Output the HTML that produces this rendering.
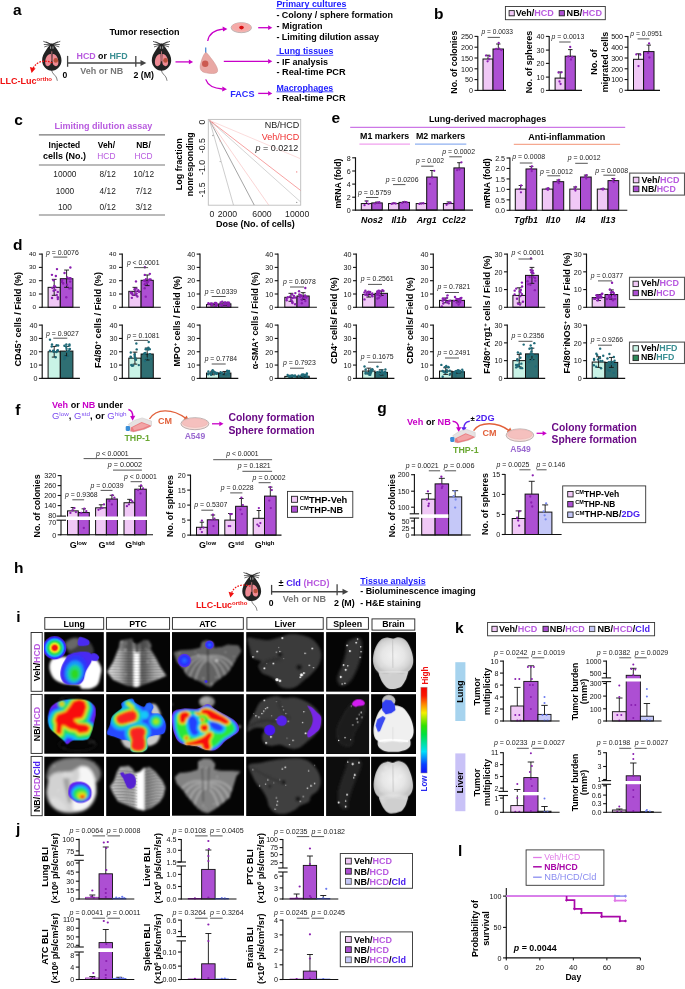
<!DOCTYPE html>
<html><head><meta charset="utf-8"><title>Figure</title>
<style>html,body{margin:0;padding:0;background:#fff}svg{display:block;will-change:transform}text{font-family:"Liberation Sans",sans-serif}</style>
</head><body>
<svg width="685" height="989" viewBox="0 0 685 989" font-family="Liberation Sans, sans-serif">
<rect width="685" height="989" fill="#fff"/>
<!-- pa -->
<text x="13" y="15.2" font-size="15.5" font-weight="bold" fill="#000">a</text>
<text x="109.5" y="34.5" font-size="9" font-weight="bold" fill="#000" textLength="70.1" lengthAdjust="spacingAndGlyphs">Tumor resection</text>
<g transform="translate(51.8 43.8) scale(1)">
<line x1="0" y1="0.8" x2="-8.5" y2="-2.5" stroke="#111" stroke-width="0.65"/>
<line x1="0" y1="0.8" x2="-8" y2="0.7" stroke="#111" stroke-width="0.65"/>
<line x1="0" y1="0.8" x2="-7.5" y2="3.1" stroke="#111" stroke-width="0.65"/>
<line x1="0" y1="0.8" x2="8.5" y2="-2.5" stroke="#111" stroke-width="0.65"/>
<line x1="0" y1="0.8" x2="8" y2="0.7" stroke="#111" stroke-width="0.65"/>
<line x1="0" y1="0.8" x2="7.5" y2="3.1" stroke="#111" stroke-width="0.65"/>
<line x1="0" y1="0.8" x2="-6" y2="-2" stroke="#111" stroke-width="0.65"/>
<line x1="0" y1="0.8" x2="6" y2="-2" stroke="#111" stroke-width="0.65"/>
<path d="M-0.3 26 C0.5 30,3 31,4.2 33 S5 36,5.6 37" fill="none" stroke="#222" stroke-width="0.6"/>
<path d="M0 -0.5 C1.5 0.5,3.5 3,5.5 6 C8 9.5,9.8 13,9.7 17 C9.5 22.5,5 27,0 27 C-5 27,-9.5 22.5,-9.7 17 C-9.8 13,-8 9.5,-5.5 6 C-3.5 3,-1.5 0.5,0 -0.5Z" fill="#222"/>
<line x1="-1.2" y1="2.6" x2="-1.2" y2="5" stroke="#ddd" stroke-width="0.7"/>
<line x1="1.2" y1="2.6" x2="1.2" y2="5" stroke="#ddd" stroke-width="0.7"/>
<line x1="0" y1="7.5" x2="0" y2="17.5" stroke="#b06a70" stroke-width="1"/>
<path d="M-0.9 10.3 C-3.8 9.8,-6.6 13.5,-6.6 18.8 C-6.6 22.3,-4.6 23,-2.5 21.8 C-0.9 21,-0.7 18.5,-0.7 15Z" fill="#ee8a94"/>
<path d="M0.9 10.3 C3.8 9.8,6.6 13.5,6.6 18.8 C6.6 22.3,4.6 23,2.5 21.8 C0.9 21,0.7 18.5,0.7 15Z" fill="#ee8a94"/>
<circle cx="4" cy="16.6" r="2.3" fill="#b8503a"/>
</g>
<g transform="translate(161.5 43.8) scale(1)">
<line x1="0" y1="0.8" x2="-8.5" y2="-2.5" stroke="#111" stroke-width="0.65"/>
<line x1="0" y1="0.8" x2="-8" y2="0.7" stroke="#111" stroke-width="0.65"/>
<line x1="0" y1="0.8" x2="-7.5" y2="3.1" stroke="#111" stroke-width="0.65"/>
<line x1="0" y1="0.8" x2="8.5" y2="-2.5" stroke="#111" stroke-width="0.65"/>
<line x1="0" y1="0.8" x2="8" y2="0.7" stroke="#111" stroke-width="0.65"/>
<line x1="0" y1="0.8" x2="7.5" y2="3.1" stroke="#111" stroke-width="0.65"/>
<line x1="0" y1="0.8" x2="-6" y2="-2" stroke="#111" stroke-width="0.65"/>
<line x1="0" y1="0.8" x2="6" y2="-2" stroke="#111" stroke-width="0.65"/>
<path d="M-0.3 26 C0.5 30,3 31,4.2 33 S5 36,5.6 37" fill="none" stroke="#222" stroke-width="0.6"/>
<path d="M0 -0.5 C1.5 0.5,3.5 3,5.5 6 C8 9.5,9.8 13,9.7 17 C9.5 22.5,5 27,0 27 C-5 27,-9.5 22.5,-9.7 17 C-9.8 13,-8 9.5,-5.5 6 C-3.5 3,-1.5 0.5,0 -0.5Z" fill="#222"/>
<line x1="-1.2" y1="2.6" x2="-1.2" y2="5" stroke="#ddd" stroke-width="0.7"/>
<line x1="1.2" y1="2.6" x2="1.2" y2="5" stroke="#ddd" stroke-width="0.7"/>
<line x1="0" y1="7.5" x2="0" y2="17.5" stroke="#b06a70" stroke-width="1"/>
<path d="M-0.9 10.3 C-3.8 9.8,-6.6 13.5,-6.6 18.8 C-6.6 22.3,-4.6 23,-2.5 21.8 C-0.9 21,-0.7 18.5,-0.7 15Z" fill="#ee8a94"/>
<path d="M0.9 10.3 C3.8 9.8,6.6 13.5,6.6 18.8 C6.6 22.3,4.6 23,2.5 21.8 C0.9 21,0.7 18.5,0.7 15Z" fill="#ee8a94"/>
<circle cx="4" cy="16.6" r="2.3" fill="#b8503a"/>
</g>
<path d="M52.3 62.9 C46 59.8,36.5 60.5,33.2 68.5" fill="none" stroke="#f01010" stroke-width="1.3" stroke-dasharray="1.7 1.2"/>
<path d="M31.6 73 L29.9 67 L35.6 68.6 Z" fill="#f01010"/>
<text x="0" y="83.8" font-size="9" font-weight="bold" fill="#f01010" textLength="52" lengthAdjust="spacingAndGlyphs"><tspan>LLC-Luc</tspan><tspan font-size="6" dy="-3">ortho</tspan></text>
<line x1="67.6" y1="55.9" x2="67.6" y2="66.8" stroke="#444" stroke-width="1.3"/>
<line x1="135.8" y1="55.9" x2="135.8" y2="66.8" stroke="#444" stroke-width="1.3"/>
<line x1="67.6" y1="63" x2="142" y2="63" stroke="#444" stroke-width="1.4"/>
<path d="M146.3 63 L140.5 60 L140.5 66 Z" fill="#444"/>
<text x="65" y="78.1" font-size="8.6" font-weight="bold" fill="#000" text-anchor="middle">0</text>
<text x="133.4" y="78.1" font-size="8.6" font-weight="bold" fill="#000" textLength="20.5" lengthAdjust="spacingAndGlyphs">2 (M)</text>
<text x="76.5" y="58.5" font-size="9" font-weight="bold" fill="#000" textLength="51.1" lengthAdjust="spacingAndGlyphs"><tspan fill="#b85adf">HCD</tspan><tspan> or </tspan><tspan fill="#3b8f93">HFD</tspan></text>
<text x="80.3" y="73.6" font-size="9" font-weight="bold" fill="#777" textLength="42.9" lengthAdjust="spacingAndGlyphs">Veh or NB</text>
<line x1="175.5" y1="61.9" x2="189.4" y2="61.9" stroke="#c800c8" stroke-width="1.3"/>
<path d="M193.1 61.9 L188.9 59.5 L188.9 64.3 Z" fill="#c800c8"/>
<line x1="205.7" y1="47.5" x2="205.7" y2="53" stroke="#4a8ad8" stroke-width="1.3"/>
<path d="M205.5 52.5 C207.5 53,208.5 55,210.5 57.5 C214 62,218.5 68,217.5 71.5 C216.5 74.5,209 73.5,204.5 72.5 C200.5 71.5,199.5 68,200.5 64 C201.5 60,203 55,205.5 52.5Z" fill="#e9a8a4" stroke="#c98f8a" stroke-width="0.5"/>
<circle cx="205.2" cy="63.8" r="3.2" fill="#cc5a50"/>
<path d="M207.7 41 C209 33.5,215 30,223 29.2" fill="none" stroke="#c800c8" stroke-width="1.3"/>
<path d="M227.4 29 L222.6 26.6 L223 31.6 Z" fill="#c800c8"/>
<path d="M205.7 79.4 C208 86,214 88.5,222.5 89" fill="none" stroke="#c800c8" stroke-width="1.3"/>
<path d="M227 89.2 L222.4 86.6 L222.2 91.6 Z" fill="#c800c8"/>
<ellipse cx="241.3" cy="27.7" rx="10.2" ry="5" fill="#f3b4b0" stroke="#b9b0b0" stroke-width="0.9"/>
<ellipse cx="241.3" cy="26.9" rx="9.6" ry="4.1" fill="#f5aaa8"/>
<ellipse cx="241.5" cy="27.6" rx="2.3" ry="1.8" fill="#d80f12"/>
<line x1="258.2" y1="27.7" x2="268.6" y2="27.7" stroke="#c800c8" stroke-width="1.3"/>
<path d="M272.3 27.7 L268.1 25.3 L268.1 30.1 Z" fill="#c800c8"/>
<line x1="223.8" y1="61.3" x2="268.6" y2="61.3" stroke="#c800c8" stroke-width="1.3"/>
<path d="M272.3 61.3 L268.1 58.9 L268.1 63.7 Z" fill="#c800c8"/>
<text x="230.2" y="97.2" font-size="9" font-weight="bold" fill="#2a2aff" textLength="24.3" lengthAdjust="spacingAndGlyphs">FACS</text>
<line x1="258.2" y1="93.4" x2="268.6" y2="93.4" stroke="#c800c8" stroke-width="1.3"/>
<path d="M272.3 93.4 L268.1 91 L268.1 95.8 Z" fill="#c800c8"/>
<text x="276.4" y="7.3" font-size="9" font-weight="bold" fill="#1a1aff" textLength="70" lengthAdjust="spacingAndGlyphs">Primary cultures</text>
<line x1="276.4" y1="8.6" x2="346.4" y2="8.6" stroke="#1a1aff" stroke-width="0.8"/>
<text x="276.4" y="18.1" font-size="9" font-weight="bold" fill="#000" textLength="116.5" lengthAdjust="spacingAndGlyphs">- Colony / sphere formation</text>
<text x="276.4" y="29.2" font-size="9" font-weight="bold" fill="#000">- Migration</text>
<text x="276.4" y="40" font-size="9" font-weight="bold" fill="#000" textLength="102.6" lengthAdjust="spacingAndGlyphs">- Limiting dilution assay</text>
<text x="278.9" y="54" font-size="9" font-weight="bold" fill="#1a1aff" textLength="54.4" lengthAdjust="spacingAndGlyphs">Lung tissues</text>
<line x1="276.4" y1="55.3" x2="333.3" y2="55.3" stroke="#1a1aff" stroke-width="0.8"/>
<text x="276.4" y="64.8" font-size="9" font-weight="bold" fill="#000">- IF analysis</text>
<text x="276.4" y="75.3" font-size="9" font-weight="bold" fill="#000" textLength="69.3" lengthAdjust="spacingAndGlyphs">- Real-time PCR</text>
<text x="276.4" y="90.5" font-size="9" font-weight="bold" fill="#1a1aff" textLength="56.9" lengthAdjust="spacingAndGlyphs">Macrophages</text>
<line x1="276.4" y1="91.8" x2="333.3" y2="91.8" stroke="#1a1aff" stroke-width="0.8"/>
<text x="276.4" y="101.3" font-size="9" font-weight="bold" fill="#000" textLength="69.3" lengthAdjust="spacingAndGlyphs">- Real-time PCR</text>
<!-- pb -->
<text x="434" y="18.8" font-size="15.5" font-weight="bold" fill="#000">b</text>
<rect x="505.4" y="6.5" width="99.9" height="13.2" fill="#fff" stroke="#333" stroke-width="0.9"/>
<rect x="509.1" y="10.6" width="5.2" height="5.2" fill="#f0c8f6" stroke="#222" stroke-width="0.9"/>
<text x="515.7" y="16.4" font-size="8.2" font-weight="bold" fill="#000" textLength="38.2" lengthAdjust="spacingAndGlyphs"><tspan>Veh/</tspan><tspan fill="#b85adf">HCD</tspan></text>
<rect x="559.2" y="10.6" width="5.2" height="5.2" fill="#ad4fd3" stroke="#222" stroke-width="0.9"/>
<text x="566.6" y="16.4" font-size="8.2" font-weight="bold" fill="#000" textLength="35.4" lengthAdjust="spacingAndGlyphs"><tspan>NB/</tspan><tspan fill="#b85adf">HCD</tspan></text>
<rect x="483" y="59" width="10" height="31.4" fill="#f0c8f6" stroke="#111" stroke-width="1"/>
<rect x="493" y="49" width="10.5" height="41.4" fill="#ad4fd3" stroke="#111" stroke-width="1"/>
<line x1="488" y1="55.2" x2="488" y2="59" stroke="#111" stroke-width="0.9"/>
<line x1="485.8" y1="55.2" x2="490.2" y2="55.2" stroke="#111" stroke-width="0.9"/>
<line x1="498.3" y1="44" x2="498.3" y2="49" stroke="#111" stroke-width="0.9"/>
<line x1="496.1" y1="44" x2="500.5" y2="44" stroke="#111" stroke-width="0.9"/>
<circle cx="486" cy="55.6" r="1.15" fill="#8a1fb0"/>
<circle cx="489.7" cy="56.2" r="1.15" fill="#8a1fb0"/>
<circle cx="487.6" cy="61.3" r="1.15" fill="#8a1fb0"/>
<circle cx="489" cy="59.3" r="1.15" fill="#8a1fb0"/>
<circle cx="498.7" cy="42.9" r="1.15" fill="#8a1fb0"/>
<circle cx="496.2" cy="49" r="1.15" fill="#8a1fb0"/>
<circle cx="501.3" cy="50.1" r="1.15" fill="#8a1fb0"/>
<circle cx="499.3" cy="48.7" r="1.15" fill="#8a1fb0"/>
<line x1="477.8" y1="35.9" x2="477.8" y2="90.9" stroke="#111" stroke-width="1.15"/>
<line x1="474.5" y1="36.4" x2="477.8" y2="36.4" stroke="#111" stroke-width="1.09"/>
<text x="473" y="39.17" font-size="7.7" font-weight="normal" fill="#111" text-anchor="end" textLength="11.95" lengthAdjust="spacingAndGlyphs">250</text>
<line x1="474.5" y1="47.2" x2="477.8" y2="47.2" stroke="#111" stroke-width="1.09"/>
<text x="473" y="49.97" font-size="7.7" font-weight="normal" fill="#111" text-anchor="end" textLength="11.95" lengthAdjust="spacingAndGlyphs">200</text>
<line x1="474.5" y1="58" x2="477.8" y2="58" stroke="#111" stroke-width="1.09"/>
<text x="473" y="60.77" font-size="7.7" font-weight="normal" fill="#111" text-anchor="end" textLength="11.95" lengthAdjust="spacingAndGlyphs">150</text>
<line x1="474.5" y1="68.8" x2="477.8" y2="68.8" stroke="#111" stroke-width="1.09"/>
<text x="473" y="71.57" font-size="7.7" font-weight="normal" fill="#111" text-anchor="end" textLength="11.95" lengthAdjust="spacingAndGlyphs">100</text>
<line x1="474.5" y1="79.6" x2="477.8" y2="79.6" stroke="#111" stroke-width="1.09"/>
<text x="473" y="82.37" font-size="7.7" font-weight="normal" fill="#111" text-anchor="end" textLength="7.96" lengthAdjust="spacingAndGlyphs">50</text>
<line x1="474.5" y1="90.4" x2="477.8" y2="90.4" stroke="#111" stroke-width="1.09"/>
<text x="473" y="93.17" font-size="7.7" font-weight="normal" fill="#111" text-anchor="end" textLength="3.98" lengthAdjust="spacingAndGlyphs">0</text>
<line x1="477.3" y1="90.4" x2="506" y2="90.4" stroke="#111" stroke-width="1.1"/>
<text x="481.5" y="34.4" font-size="7.5" font-weight="normal" fill="#1c1c1c" textLength="31.5" lengthAdjust="spacingAndGlyphs"><tspan font-style="italic">p</tspan><tspan> = 0.0033</tspan></text>
<line x1="487.6" y1="37.4" x2="499.9" y2="37.4" stroke="#555" stroke-width="1"/>
<text x="0" y="0" font-size="9.2" font-weight="bold" fill="#000" text-anchor="middle" textLength="63" lengthAdjust="spacingAndGlyphs" transform="translate(457 62.2) rotate(-90)">No. of colonies</text>
<rect x="555.1" y="78.1" width="10.1" height="12.3" fill="#f0c8f6" stroke="#111" stroke-width="1"/>
<rect x="565.2" y="56.2" width="10.1" height="34.2" fill="#ad4fd3" stroke="#111" stroke-width="1"/>
<line x1="560.2" y1="72" x2="560.2" y2="78.1" stroke="#111" stroke-width="0.9"/>
<line x1="558" y1="72" x2="562.4" y2="72" stroke="#111" stroke-width="0.9"/>
<line x1="570.3" y1="49.6" x2="570.3" y2="56.2" stroke="#111" stroke-width="0.9"/>
<line x1="568.1" y1="49.6" x2="572.5" y2="49.6" stroke="#111" stroke-width="0.9"/>
<circle cx="558.5" cy="72.5" r="1.15" fill="#8a1fb0"/>
<circle cx="561.5" cy="72.3" r="1.15" fill="#8a1fb0"/>
<circle cx="559.5" cy="81.5" r="1.15" fill="#8a1fb0"/>
<circle cx="560.6" cy="84" r="1.15" fill="#8a1fb0"/>
<circle cx="570.2" cy="47" r="1.15" fill="#8a1fb0"/>
<circle cx="568.3" cy="56.5" r="1.15" fill="#8a1fb0"/>
<circle cx="572.2" cy="57" r="1.15" fill="#8a1fb0"/>
<circle cx="571" cy="59.5" r="1.15" fill="#8a1fb0"/>
<line x1="549.2" y1="35.9" x2="549.2" y2="90.9" stroke="#111" stroke-width="1.15"/>
<line x1="545.9" y1="36.4" x2="549.2" y2="36.4" stroke="#111" stroke-width="1.09"/>
<text x="544.4" y="39.17" font-size="7.7" font-weight="normal" fill="#111" text-anchor="end" textLength="7.96" lengthAdjust="spacingAndGlyphs">40</text>
<line x1="545.9" y1="50.1" x2="549.2" y2="50.1" stroke="#111" stroke-width="1.09"/>
<text x="544.4" y="52.87" font-size="7.7" font-weight="normal" fill="#111" text-anchor="end" textLength="7.96" lengthAdjust="spacingAndGlyphs">30</text>
<line x1="545.9" y1="63.4" x2="549.2" y2="63.4" stroke="#111" stroke-width="1.09"/>
<text x="544.4" y="66.17" font-size="7.7" font-weight="normal" fill="#111" text-anchor="end" textLength="7.96" lengthAdjust="spacingAndGlyphs">20</text>
<line x1="545.9" y1="77.1" x2="549.2" y2="77.1" stroke="#111" stroke-width="1.09"/>
<text x="544.4" y="79.87" font-size="7.7" font-weight="normal" fill="#111" text-anchor="end" textLength="7.96" lengthAdjust="spacingAndGlyphs">10</text>
<line x1="545.9" y1="90.4" x2="549.2" y2="90.4" stroke="#111" stroke-width="1.09"/>
<text x="544.4" y="93.17" font-size="7.7" font-weight="normal" fill="#111" text-anchor="end" textLength="3.98" lengthAdjust="spacingAndGlyphs">0</text>
<line x1="548.7" y1="90.4" x2="582" y2="90.4" stroke="#111" stroke-width="1.1"/>
<text x="551.5" y="39.2" font-size="7.5" font-weight="normal" fill="#1c1c1c" textLength="32.8" lengthAdjust="spacingAndGlyphs"><tspan font-style="italic">p</tspan><tspan> = 0.0013</tspan></text>
<line x1="559.2" y1="42" x2="570.6" y2="42" stroke="#555" stroke-width="1"/>
<text x="0" y="0" font-size="9.2" font-weight="bold" fill="#000" text-anchor="middle" textLength="62.3" lengthAdjust="spacingAndGlyphs" transform="translate(532.2 62) rotate(-90)">No. of spheres</text>
<rect x="633.5" y="59.3" width="10.1" height="31.1" fill="#f0c8f6" stroke="#111" stroke-width="1"/>
<rect x="643.6" y="51.6" width="10.4" height="38.8" fill="#ad4fd3" stroke="#111" stroke-width="1"/>
<line x1="638.6" y1="53.8" x2="638.6" y2="59.3" stroke="#111" stroke-width="0.9"/>
<line x1="636.4" y1="53.8" x2="640.8" y2="53.8" stroke="#111" stroke-width="0.9"/>
<line x1="648.8" y1="45.1" x2="648.8" y2="51.6" stroke="#111" stroke-width="0.9"/>
<line x1="646.6" y1="45.1" x2="651" y2="45.1" stroke="#111" stroke-width="0.9"/>
<circle cx="636.3" cy="54.4" r="1.15" fill="#8a1fb0"/>
<circle cx="640.3" cy="54.7" r="1.15" fill="#8a1fb0"/>
<circle cx="638.5" cy="66.1" r="1.15" fill="#8a1fb0"/>
<circle cx="649.1" cy="43.4" r="1.15" fill="#8a1fb0"/>
<circle cx="648.1" cy="52.9" r="1.15" fill="#8a1fb0"/>
<circle cx="649.4" cy="57.5" r="1.15" fill="#8a1fb0"/>
<line x1="627.9" y1="35.9" x2="627.9" y2="90.9" stroke="#111" stroke-width="1.15"/>
<line x1="624.6" y1="36.5" x2="627.9" y2="36.5" stroke="#111" stroke-width="1.09"/>
<text x="623.1" y="39.27" font-size="7.7" font-weight="normal" fill="#111" text-anchor="end" textLength="11.95" lengthAdjust="spacingAndGlyphs">500</text>
<line x1="624.6" y1="47.26" x2="627.9" y2="47.26" stroke="#111" stroke-width="1.09"/>
<text x="623.1" y="50.03" font-size="7.7" font-weight="normal" fill="#111" text-anchor="end" textLength="11.95" lengthAdjust="spacingAndGlyphs">400</text>
<line x1="624.6" y1="58.02" x2="627.9" y2="58.02" stroke="#111" stroke-width="1.09"/>
<text x="623.1" y="60.79" font-size="7.7" font-weight="normal" fill="#111" text-anchor="end" textLength="11.95" lengthAdjust="spacingAndGlyphs">300</text>
<line x1="624.6" y1="68.78" x2="627.9" y2="68.78" stroke="#111" stroke-width="1.09"/>
<text x="623.1" y="71.55" font-size="7.7" font-weight="normal" fill="#111" text-anchor="end" textLength="11.95" lengthAdjust="spacingAndGlyphs">200</text>
<line x1="624.6" y1="79.54" x2="627.9" y2="79.54" stroke="#111" stroke-width="1.09"/>
<text x="623.1" y="82.31" font-size="7.7" font-weight="normal" fill="#111" text-anchor="end" textLength="11.95" lengthAdjust="spacingAndGlyphs">100</text>
<line x1="624.6" y1="90.3" x2="627.9" y2="90.3" stroke="#111" stroke-width="1.09"/>
<text x="623.1" y="93.07" font-size="7.7" font-weight="normal" fill="#111" text-anchor="end" textLength="3.98" lengthAdjust="spacingAndGlyphs">0</text>
<line x1="627.4" y1="90.4" x2="660" y2="90.4" stroke="#111" stroke-width="1.1"/>
<text x="630.3" y="35.9" font-size="7.5" font-weight="normal" fill="#1c1c1c" textLength="32.3" lengthAdjust="spacingAndGlyphs"><tspan font-style="italic">p</tspan><tspan> = 0.0951</tspan></text>
<line x1="637.6" y1="38.9" x2="649.4" y2="38.9" stroke="#555" stroke-width="1"/>
<text x="0" y="0" font-size="9.2" font-weight="bold" fill="#000" text-anchor="middle" textLength="25.5" lengthAdjust="spacingAndGlyphs" transform="translate(596.8 62) rotate(-90)">No. of</text>
<text x="0" y="0" font-size="9.2" font-weight="bold" fill="#000" text-anchor="middle" textLength="60.3" lengthAdjust="spacingAndGlyphs" transform="translate(607.7 62) rotate(-90)">migrated cells</text>
<!-- pc -->
<text x="14.3" y="125" font-size="15.5" font-weight="bold" fill="#000">c</text>
<text x="103.4" y="128.9" font-size="9" font-weight="bold" fill="#b85adf" text-anchor="middle" textLength="98" lengthAdjust="spacingAndGlyphs">Limiting dilution assay</text>
<line x1="38.9" y1="134.8" x2="165" y2="134.8" stroke="#777" stroke-width="1.15"/>
<line x1="38.9" y1="165" x2="165" y2="165" stroke="#777" stroke-width="1.15"/>
<line x1="38.9" y1="215" x2="165" y2="215" stroke="#777" stroke-width="1.15"/>
<text x="64.4" y="148.4" font-size="8.4" font-weight="bold" fill="#000" text-anchor="middle">Injected</text>
<text x="64.4" y="158.9" font-size="8.4" font-weight="bold" fill="#000" text-anchor="middle" textLength="43" lengthAdjust="spacingAndGlyphs">cells (No.)</text>
<text x="106.4" y="148.4" font-size="8.4" font-weight="bold" fill="#000" text-anchor="middle">Veh/</text>
<text x="106.4" y="158.9" font-size="8.4" font-weight="normal" fill="#b85adf" text-anchor="middle">HCD</text>
<text x="143.5" y="148.4" font-size="8.4" font-weight="bold" fill="#000" text-anchor="middle">NB/</text>
<text x="143.5" y="158.9" font-size="8.4" font-weight="normal" fill="#b85adf" text-anchor="middle">HCD</text>
<text x="64.9" y="177.3" font-size="8.3" font-weight="normal" fill="#222" text-anchor="middle">10000</text>
<text x="107.7" y="177.3" font-size="8.3" font-weight="normal" fill="#222" text-anchor="middle">8/12</text>
<text x="143.7" y="177.3" font-size="8.3" font-weight="normal" fill="#222" text-anchor="middle">10/12</text>
<text x="64.9" y="193.8" font-size="8.3" font-weight="normal" fill="#222" text-anchor="middle">1000</text>
<text x="107.7" y="193.8" font-size="8.3" font-weight="normal" fill="#222" text-anchor="middle">4/12</text>
<text x="143.7" y="193.8" font-size="8.3" font-weight="normal" fill="#222" text-anchor="middle">7/12</text>
<text x="64.9" y="210.4" font-size="8.3" font-weight="normal" fill="#222" text-anchor="middle">100</text>
<text x="107.7" y="210.4" font-size="8.3" font-weight="normal" fill="#222" text-anchor="middle">0/12</text>
<text x="143.7" y="210.4" font-size="8.3" font-weight="normal" fill="#222" text-anchor="middle">3/12</text>
<rect x="208.3" y="119.4" width="92.4" height="85.8" fill="#fff" stroke="#bdbdbd" stroke-width="0.9"/>
<clipPath id="cc"><rect x="208.3" y="119.4" width="92.4" height="85.8"/></clipPath><g clip-path="url(#cc)">
<line x1="209.6" y1="120.4" x2="233.5" y2="205.2" stroke="#9a9a9a" stroke-width="0.5"/>
<line x1="209.6" y1="120.4" x2="254.3" y2="205.2" stroke="#666" stroke-width="0.6"/>
<line x1="209.6" y1="120.4" x2="268.8" y2="205.2" stroke="#f6b8b8" stroke-width="0.6"/>
<line x1="209.6" y1="120.4" x2="300.7" y2="202" stroke="#a8a8a8" stroke-width="0.5"/>
<line x1="209.6" y1="120.4" x2="300.7" y2="190.5" stroke="#f27070" stroke-width="0.65"/>
<line x1="209.6" y1="120.4" x2="300.7" y2="158.8" stroke="#f8c4c4" stroke-width="0.6"/>
</g>
<circle cx="212.6" cy="122.6" r="0.7" fill="#f08080"/>
<circle cx="212.9" cy="135.5" r="0.7" fill="#999"/>
<circle cx="220.2" cy="141" r="0.7" fill="#f4a0a0"/>
<circle cx="220.2" cy="161.6" r="0.7" fill="#aaa"/>
<circle cx="296.7" cy="171.9" r="0.7" fill="#f08080"/>
<circle cx="296.7" cy="202.4" r="0.7" fill="#999"/>
<text x="0" y="0" font-size="8.7" font-weight="normal" fill="#222" text-anchor="middle" transform="translate(204.8 122.2) rotate(-90)">0</text>
<text x="0" y="0" font-size="8.7" font-weight="normal" fill="#222" text-anchor="middle" transform="translate(204.8 145.7) rotate(-90)">-0.5</text>
<text x="0" y="0" font-size="8.7" font-weight="normal" fill="#222" text-anchor="middle" transform="translate(204.8 167.5) rotate(-90)">-1.0</text>
<text x="0" y="0" font-size="8.7" font-weight="normal" fill="#222" text-anchor="middle" transform="translate(204.8 189.9) rotate(-90)">-1.5</text>
<text x="212" y="216.8" font-size="8.7" font-weight="normal" fill="#222" text-anchor="middle">0</text>
<text x="227.4" y="216.8" font-size="8.7" font-weight="normal" fill="#222" text-anchor="middle">2000</text>
<text x="262" y="216.8" font-size="8.7" font-weight="normal" fill="#222" text-anchor="middle">6000</text>
<text x="297.2" y="216.8" font-size="8.7" font-weight="normal" fill="#222" text-anchor="middle">10000</text>
<text x="255.4" y="227.3" font-size="8.8" font-weight="bold" fill="#000" text-anchor="middle" textLength="79" lengthAdjust="spacingAndGlyphs">Dose (No. of cells)</text>
<text x="0" y="0" font-size="9.2" font-weight="bold" fill="#000" text-anchor="middle" textLength="52" lengthAdjust="spacingAndGlyphs" transform="translate(181.6 164.3) rotate(-90)">Log fraction</text>
<text x="0" y="0" font-size="9.2" font-weight="bold" fill="#000" text-anchor="middle" textLength="64" lengthAdjust="spacingAndGlyphs" transform="translate(192.5 164.3) rotate(-90)">nonresponding</text>
<text x="299.3" y="128.1" font-size="9" font-weight="normal" fill="#222" text-anchor="end">NB/HCD</text>
<text x="299.3" y="139.5" font-size="9" font-weight="normal" fill="#f03030" text-anchor="end">Veh/HCD</text>
<text x="298.4" y="151.1" font-size="9" font-weight="normal" fill="#222" text-anchor="end"><tspan font-style="italic">p</tspan><tspan> = 0.0212</tspan></text>
<!-- pe -->
<text x="331.5" y="122.6" font-size="15.5" font-weight="bold" fill="#000">e</text>
<text x="428.9" y="122.3" font-size="9" font-weight="bold" fill="#000" textLength="117.3" lengthAdjust="spacingAndGlyphs">Lung-derived macrophages</text>
<line x1="350.2" y1="127.3" x2="625.2" y2="127.3" stroke="#cc77e6" stroke-width="1.2"/>
<text x="360" y="138.9" font-size="9" font-weight="bold" fill="#000" textLength="49.3" lengthAdjust="spacingAndGlyphs">M1 markers</text>
<line x1="359.4" y1="144.2" x2="410" y2="144.2" stroke="#f0a0ee" stroke-width="1.2"/>
<text x="415.9" y="138.9" font-size="9" font-weight="bold" fill="#000" textLength="49.4" lengthAdjust="spacingAndGlyphs">M2 markers</text>
<line x1="415" y1="144.2" x2="466.3" y2="144.2" stroke="#8fb0f0" stroke-width="1.2"/>
<text x="566.8" y="139.9" font-size="9" font-weight="bold" fill="#000" text-anchor="middle" textLength="77" lengthAdjust="spacingAndGlyphs">Anti-inflammation</text>
<line x1="513.8" y1="144.4" x2="620.1" y2="144.4" stroke="#f5a890" stroke-width="1.2"/>
<rect x="361.3" y="203.56" width="10.5" height="6.54" fill="#f0c8f6" stroke="#111" stroke-width="1"/>
<rect x="371.8" y="202.91" width="10.5" height="7.19" fill="#ad4fd3" stroke="#111" stroke-width="1"/>
<line x1="366.55" y1="200.94" x2="366.55" y2="203.56" stroke="#111" stroke-width="0.9"/>
<line x1="364.55" y1="200.94" x2="368.55" y2="200.94" stroke="#111" stroke-width="0.9"/>
<line x1="377.05" y1="202.12" x2="377.05" y2="202.91" stroke="#111" stroke-width="0.9"/>
<line x1="375.05" y1="202.12" x2="379.05" y2="202.12" stroke="#111" stroke-width="0.9"/>
<circle cx="364.55" cy="205.19" r="1.15" fill="#8a1fb0"/>
<circle cx="366.55" cy="201.6" r="1.15" fill="#8a1fb0"/>
<circle cx="368.55" cy="203.89" r="1.15" fill="#8a1fb0"/>
<circle cx="375.05" cy="203.56" r="1.15" fill="#8a1fb0"/>
<circle cx="377.35" cy="202.58" r="1.15" fill="#8a1fb0"/>
<circle cx="379.35" cy="202.25" r="1.15" fill="#8a1fb0"/>
<text x="371.8" y="222.6" font-size="8.8" font-weight="bold" fill="#000" text-anchor="middle" font-style="italic">Nos2</text>
<rect x="388.5" y="203.56" width="10.5" height="6.54" fill="#f0c8f6" stroke="#111" stroke-width="1"/>
<rect x="399" y="202.38" width="10.5" height="7.72" fill="#ad4fd3" stroke="#111" stroke-width="1"/>
<line x1="393.75" y1="203.04" x2="393.75" y2="203.56" stroke="#111" stroke-width="0.9"/>
<line x1="391.75" y1="203.04" x2="395.75" y2="203.04" stroke="#111" stroke-width="0.9"/>
<line x1="404.25" y1="201.73" x2="404.25" y2="202.38" stroke="#111" stroke-width="0.9"/>
<line x1="402.25" y1="201.73" x2="406.25" y2="201.73" stroke="#111" stroke-width="0.9"/>
<circle cx="391.75" cy="203.89" r="1.15" fill="#8a1fb0"/>
<circle cx="393.75" cy="203.23" r="1.15" fill="#8a1fb0"/>
<circle cx="395.75" cy="203.56" r="1.15" fill="#8a1fb0"/>
<circle cx="402.25" cy="202.91" r="1.15" fill="#8a1fb0"/>
<circle cx="404.55" cy="201.92" r="1.15" fill="#8a1fb0"/>
<circle cx="406.55" cy="202.25" r="1.15" fill="#8a1fb0"/>
<text x="399" y="222.6" font-size="8.8" font-weight="bold" fill="#000" text-anchor="middle" font-style="italic">Il1b</text>
<rect x="416.2" y="203.56" width="10.5" height="6.54" fill="#f0c8f6" stroke="#111" stroke-width="1"/>
<rect x="426.7" y="177.07" width="10.5" height="33.03" fill="#ad4fd3" stroke="#111" stroke-width="1"/>
<line x1="421.45" y1="203.04" x2="421.45" y2="203.56" stroke="#111" stroke-width="0.9"/>
<line x1="419.45" y1="203.04" x2="423.45" y2="203.04" stroke="#111" stroke-width="0.9"/>
<line x1="431.95" y1="170.53" x2="431.95" y2="177.07" stroke="#111" stroke-width="0.9"/>
<line x1="429.95" y1="170.53" x2="433.95" y2="170.53" stroke="#111" stroke-width="0.9"/>
<circle cx="419.45" cy="203.89" r="1.15" fill="#8a1fb0"/>
<circle cx="421.45" cy="203.56" r="1.15" fill="#8a1fb0"/>
<circle cx="423.45" cy="203.23" r="1.15" fill="#8a1fb0"/>
<circle cx="429.95" cy="183.94" r="1.15" fill="#8a1fb0"/>
<circle cx="432.25" cy="177.4" r="1.15" fill="#8a1fb0"/>
<circle cx="434.25" cy="170.86" r="1.15" fill="#8a1fb0"/>
<text x="426.7" y="222.6" font-size="8.8" font-weight="bold" fill="#000" text-anchor="middle" font-style="italic">Arg1</text>
<rect x="443.4" y="203.56" width="10.5" height="6.54" fill="#f0c8f6" stroke="#111" stroke-width="1"/>
<rect x="453.9" y="167.92" width="10.5" height="42.18" fill="#ad4fd3" stroke="#111" stroke-width="1"/>
<line x1="448.65" y1="201.92" x2="448.65" y2="203.56" stroke="#111" stroke-width="0.9"/>
<line x1="446.65" y1="201.92" x2="450.65" y2="201.92" stroke="#111" stroke-width="0.9"/>
<line x1="459.15" y1="162.69" x2="459.15" y2="167.92" stroke="#111" stroke-width="0.9"/>
<line x1="457.15" y1="162.69" x2="461.15" y2="162.69" stroke="#111" stroke-width="0.9"/>
<circle cx="446.65" cy="204.87" r="1.15" fill="#8a1fb0"/>
<circle cx="448.65" cy="203.23" r="1.15" fill="#8a1fb0"/>
<circle cx="450.65" cy="202.58" r="1.15" fill="#8a1fb0"/>
<circle cx="457.15" cy="170.21" r="1.15" fill="#8a1fb0"/>
<circle cx="459.45" cy="169.55" r="1.15" fill="#8a1fb0"/>
<circle cx="461.45" cy="162.36" r="1.15" fill="#8a1fb0"/>
<text x="453.9" y="222.6" font-size="8.8" font-weight="bold" fill="#000" text-anchor="middle" font-style="italic">Ccl22</text>
<line x1="355.5" y1="157.3" x2="355.5" y2="210.6" stroke="#111" stroke-width="1.15"/>
<line x1="352.2" y1="157.8" x2="355.5" y2="157.8" stroke="#111" stroke-width="1.09"/>
<text x="350.7" y="160.57" font-size="7.7" font-weight="normal" fill="#111" text-anchor="end" textLength="3.98" lengthAdjust="spacingAndGlyphs">8</text>
<line x1="352.2" y1="171" x2="355.5" y2="171" stroke="#111" stroke-width="1.09"/>
<text x="350.7" y="173.77" font-size="7.7" font-weight="normal" fill="#111" text-anchor="end" textLength="3.98" lengthAdjust="spacingAndGlyphs">6</text>
<line x1="352.2" y1="184.1" x2="355.5" y2="184.1" stroke="#111" stroke-width="1.09"/>
<text x="350.7" y="186.87" font-size="7.7" font-weight="normal" fill="#111" text-anchor="end" textLength="3.98" lengthAdjust="spacingAndGlyphs">4</text>
<line x1="352.2" y1="197.2" x2="355.5" y2="197.2" stroke="#111" stroke-width="1.09"/>
<text x="350.7" y="199.97" font-size="7.7" font-weight="normal" fill="#111" text-anchor="end" textLength="3.98" lengthAdjust="spacingAndGlyphs">2</text>
<line x1="352.2" y1="210.1" x2="355.5" y2="210.1" stroke="#111" stroke-width="1.09"/>
<text x="350.7" y="212.87" font-size="7.7" font-weight="normal" fill="#111" text-anchor="end" textLength="3.98" lengthAdjust="spacingAndGlyphs">0</text>
<line x1="355" y1="210.1" x2="473" y2="210.1" stroke="#111" stroke-width="1.1"/>
<text x="358" y="194.6" font-size="7.5" font-weight="normal" fill="#1c1c1c" textLength="33" lengthAdjust="spacingAndGlyphs"><tspan font-style="italic">p</tspan><tspan> = 0.5759</tspan></text>
<line x1="366" y1="197.5" x2="378.3" y2="197.5" stroke="#555" stroke-width="1"/>
<text x="385.7" y="181.5" font-size="7.5" font-weight="normal" fill="#1c1c1c" textLength="32.8" lengthAdjust="spacingAndGlyphs"><tspan font-style="italic">p</tspan><tspan> = 0.0206</tspan></text>
<line x1="393" y1="184.6" x2="405.4" y2="184.6" stroke="#555" stroke-width="1"/>
<text x="415.9" y="163.3" font-size="7.5" font-weight="normal" fill="#1c1c1c" textLength="28.1" lengthAdjust="spacingAndGlyphs"><tspan font-style="italic">p</tspan><tspan> = 0.002</tspan></text>
<line x1="421.2" y1="166.2" x2="433.5" y2="166.2" stroke="#555" stroke-width="1"/>
<text x="442.2" y="153.6" font-size="7.5" font-weight="normal" fill="#1c1c1c" textLength="32.8" lengthAdjust="spacingAndGlyphs"><tspan font-style="italic">p</tspan><tspan> = 0.0002</tspan></text>
<line x1="449.3" y1="156.8" x2="461.9" y2="156.8" stroke="#555" stroke-width="1"/>
<text x="0" y="0" font-size="9.2" font-weight="bold" fill="#000" text-anchor="middle" textLength="50" lengthAdjust="spacingAndGlyphs" transform="translate(340.9 183.6) rotate(-90)">mRNA (fold)</text>
<rect x="515.3" y="189.1" width="10.7" height="21.2" fill="#f0c8f6" stroke="#111" stroke-width="1"/>
<rect x="526" y="168.96" width="10.7" height="41.34" fill="#ad4fd3" stroke="#111" stroke-width="1"/>
<line x1="520.65" y1="185.5" x2="520.65" y2="189.1" stroke="#111" stroke-width="0.9"/>
<line x1="518.65" y1="185.5" x2="522.65" y2="185.5" stroke="#111" stroke-width="0.9"/>
<line x1="531.35" y1="166.42" x2="531.35" y2="168.96" stroke="#111" stroke-width="0.9"/>
<line x1="529.35" y1="166.42" x2="533.35" y2="166.42" stroke="#111" stroke-width="0.9"/>
<circle cx="520.95" cy="192.28" r="1.15" fill="#8a1fb0"/>
<circle cx="519.85" cy="189.1" r="1.15" fill="#8a1fb0"/>
<circle cx="521.15" cy="185.5" r="1.15" fill="#8a1fb0"/>
<circle cx="531.75" cy="171.08" r="1.15" fill="#8a1fb0"/>
<circle cx="530.75" cy="168.96" r="1.15" fill="#8a1fb0"/>
<circle cx="531.95" cy="166.42" r="1.15" fill="#8a1fb0"/>
<text x="526" y="223.1" font-size="8.8" font-weight="bold" fill="#000" text-anchor="middle" font-style="italic">Tgfb1</text>
<rect x="542.3" y="189.1" width="10.7" height="21.2" fill="#f0c8f6" stroke="#111" stroke-width="1"/>
<rect x="553" y="181.68" width="10.7" height="28.62" fill="#ad4fd3" stroke="#111" stroke-width="1"/>
<line x1="547.65" y1="188.25" x2="547.65" y2="189.1" stroke="#111" stroke-width="0.9"/>
<line x1="545.65" y1="188.25" x2="549.65" y2="188.25" stroke="#111" stroke-width="0.9"/>
<line x1="558.35" y1="179.98" x2="558.35" y2="181.68" stroke="#111" stroke-width="0.9"/>
<line x1="556.35" y1="179.98" x2="560.35" y2="179.98" stroke="#111" stroke-width="0.9"/>
<circle cx="547.95" cy="189.74" r="1.15" fill="#8a1fb0"/>
<circle cx="546.85" cy="189.1" r="1.15" fill="#8a1fb0"/>
<circle cx="548.15" cy="188.25" r="1.15" fill="#8a1fb0"/>
<circle cx="558.75" cy="183.16" r="1.15" fill="#8a1fb0"/>
<circle cx="557.75" cy="181.47" r="1.15" fill="#8a1fb0"/>
<circle cx="558.95" cy="179.98" r="1.15" fill="#8a1fb0"/>
<text x="553" y="223.1" font-size="8.8" font-weight="bold" fill="#000" text-anchor="middle" font-style="italic">Il10</text>
<rect x="569.8" y="189.1" width="10.7" height="21.2" fill="#f0c8f6" stroke="#111" stroke-width="1"/>
<rect x="580.5" y="177.02" width="10.7" height="33.28" fill="#ad4fd3" stroke="#111" stroke-width="1"/>
<line x1="575.15" y1="186.98" x2="575.15" y2="189.1" stroke="#111" stroke-width="0.9"/>
<line x1="573.15" y1="186.98" x2="577.15" y2="186.98" stroke="#111" stroke-width="0.9"/>
<line x1="585.85" y1="175.11" x2="585.85" y2="177.02" stroke="#111" stroke-width="0.9"/>
<line x1="583.85" y1="175.11" x2="587.85" y2="175.11" stroke="#111" stroke-width="0.9"/>
<circle cx="575.45" cy="190.58" r="1.15" fill="#8a1fb0"/>
<circle cx="574.35" cy="189.1" r="1.15" fill="#8a1fb0"/>
<circle cx="575.65" cy="186.98" r="1.15" fill="#8a1fb0"/>
<circle cx="586.25" cy="178.5" r="1.15" fill="#8a1fb0"/>
<circle cx="585.25" cy="177.02" r="1.15" fill="#8a1fb0"/>
<circle cx="586.45" cy="175.11" r="1.15" fill="#8a1fb0"/>
<text x="580.5" y="223.1" font-size="8.8" font-weight="bold" fill="#000" text-anchor="middle" font-style="italic">Il4</text>
<rect x="597.3" y="189.1" width="10.7" height="21.2" fill="#f0c8f6" stroke="#111" stroke-width="1"/>
<rect x="608" y="180.62" width="10.7" height="29.68" fill="#ad4fd3" stroke="#111" stroke-width="1"/>
<line x1="602.65" y1="188.46" x2="602.65" y2="189.1" stroke="#111" stroke-width="0.9"/>
<line x1="600.65" y1="188.46" x2="604.65" y2="188.46" stroke="#111" stroke-width="0.9"/>
<line x1="613.35" y1="178.5" x2="613.35" y2="180.62" stroke="#111" stroke-width="0.9"/>
<line x1="611.35" y1="178.5" x2="615.35" y2="178.5" stroke="#111" stroke-width="0.9"/>
<circle cx="602.95" cy="189.52" r="1.15" fill="#8a1fb0"/>
<circle cx="601.85" cy="189.1" r="1.15" fill="#8a1fb0"/>
<circle cx="603.15" cy="188.68" r="1.15" fill="#8a1fb0"/>
<circle cx="613.75" cy="182.1" r="1.15" fill="#8a1fb0"/>
<circle cx="612.75" cy="180.62" r="1.15" fill="#8a1fb0"/>
<circle cx="613.95" cy="178.92" r="1.15" fill="#8a1fb0"/>
<text x="608" y="223.1" font-size="8.8" font-weight="bold" fill="#000" text-anchor="middle" font-style="italic">Il13</text>
<line x1="509.9" y1="157.5" x2="509.9" y2="210.8" stroke="#111" stroke-width="1.15"/>
<line x1="506.6" y1="158" x2="509.9" y2="158" stroke="#111" stroke-width="1.09"/>
<text x="505.1" y="160.77" font-size="7.7" font-weight="normal" fill="#111" text-anchor="end" textLength="9.95" lengthAdjust="spacingAndGlyphs">2.5</text>
<line x1="506.6" y1="168.46" x2="509.9" y2="168.46" stroke="#111" stroke-width="1.09"/>
<text x="505.1" y="171.23" font-size="7.7" font-weight="normal" fill="#111" text-anchor="end" textLength="9.95" lengthAdjust="spacingAndGlyphs">2.0</text>
<line x1="506.6" y1="178.92" x2="509.9" y2="178.92" stroke="#111" stroke-width="1.09"/>
<text x="505.1" y="181.69" font-size="7.7" font-weight="normal" fill="#111" text-anchor="end" textLength="9.95" lengthAdjust="spacingAndGlyphs">1.5</text>
<line x1="506.6" y1="189.38" x2="509.9" y2="189.38" stroke="#111" stroke-width="1.09"/>
<text x="505.1" y="192.15" font-size="7.7" font-weight="normal" fill="#111" text-anchor="end" textLength="9.95" lengthAdjust="spacingAndGlyphs">1.0</text>
<line x1="506.6" y1="199.84" x2="509.9" y2="199.84" stroke="#111" stroke-width="1.09"/>
<text x="505.1" y="202.61" font-size="7.7" font-weight="normal" fill="#111" text-anchor="end" textLength="9.95" lengthAdjust="spacingAndGlyphs">0.5</text>
<line x1="506.6" y1="210.3" x2="509.9" y2="210.3" stroke="#111" stroke-width="1.09"/>
<text x="505.1" y="213.07" font-size="7.7" font-weight="normal" fill="#111" text-anchor="end" textLength="9.95" lengthAdjust="spacingAndGlyphs">0.0</text>
<line x1="509.4" y1="210.3" x2="627.3" y2="210.3" stroke="#111" stroke-width="1.1"/>
<text x="512.3" y="159.4" font-size="7.5" font-weight="normal" fill="#1c1c1c" textLength="32.9" lengthAdjust="spacingAndGlyphs"><tspan font-style="italic">p</tspan><tspan> = 0.0008</tspan></text>
<line x1="519.8" y1="163" x2="532.4" y2="163" stroke="#555" stroke-width="1"/>
<text x="539.9" y="173.5" font-size="7.5" font-weight="normal" fill="#1c1c1c" textLength="32.9" lengthAdjust="spacingAndGlyphs"><tspan font-style="italic">p</tspan><tspan> = 0.0012</tspan></text>
<line x1="547.3" y1="175.8" x2="560.2" y2="175.8" stroke="#555" stroke-width="1"/>
<text x="567.7" y="160" font-size="7.5" font-weight="normal" fill="#1c1c1c" textLength="32.9" lengthAdjust="spacingAndGlyphs"><tspan font-style="italic">p</tspan><tspan> = 0.0012</tspan></text>
<line x1="575.2" y1="163.3" x2="587.8" y2="163.3" stroke="#555" stroke-width="1"/>
<text x="595.2" y="172.9" font-size="7.5" font-weight="normal" fill="#1c1c1c" textLength="33" lengthAdjust="spacingAndGlyphs"><tspan font-style="italic">p</tspan><tspan> = 0.0008</tspan></text>
<line x1="603.3" y1="175.2" x2="615.3" y2="175.2" stroke="#555" stroke-width="1"/>
<text x="0" y="0" font-size="9.2" font-weight="bold" fill="#000" text-anchor="middle" textLength="50" lengthAdjust="spacingAndGlyphs" transform="translate(489.6 183.3) rotate(-90)">mRNA (fold)</text>
<rect x="629.7" y="173.1" width="54.8" height="22" fill="#fff" stroke="#555" stroke-width="1.1"/>
<rect x="633.3" y="177.2" width="5.6" height="5.6" fill="#f0c8f6" stroke="#222" stroke-width="0.9"/>
<text x="641.6" y="182.5" font-size="8.4" font-weight="bold" fill="#000" textLength="38" lengthAdjust="spacingAndGlyphs"><tspan>Veh/</tspan><tspan fill="#b85adf">HCD</tspan></text>
<rect x="633.3" y="186.1" width="5.6" height="5.6" fill="#ad4fd3" stroke="#222" stroke-width="0.9"/>
<text x="641.6" y="191.6" font-size="8.4" font-weight="bold" fill="#000" textLength="34.2" lengthAdjust="spacingAndGlyphs"><tspan>NB/</tspan><tspan fill="#b85adf">HCD</tspan></text>
<!-- pd -->
<text x="13" y="249.7" font-size="15.5" font-weight="bold" fill="#000">d</text>
<text x="0" y="0" font-size="9.2" font-weight="bold" fill="#000" text-anchor="middle" textLength="94.6" lengthAdjust="spacingAndGlyphs" transform="translate(20.8 319.3) rotate(-90)"><tspan>CD45</tspan><tspan font-size="6" dy="-3">+</tspan><tspan dy="3"> cells / Field (%)</tspan></text>
<rect x="48.1" y="287.35" width="12.2" height="19.95" fill="#f0c8f6" stroke="#111" stroke-width="1"/>
<rect x="60.3" y="278.7" width="12.6" height="28.6" fill="#ad4fd3" stroke="#111" stroke-width="1"/>
<line x1="54.2" y1="279.37" x2="54.2" y2="295.33" stroke="#111" stroke-width="0.9"/>
<line x1="51.8" y1="279.37" x2="56.6" y2="279.37" stroke="#111" stroke-width="0.9"/>
<line x1="51.8" y1="295.33" x2="56.6" y2="295.33" stroke="#111" stroke-width="0.9"/>
<line x1="66.6" y1="270.06" x2="66.6" y2="287.35" stroke="#111" stroke-width="0.9"/>
<line x1="64.2" y1="270.06" x2="69" y2="270.06" stroke="#111" stroke-width="0.9"/>
<line x1="64.2" y1="287.35" x2="69" y2="287.35" stroke="#111" stroke-width="0.9"/>
<circle cx="53.49" cy="280.21" r="1.2" fill="#8a1fb0"/>
<circle cx="52.03" cy="297.94" r="1.2" fill="#8a1fb0"/>
<circle cx="56.75" cy="295.05" r="1.2" fill="#8a1fb0"/>
<circle cx="52.43" cy="287.9" r="1.2" fill="#8a1fb0"/>
<circle cx="57.87" cy="297.27" r="1.2" fill="#8a1fb0"/>
<circle cx="54.24" cy="285.88" r="1.2" fill="#8a1fb0"/>
<circle cx="55.27" cy="289.88" r="1.2" fill="#8a1fb0"/>
<circle cx="51.95" cy="274.87" r="1.2" fill="#8a1fb0"/>
<circle cx="56.99" cy="269.12" r="1.2" fill="#8a1fb0"/>
<circle cx="57.82" cy="298.96" r="1.2" fill="#8a1fb0"/>
<circle cx="57.79" cy="291.88" r="1.2" fill="#8a1fb0"/>
<circle cx="55.86" cy="275.95" r="1.2" fill="#8a1fb0"/>
<circle cx="53.61" cy="290.79" r="1.2" fill="#8a1fb0"/>
<circle cx="55.2" cy="286.74" r="1.2" fill="#8a1fb0"/>
<circle cx="69.37" cy="288.39" r="1.2" fill="#8a1fb0"/>
<circle cx="70.76" cy="288.13" r="1.2" fill="#8a1fb0"/>
<circle cx="62.17" cy="279.88" r="1.2" fill="#8a1fb0"/>
<circle cx="66.28" cy="297.23" r="1.2" fill="#8a1fb0"/>
<circle cx="70.37" cy="267.57" r="1.2" fill="#8a1fb0"/>
<circle cx="62.96" cy="282.85" r="1.2" fill="#8a1fb0"/>
<circle cx="67.01" cy="284.77" r="1.2" fill="#8a1fb0"/>
<circle cx="67.3" cy="277.51" r="1.2" fill="#8a1fb0"/>
<circle cx="64.53" cy="272.98" r="1.2" fill="#8a1fb0"/>
<circle cx="70.51" cy="278.23" r="1.2" fill="#8a1fb0"/>
<circle cx="69.39" cy="278.23" r="1.2" fill="#8a1fb0"/>
<circle cx="63.2" cy="283.52" r="1.2" fill="#8a1fb0"/>
<circle cx="61.92" cy="281.87" r="1.2" fill="#8a1fb0"/>
<circle cx="70.09" cy="281.58" r="1.2" fill="#8a1fb0"/>
<line x1="42.2" y1="253.6" x2="42.2" y2="307.8" stroke="#111" stroke-width="1.15"/>
<line x1="38.9" y1="254.1" x2="42.2" y2="254.1" stroke="#111" stroke-width="1.09"/>
<text x="36.3" y="256.12" font-size="5.6" font-weight="normal" fill="#111" text-anchor="end" textLength="7.35" lengthAdjust="spacingAndGlyphs">40</text>
<line x1="38.9" y1="267.4" x2="42.2" y2="267.4" stroke="#111" stroke-width="1.09"/>
<text x="36.3" y="269.42" font-size="5.6" font-weight="normal" fill="#111" text-anchor="end" textLength="7.35" lengthAdjust="spacingAndGlyphs">30</text>
<line x1="38.9" y1="280.7" x2="42.2" y2="280.7" stroke="#111" stroke-width="1.09"/>
<text x="36.3" y="282.72" font-size="5.6" font-weight="normal" fill="#111" text-anchor="end" textLength="7.35" lengthAdjust="spacingAndGlyphs">20</text>
<line x1="38.9" y1="294" x2="42.2" y2="294" stroke="#111" stroke-width="1.09"/>
<text x="36.3" y="296.02" font-size="5.6" font-weight="normal" fill="#111" text-anchor="end" textLength="7.35" lengthAdjust="spacingAndGlyphs">10</text>
<line x1="38.9" y1="307.3" x2="42.2" y2="307.3" stroke="#111" stroke-width="1.09"/>
<text x="36.3" y="309.32" font-size="5.6" font-weight="normal" fill="#111" text-anchor="end" textLength="3.67" lengthAdjust="spacingAndGlyphs">0</text>
<line x1="41.7" y1="307.3" x2="79.9" y2="307.3" stroke="#111" stroke-width="1.1"/>
<text x="46" y="255" font-size="7.5" font-weight="normal" fill="#1c1c1c" textLength="32.8" lengthAdjust="spacingAndGlyphs"><tspan font-style="italic">p</tspan><tspan> = 0.0076</tspan></text>
<line x1="53.3" y1="257.1" x2="67.3" y2="257.1" stroke="#555" stroke-width="1"/>
<rect x="48.1" y="351.75" width="12.2" height="26.65" fill="#c9f3e6" stroke="#111" stroke-width="1"/>
<rect x="60.3" y="351.08" width="12.6" height="27.32" fill="#2f6f73" stroke="#111" stroke-width="1"/>
<line x1="54.2" y1="346.42" x2="54.2" y2="357.08" stroke="#111" stroke-width="0.9"/>
<line x1="51.8" y1="346.42" x2="56.6" y2="346.42" stroke="#111" stroke-width="0.9"/>
<line x1="51.8" y1="357.08" x2="56.6" y2="357.08" stroke="#111" stroke-width="0.9"/>
<line x1="66.6" y1="346.42" x2="66.6" y2="355.75" stroke="#111" stroke-width="0.9"/>
<line x1="64.2" y1="346.42" x2="69" y2="346.42" stroke="#111" stroke-width="0.9"/>
<line x1="64.2" y1="355.75" x2="69" y2="355.75" stroke="#111" stroke-width="0.9"/>
<circle cx="56.57" cy="345.23" r="1.2" fill="#1f6a78"/>
<circle cx="52" cy="344.41" r="1.2" fill="#1f6a78"/>
<circle cx="55.56" cy="357.28" r="1.2" fill="#1f6a78"/>
<circle cx="56.8" cy="351.59" r="1.2" fill="#1f6a78"/>
<circle cx="57.22" cy="350.74" r="1.2" fill="#1f6a78"/>
<circle cx="53.59" cy="351.07" r="1.2" fill="#1f6a78"/>
<circle cx="53.71" cy="351.72" r="1.2" fill="#1f6a78"/>
<circle cx="56.19" cy="352.08" r="1.2" fill="#1f6a78"/>
<circle cx="57.81" cy="350.13" r="1.2" fill="#1f6a78"/>
<circle cx="49.98" cy="339.65" r="1.2" fill="#1f6a78"/>
<circle cx="58.15" cy="345.51" r="1.2" fill="#1f6a78"/>
<circle cx="53.13" cy="350.74" r="1.2" fill="#1f6a78"/>
<circle cx="49.96" cy="350.65" r="1.2" fill="#1f6a78"/>
<circle cx="51.7" cy="346.56" r="1.2" fill="#1f6a78"/>
<circle cx="66.46" cy="348.87" r="1.2" fill="#1f6a78"/>
<circle cx="64.36" cy="359.01" r="1.2" fill="#1f6a78"/>
<circle cx="66.32" cy="344.55" r="1.2" fill="#1f6a78"/>
<circle cx="69.04" cy="351.07" r="1.2" fill="#1f6a78"/>
<circle cx="64.46" cy="356.39" r="1.2" fill="#1f6a78"/>
<circle cx="69.44" cy="345.65" r="1.2" fill="#1f6a78"/>
<circle cx="66.96" cy="351.66" r="1.2" fill="#1f6a78"/>
<circle cx="68.31" cy="355.63" r="1.2" fill="#1f6a78"/>
<circle cx="69.47" cy="349.11" r="1.2" fill="#1f6a78"/>
<circle cx="64.4" cy="345.81" r="1.2" fill="#1f6a78"/>
<circle cx="69.84" cy="348.87" r="1.2" fill="#1f6a78"/>
<circle cx="65.05" cy="357.45" r="1.2" fill="#1f6a78"/>
<circle cx="69.46" cy="344.45" r="1.2" fill="#1f6a78"/>
<circle cx="66.08" cy="346.69" r="1.2" fill="#1f6a78"/>
<line x1="42.2" y1="324.6" x2="42.2" y2="378.9" stroke="#111" stroke-width="1.15"/>
<line x1="38.9" y1="325.1" x2="42.2" y2="325.1" stroke="#111" stroke-width="1.09"/>
<text x="37.4" y="327.87" font-size="7.7" font-weight="normal" fill="#111" text-anchor="end" textLength="7.96" lengthAdjust="spacingAndGlyphs">40</text>
<line x1="38.9" y1="338.43" x2="42.2" y2="338.43" stroke="#111" stroke-width="1.09"/>
<text x="37.4" y="341.2" font-size="7.7" font-weight="normal" fill="#111" text-anchor="end" textLength="7.96" lengthAdjust="spacingAndGlyphs">30</text>
<line x1="38.9" y1="351.75" x2="42.2" y2="351.75" stroke="#111" stroke-width="1.09"/>
<text x="37.4" y="354.52" font-size="7.7" font-weight="normal" fill="#111" text-anchor="end" textLength="7.96" lengthAdjust="spacingAndGlyphs">20</text>
<line x1="38.9" y1="365.07" x2="42.2" y2="365.07" stroke="#111" stroke-width="1.09"/>
<text x="37.4" y="367.85" font-size="7.7" font-weight="normal" fill="#111" text-anchor="end" textLength="7.96" lengthAdjust="spacingAndGlyphs">10</text>
<line x1="38.9" y1="378.4" x2="42.2" y2="378.4" stroke="#111" stroke-width="1.09"/>
<text x="37.4" y="381.17" font-size="7.7" font-weight="normal" fill="#111" text-anchor="end" textLength="3.98" lengthAdjust="spacingAndGlyphs">0</text>
<line x1="41.7" y1="378.4" x2="79.9" y2="378.4" stroke="#111" stroke-width="1.1"/>
<text x="46" y="335.9" font-size="7.5" font-weight="normal" fill="#1c1c1c" textLength="32.8" lengthAdjust="spacingAndGlyphs"><tspan font-style="italic">p</tspan><tspan> = 0.9027</tspan></text>
<line x1="53.3" y1="338.2" x2="67.3" y2="338.2" stroke="#555" stroke-width="1"/>
<text x="0" y="0" font-size="9.2" font-weight="bold" fill="#000" text-anchor="middle" textLength="96" lengthAdjust="spacingAndGlyphs" transform="translate(101.4 320) rotate(-90)"><tspan>F4/80</tspan><tspan font-size="6" dy="-3">+</tspan><tspan dy="3"> cells / Field (%)</tspan></text>
<rect x="128.8" y="291.34" width="12.3" height="15.96" fill="#f0c8f6" stroke="#111" stroke-width="1"/>
<rect x="141.1" y="280.3" width="12.2" height="27" fill="#ad4fd3" stroke="#111" stroke-width="1"/>
<line x1="134.95" y1="287.35" x2="134.95" y2="295.33" stroke="#111" stroke-width="0.9"/>
<line x1="132.55" y1="287.35" x2="137.35" y2="287.35" stroke="#111" stroke-width="0.9"/>
<line x1="132.55" y1="295.33" x2="137.35" y2="295.33" stroke="#111" stroke-width="0.9"/>
<line x1="147.2" y1="274.98" x2="147.2" y2="285.62" stroke="#111" stroke-width="0.9"/>
<line x1="144.8" y1="274.98" x2="149.6" y2="274.98" stroke="#111" stroke-width="0.9"/>
<line x1="144.8" y1="285.62" x2="149.6" y2="285.62" stroke="#111" stroke-width="0.9"/>
<circle cx="135.66" cy="294.96" r="1.2" fill="#8a1fb0"/>
<circle cx="132.28" cy="293.08" r="1.2" fill="#8a1fb0"/>
<circle cx="136.35" cy="288.6" r="1.2" fill="#8a1fb0"/>
<circle cx="131.86" cy="297.85" r="1.2" fill="#8a1fb0"/>
<circle cx="132.67" cy="294.69" r="1.2" fill="#8a1fb0"/>
<circle cx="139.07" cy="291.78" r="1.2" fill="#8a1fb0"/>
<circle cx="138.23" cy="290.2" r="1.2" fill="#8a1fb0"/>
<circle cx="135.89" cy="291.36" r="1.2" fill="#8a1fb0"/>
<circle cx="136.54" cy="293.62" r="1.2" fill="#8a1fb0"/>
<circle cx="134.56" cy="289.24" r="1.2" fill="#8a1fb0"/>
<circle cx="131.61" cy="293.53" r="1.2" fill="#8a1fb0"/>
<circle cx="137.39" cy="296.47" r="1.2" fill="#8a1fb0"/>
<circle cx="135.98" cy="281.39" r="1.2" fill="#8a1fb0"/>
<circle cx="130.8" cy="292.44" r="1.2" fill="#8a1fb0"/>
<circle cx="149.32" cy="279.55" r="1.2" fill="#8a1fb0"/>
<circle cx="144.12" cy="280.47" r="1.2" fill="#8a1fb0"/>
<circle cx="150.62" cy="279.37" r="1.2" fill="#8a1fb0"/>
<circle cx="148.83" cy="280.38" r="1.2" fill="#8a1fb0"/>
<circle cx="144.86" cy="267.21" r="1.2" fill="#8a1fb0"/>
<circle cx="145.74" cy="296.67" r="1.2" fill="#8a1fb0"/>
<circle cx="145.07" cy="281.37" r="1.2" fill="#8a1fb0"/>
<circle cx="144.76" cy="284.26" r="1.2" fill="#8a1fb0"/>
<circle cx="149.88" cy="273.85" r="1.2" fill="#8a1fb0"/>
<circle cx="144.71" cy="288.32" r="1.2" fill="#8a1fb0"/>
<circle cx="144.78" cy="274.91" r="1.2" fill="#8a1fb0"/>
<circle cx="146.8" cy="283.05" r="1.2" fill="#8a1fb0"/>
<circle cx="147.78" cy="282.1" r="1.2" fill="#8a1fb0"/>
<circle cx="145.94" cy="279.31" r="1.2" fill="#8a1fb0"/>
<line x1="122.3" y1="253.6" x2="122.3" y2="307.8" stroke="#111" stroke-width="1.15"/>
<line x1="119" y1="254.1" x2="122.3" y2="254.1" stroke="#111" stroke-width="1.09"/>
<text x="116.4" y="256.12" font-size="5.6" font-weight="normal" fill="#111" text-anchor="end" textLength="7.35" lengthAdjust="spacingAndGlyphs">40</text>
<line x1="119" y1="267.4" x2="122.3" y2="267.4" stroke="#111" stroke-width="1.09"/>
<text x="116.4" y="269.42" font-size="5.6" font-weight="normal" fill="#111" text-anchor="end" textLength="7.35" lengthAdjust="spacingAndGlyphs">30</text>
<line x1="119" y1="280.7" x2="122.3" y2="280.7" stroke="#111" stroke-width="1.09"/>
<text x="116.4" y="282.72" font-size="5.6" font-weight="normal" fill="#111" text-anchor="end" textLength="7.35" lengthAdjust="spacingAndGlyphs">20</text>
<line x1="119" y1="294" x2="122.3" y2="294" stroke="#111" stroke-width="1.09"/>
<text x="116.4" y="296.02" font-size="5.6" font-weight="normal" fill="#111" text-anchor="end" textLength="7.35" lengthAdjust="spacingAndGlyphs">10</text>
<line x1="119" y1="307.3" x2="122.3" y2="307.3" stroke="#111" stroke-width="1.09"/>
<text x="116.4" y="309.32" font-size="5.6" font-weight="normal" fill="#111" text-anchor="end" textLength="3.67" lengthAdjust="spacingAndGlyphs">0</text>
<line x1="121.8" y1="307.3" x2="160.8" y2="307.3" stroke="#111" stroke-width="1.1"/>
<text x="126.9" y="265" font-size="7.5" font-weight="normal" fill="#1c1c1c" textLength="32.6" lengthAdjust="spacingAndGlyphs"><tspan font-style="italic">p</tspan><tspan> &lt; 0.0001</tspan></text>
<line x1="134.1" y1="267.6" x2="148.1" y2="267.6" stroke="#555" stroke-width="1"/>
<rect x="128.8" y="358.15" width="12.3" height="20.25" fill="#c9f3e6" stroke="#111" stroke-width="1"/>
<rect x="141.1" y="354.02" width="12.2" height="24.38" fill="#2f6f73" stroke="#111" stroke-width="1"/>
<line x1="134.95" y1="352.15" x2="134.95" y2="364.14" stroke="#111" stroke-width="0.9"/>
<line x1="132.55" y1="352.15" x2="137.35" y2="352.15" stroke="#111" stroke-width="0.9"/>
<line x1="132.55" y1="364.14" x2="137.35" y2="364.14" stroke="#111" stroke-width="0.9"/>
<line x1="147.2" y1="348.02" x2="147.2" y2="360.01" stroke="#111" stroke-width="0.9"/>
<line x1="144.8" y1="348.02" x2="149.6" y2="348.02" stroke="#111" stroke-width="0.9"/>
<line x1="144.8" y1="360.01" x2="149.6" y2="360.01" stroke="#111" stroke-width="0.9"/>
<circle cx="138.81" cy="365.12" r="1.2" fill="#1f6a78"/>
<circle cx="134.64" cy="356" r="1.2" fill="#1f6a78"/>
<circle cx="132.08" cy="365.72" r="1.2" fill="#1f6a78"/>
<circle cx="135.06" cy="358.52" r="1.2" fill="#1f6a78"/>
<circle cx="131.26" cy="365.07" r="1.2" fill="#1f6a78"/>
<circle cx="133.16" cy="365.51" r="1.2" fill="#1f6a78"/>
<circle cx="136.71" cy="349.41" r="1.2" fill="#1f6a78"/>
<circle cx="130.78" cy="352.55" r="1.2" fill="#1f6a78"/>
<circle cx="136.35" cy="343.5" r="1.2" fill="#1f6a78"/>
<circle cx="136" cy="359.79" r="1.2" fill="#1f6a78"/>
<circle cx="135.21" cy="357.6" r="1.2" fill="#1f6a78"/>
<circle cx="130.94" cy="357.32" r="1.2" fill="#1f6a78"/>
<circle cx="130.67" cy="356.59" r="1.2" fill="#1f6a78"/>
<circle cx="134.62" cy="354.2" r="1.2" fill="#1f6a78"/>
<circle cx="146.45" cy="358.22" r="1.2" fill="#1f6a78"/>
<circle cx="146.72" cy="349.03" r="1.2" fill="#1f6a78"/>
<circle cx="145.03" cy="361.04" r="1.2" fill="#1f6a78"/>
<circle cx="148.41" cy="349.52" r="1.2" fill="#1f6a78"/>
<circle cx="145.72" cy="349.19" r="1.2" fill="#1f6a78"/>
<circle cx="143.98" cy="353.71" r="1.2" fill="#1f6a78"/>
<circle cx="149.8" cy="354.22" r="1.2" fill="#1f6a78"/>
<circle cx="151.31" cy="358.92" r="1.2" fill="#1f6a78"/>
<circle cx="149.97" cy="354.28" r="1.2" fill="#1f6a78"/>
<circle cx="148.71" cy="341.96" r="1.2" fill="#1f6a78"/>
<circle cx="148.34" cy="347.81" r="1.2" fill="#1f6a78"/>
<circle cx="145.37" cy="352.94" r="1.2" fill="#1f6a78"/>
<circle cx="145.02" cy="353.23" r="1.2" fill="#1f6a78"/>
<circle cx="149.79" cy="349.17" r="1.2" fill="#1f6a78"/>
<line x1="122.3" y1="324.6" x2="122.3" y2="378.9" stroke="#111" stroke-width="1.15"/>
<line x1="119" y1="325.1" x2="122.3" y2="325.1" stroke="#111" stroke-width="1.09"/>
<text x="117.5" y="327.87" font-size="7.7" font-weight="normal" fill="#111" text-anchor="end" textLength="7.96" lengthAdjust="spacingAndGlyphs">40</text>
<line x1="119" y1="338.43" x2="122.3" y2="338.43" stroke="#111" stroke-width="1.09"/>
<text x="117.5" y="341.2" font-size="7.7" font-weight="normal" fill="#111" text-anchor="end" textLength="7.96" lengthAdjust="spacingAndGlyphs">30</text>
<line x1="119" y1="351.75" x2="122.3" y2="351.75" stroke="#111" stroke-width="1.09"/>
<text x="117.5" y="354.52" font-size="7.7" font-weight="normal" fill="#111" text-anchor="end" textLength="7.96" lengthAdjust="spacingAndGlyphs">20</text>
<line x1="119" y1="365.07" x2="122.3" y2="365.07" stroke="#111" stroke-width="1.09"/>
<text x="117.5" y="367.85" font-size="7.7" font-weight="normal" fill="#111" text-anchor="end" textLength="7.96" lengthAdjust="spacingAndGlyphs">10</text>
<line x1="119" y1="378.4" x2="122.3" y2="378.4" stroke="#111" stroke-width="1.09"/>
<text x="117.5" y="381.17" font-size="7.7" font-weight="normal" fill="#111" text-anchor="end" textLength="3.98" lengthAdjust="spacingAndGlyphs">0</text>
<line x1="121.8" y1="378.4" x2="160.8" y2="378.4" stroke="#111" stroke-width="1.1"/>
<text x="126.9" y="338" font-size="7.5" font-weight="normal" fill="#1c1c1c" textLength="32.6" lengthAdjust="spacingAndGlyphs"><tspan font-style="italic">p</tspan><tspan> = 0.1081</tspan></text>
<line x1="134.1" y1="340.4" x2="148.1" y2="340.4" stroke="#555" stroke-width="1"/>
<text x="0" y="0" font-size="9.2" font-weight="bold" fill="#000" text-anchor="middle" textLength="90.6" lengthAdjust="spacingAndGlyphs" transform="translate(180 321.3) rotate(-90)"><tspan>MPO</tspan><tspan font-size="6" dy="-3">+</tspan><tspan dy="3"> cells / Field (%)</tspan></text>
<rect x="206.5" y="304.64" width="12.2" height="2.66" fill="#f0c8f6" stroke="#111" stroke-width="1"/>
<rect x="218.7" y="303.84" width="12.2" height="3.46" fill="#ad4fd3" stroke="#111" stroke-width="1"/>
<line x1="212.6" y1="303.31" x2="212.6" y2="305.97" stroke="#111" stroke-width="0.9"/>
<line x1="210.2" y1="303.31" x2="215" y2="303.31" stroke="#111" stroke-width="0.9"/>
<line x1="210.2" y1="305.97" x2="215" y2="305.97" stroke="#111" stroke-width="0.9"/>
<line x1="224.8" y1="302.38" x2="224.8" y2="305.31" stroke="#111" stroke-width="0.9"/>
<line x1="222.4" y1="302.38" x2="227.2" y2="302.38" stroke="#111" stroke-width="0.9"/>
<line x1="222.4" y1="305.31" x2="227.2" y2="305.31" stroke="#111" stroke-width="0.9"/>
<circle cx="215" cy="303.04" r="1.2" fill="#8a1fb0"/>
<circle cx="216.24" cy="305.71" r="1.2" fill="#8a1fb0"/>
<circle cx="216.24" cy="304.75" r="1.2" fill="#8a1fb0"/>
<circle cx="215.95" cy="302.85" r="1.2" fill="#8a1fb0"/>
<circle cx="211.8" cy="305.33" r="1.2" fill="#8a1fb0"/>
<circle cx="217.04" cy="304.98" r="1.2" fill="#8a1fb0"/>
<circle cx="216.65" cy="303.76" r="1.2" fill="#8a1fb0"/>
<circle cx="212.14" cy="303.97" r="1.2" fill="#8a1fb0"/>
<circle cx="216.28" cy="304.36" r="1.2" fill="#8a1fb0"/>
<circle cx="211.12" cy="303.57" r="1.2" fill="#8a1fb0"/>
<circle cx="215.35" cy="306.23" r="1.2" fill="#8a1fb0"/>
<circle cx="212.53" cy="303.86" r="1.2" fill="#8a1fb0"/>
<circle cx="208.42" cy="303.2" r="1.2" fill="#8a1fb0"/>
<circle cx="208.95" cy="303.83" r="1.2" fill="#8a1fb0"/>
<circle cx="227.89" cy="306.12" r="1.2" fill="#8a1fb0"/>
<circle cx="222.23" cy="301.62" r="1.2" fill="#8a1fb0"/>
<circle cx="220.68" cy="302.47" r="1.2" fill="#8a1fb0"/>
<circle cx="228.88" cy="305.27" r="1.2" fill="#8a1fb0"/>
<circle cx="224.12" cy="303.88" r="1.2" fill="#8a1fb0"/>
<circle cx="225.6" cy="302.66" r="1.2" fill="#8a1fb0"/>
<circle cx="227.79" cy="302.34" r="1.2" fill="#8a1fb0"/>
<circle cx="224.91" cy="302.35" r="1.2" fill="#8a1fb0"/>
<circle cx="227.72" cy="303.31" r="1.2" fill="#8a1fb0"/>
<circle cx="221.93" cy="305.71" r="1.2" fill="#8a1fb0"/>
<circle cx="221.24" cy="304.83" r="1.2" fill="#8a1fb0"/>
<circle cx="229.06" cy="302.63" r="1.2" fill="#8a1fb0"/>
<circle cx="225.54" cy="304.26" r="1.2" fill="#8a1fb0"/>
<circle cx="224.03" cy="304.32" r="1.2" fill="#8a1fb0"/>
<line x1="200" y1="253.6" x2="200" y2="307.8" stroke="#111" stroke-width="1.15"/>
<line x1="196.7" y1="254.1" x2="200" y2="254.1" stroke="#111" stroke-width="1.09"/>
<text x="195.2" y="256.87" font-size="7.7" font-weight="normal" fill="#111" text-anchor="end" textLength="7.96" lengthAdjust="spacingAndGlyphs">40</text>
<line x1="196.7" y1="267.4" x2="200" y2="267.4" stroke="#111" stroke-width="1.09"/>
<text x="195.2" y="270.17" font-size="7.7" font-weight="normal" fill="#111" text-anchor="end" textLength="7.96" lengthAdjust="spacingAndGlyphs">30</text>
<line x1="196.7" y1="280.7" x2="200" y2="280.7" stroke="#111" stroke-width="1.09"/>
<text x="195.2" y="283.47" font-size="7.7" font-weight="normal" fill="#111" text-anchor="end" textLength="7.96" lengthAdjust="spacingAndGlyphs">20</text>
<line x1="196.7" y1="294" x2="200" y2="294" stroke="#111" stroke-width="1.09"/>
<text x="195.2" y="296.77" font-size="7.7" font-weight="normal" fill="#111" text-anchor="end" textLength="7.96" lengthAdjust="spacingAndGlyphs">10</text>
<line x1="196.7" y1="307.3" x2="200" y2="307.3" stroke="#111" stroke-width="1.09"/>
<text x="195.2" y="310.07" font-size="7.7" font-weight="normal" fill="#111" text-anchor="end" textLength="3.98" lengthAdjust="spacingAndGlyphs">0</text>
<line x1="199.5" y1="307.3" x2="238.3" y2="307.3" stroke="#111" stroke-width="1.1"/>
<text x="204.7" y="293.8" font-size="7.5" font-weight="normal" fill="#1c1c1c" textLength="32.3" lengthAdjust="spacingAndGlyphs"><tspan font-style="italic">p</tspan><tspan> = 0.0339</tspan></text>
<line x1="211.7" y1="296.5" x2="225.7" y2="296.5" stroke="#555" stroke-width="1"/>
<rect x="206.5" y="373.07" width="12.2" height="5.33" fill="#c9f3e6" stroke="#111" stroke-width="1"/>
<rect x="218.7" y="373.07" width="12.2" height="5.33" fill="#2f6f73" stroke="#111" stroke-width="1"/>
<line x1="212.6" y1="371.34" x2="212.6" y2="374.8" stroke="#111" stroke-width="0.9"/>
<line x1="210.2" y1="371.34" x2="215" y2="371.34" stroke="#111" stroke-width="0.9"/>
<line x1="210.2" y1="374.8" x2="215" y2="374.8" stroke="#111" stroke-width="0.9"/>
<line x1="224.8" y1="371.47" x2="224.8" y2="374.67" stroke="#111" stroke-width="0.9"/>
<line x1="222.4" y1="371.47" x2="227.2" y2="371.47" stroke="#111" stroke-width="0.9"/>
<line x1="222.4" y1="374.67" x2="227.2" y2="374.67" stroke="#111" stroke-width="0.9"/>
<circle cx="213.81" cy="371.79" r="1.2" fill="#1f6a78"/>
<circle cx="212.41" cy="370.9" r="1.2" fill="#1f6a78"/>
<circle cx="215.37" cy="372.45" r="1.2" fill="#1f6a78"/>
<circle cx="212.71" cy="370.22" r="1.2" fill="#1f6a78"/>
<circle cx="208.13" cy="374.28" r="1.2" fill="#1f6a78"/>
<circle cx="211.44" cy="373.11" r="1.2" fill="#1f6a78"/>
<circle cx="215.24" cy="373.61" r="1.2" fill="#1f6a78"/>
<circle cx="210.19" cy="373.39" r="1.2" fill="#1f6a78"/>
<circle cx="217.08" cy="373.02" r="1.2" fill="#1f6a78"/>
<circle cx="214.75" cy="372.59" r="1.2" fill="#1f6a78"/>
<circle cx="208.41" cy="371.46" r="1.2" fill="#1f6a78"/>
<circle cx="211.06" cy="374.68" r="1.2" fill="#1f6a78"/>
<circle cx="216.67" cy="373.89" r="1.2" fill="#1f6a78"/>
<circle cx="211.42" cy="373.06" r="1.2" fill="#1f6a78"/>
<circle cx="222.15" cy="373.09" r="1.2" fill="#1f6a78"/>
<circle cx="225.71" cy="374.09" r="1.2" fill="#1f6a78"/>
<circle cx="227.18" cy="370.61" r="1.2" fill="#1f6a78"/>
<circle cx="220.68" cy="372.15" r="1.2" fill="#1f6a78"/>
<circle cx="226.02" cy="373.8" r="1.2" fill="#1f6a78"/>
<circle cx="228.88" cy="374.71" r="1.2" fill="#1f6a78"/>
<circle cx="227.9" cy="371.52" r="1.2" fill="#1f6a78"/>
<circle cx="227.38" cy="373.2" r="1.2" fill="#1f6a78"/>
<circle cx="228.74" cy="372.71" r="1.2" fill="#1f6a78"/>
<circle cx="222.3" cy="373.13" r="1.2" fill="#1f6a78"/>
<circle cx="227.85" cy="371.66" r="1.2" fill="#1f6a78"/>
<circle cx="228.91" cy="371.58" r="1.2" fill="#1f6a78"/>
<circle cx="220.58" cy="374.94" r="1.2" fill="#1f6a78"/>
<circle cx="229.02" cy="370.92" r="1.2" fill="#1f6a78"/>
<line x1="200" y1="324.6" x2="200" y2="378.9" stroke="#111" stroke-width="1.15"/>
<line x1="196.7" y1="325.1" x2="200" y2="325.1" stroke="#111" stroke-width="1.09"/>
<text x="195.2" y="327.87" font-size="7.7" font-weight="normal" fill="#111" text-anchor="end" textLength="7.96" lengthAdjust="spacingAndGlyphs">40</text>
<line x1="196.7" y1="338.43" x2="200" y2="338.43" stroke="#111" stroke-width="1.09"/>
<text x="195.2" y="341.2" font-size="7.7" font-weight="normal" fill="#111" text-anchor="end" textLength="7.96" lengthAdjust="spacingAndGlyphs">30</text>
<line x1="196.7" y1="351.75" x2="200" y2="351.75" stroke="#111" stroke-width="1.09"/>
<text x="195.2" y="354.52" font-size="7.7" font-weight="normal" fill="#111" text-anchor="end" textLength="7.96" lengthAdjust="spacingAndGlyphs">20</text>
<line x1="196.7" y1="365.07" x2="200" y2="365.07" stroke="#111" stroke-width="1.09"/>
<text x="195.2" y="367.85" font-size="7.7" font-weight="normal" fill="#111" text-anchor="end" textLength="7.96" lengthAdjust="spacingAndGlyphs">10</text>
<line x1="196.7" y1="378.4" x2="200" y2="378.4" stroke="#111" stroke-width="1.09"/>
<text x="195.2" y="381.17" font-size="7.7" font-weight="normal" fill="#111" text-anchor="end" textLength="3.98" lengthAdjust="spacingAndGlyphs">0</text>
<line x1="199.5" y1="378.4" x2="238.3" y2="378.4" stroke="#111" stroke-width="1.1"/>
<text x="204.7" y="361.4" font-size="7.5" font-weight="normal" fill="#1c1c1c" textLength="32.3" lengthAdjust="spacingAndGlyphs"><tspan font-style="italic">p</tspan><tspan> = 0.7784</tspan></text>
<line x1="211.7" y1="364" x2="225.7" y2="364" stroke="#555" stroke-width="1"/>
<text x="0" y="0" font-size="9.2" font-weight="bold" fill="#000" text-anchor="middle" textLength="97.2" lengthAdjust="spacingAndGlyphs" transform="translate(258 320.6) rotate(-90)"><tspan>α-SMA</tspan><tspan font-size="6" dy="-3">+</tspan><tspan dy="3"> cells / Field (%)</tspan></text>
<rect x="284.8" y="297.32" width="12.2" height="9.98" fill="#f0c8f6" stroke="#111" stroke-width="1"/>
<rect x="297" y="296" width="12.2" height="11.31" fill="#ad4fd3" stroke="#111" stroke-width="1"/>
<line x1="290.9" y1="293.33" x2="290.9" y2="301.31" stroke="#111" stroke-width="0.9"/>
<line x1="288.5" y1="293.33" x2="293.3" y2="293.33" stroke="#111" stroke-width="0.9"/>
<line x1="288.5" y1="301.31" x2="293.3" y2="301.31" stroke="#111" stroke-width="0.9"/>
<line x1="303.1" y1="292.67" x2="303.1" y2="299.32" stroke="#111" stroke-width="0.9"/>
<line x1="300.7" y1="292.67" x2="305.5" y2="292.67" stroke="#111" stroke-width="0.9"/>
<line x1="300.7" y1="299.32" x2="305.5" y2="299.32" stroke="#111" stroke-width="0.9"/>
<circle cx="286.67" cy="300.36" r="1.2" fill="#8a1fb0"/>
<circle cx="292.28" cy="298.09" r="1.2" fill="#8a1fb0"/>
<circle cx="289.97" cy="296.6" r="1.2" fill="#8a1fb0"/>
<circle cx="292.17" cy="294.49" r="1.2" fill="#8a1fb0"/>
<circle cx="295.34" cy="293.12" r="1.2" fill="#8a1fb0"/>
<circle cx="295.33" cy="297.62" r="1.2" fill="#8a1fb0"/>
<circle cx="287.84" cy="297.26" r="1.2" fill="#8a1fb0"/>
<circle cx="293.98" cy="295.85" r="1.2" fill="#8a1fb0"/>
<circle cx="295.15" cy="304.19" r="1.2" fill="#8a1fb0"/>
<circle cx="292.29" cy="302.28" r="1.2" fill="#8a1fb0"/>
<circle cx="286.61" cy="298.71" r="1.2" fill="#8a1fb0"/>
<circle cx="293.65" cy="297.64" r="1.2" fill="#8a1fb0"/>
<circle cx="291.49" cy="300.35" r="1.2" fill="#8a1fb0"/>
<circle cx="292.47" cy="303" r="1.2" fill="#8a1fb0"/>
<circle cx="305.33" cy="301.01" r="1.2" fill="#8a1fb0"/>
<circle cx="306.39" cy="297.58" r="1.2" fill="#8a1fb0"/>
<circle cx="303.7" cy="297.83" r="1.2" fill="#8a1fb0"/>
<circle cx="305.33" cy="288" r="1.2" fill="#8a1fb0"/>
<circle cx="301.07" cy="295.77" r="1.2" fill="#8a1fb0"/>
<circle cx="301.9" cy="303.26" r="1.2" fill="#8a1fb0"/>
<circle cx="305.35" cy="296.85" r="1.2" fill="#8a1fb0"/>
<circle cx="301.88" cy="300.1" r="1.2" fill="#8a1fb0"/>
<circle cx="305.1" cy="295.54" r="1.2" fill="#8a1fb0"/>
<circle cx="301.97" cy="296.13" r="1.2" fill="#8a1fb0"/>
<circle cx="299.06" cy="291.32" r="1.2" fill="#8a1fb0"/>
<circle cx="300.71" cy="295.25" r="1.2" fill="#8a1fb0"/>
<circle cx="300.08" cy="296.83" r="1.2" fill="#8a1fb0"/>
<circle cx="299.26" cy="294.35" r="1.2" fill="#8a1fb0"/>
<line x1="278" y1="253.6" x2="278" y2="307.8" stroke="#111" stroke-width="1.15"/>
<line x1="274.7" y1="254.1" x2="278" y2="254.1" stroke="#111" stroke-width="1.09"/>
<text x="273.2" y="256.87" font-size="7.7" font-weight="normal" fill="#111" text-anchor="end" textLength="7.96" lengthAdjust="spacingAndGlyphs">40</text>
<line x1="274.7" y1="267.4" x2="278" y2="267.4" stroke="#111" stroke-width="1.09"/>
<text x="273.2" y="270.17" font-size="7.7" font-weight="normal" fill="#111" text-anchor="end" textLength="7.96" lengthAdjust="spacingAndGlyphs">30</text>
<line x1="274.7" y1="280.7" x2="278" y2="280.7" stroke="#111" stroke-width="1.09"/>
<text x="273.2" y="283.47" font-size="7.7" font-weight="normal" fill="#111" text-anchor="end" textLength="7.96" lengthAdjust="spacingAndGlyphs">20</text>
<line x1="274.7" y1="294" x2="278" y2="294" stroke="#111" stroke-width="1.09"/>
<text x="273.2" y="296.77" font-size="7.7" font-weight="normal" fill="#111" text-anchor="end" textLength="7.96" lengthAdjust="spacingAndGlyphs">10</text>
<line x1="274.7" y1="307.3" x2="278" y2="307.3" stroke="#111" stroke-width="1.09"/>
<text x="273.2" y="310.07" font-size="7.7" font-weight="normal" fill="#111" text-anchor="end" textLength="3.98" lengthAdjust="spacingAndGlyphs">0</text>
<line x1="277.5" y1="307.3" x2="316.9" y2="307.3" stroke="#111" stroke-width="1.1"/>
<text x="283" y="284.4" font-size="7.5" font-weight="normal" fill="#1c1c1c" textLength="32.8" lengthAdjust="spacingAndGlyphs"><tspan font-style="italic">p</tspan><tspan> = 0.6078</tspan></text>
<line x1="290" y1="287" x2="304" y2="287" stroke="#555" stroke-width="1"/>
<rect x="284.8" y="376.4" width="12.2" height="2" fill="#c9f3e6" stroke="#111" stroke-width="1"/>
<rect x="297" y="376.27" width="12.2" height="2.13" fill="#2f6f73" stroke="#111" stroke-width="1"/>
<line x1="290.9" y1="375.34" x2="290.9" y2="377.47" stroke="#111" stroke-width="0.9"/>
<line x1="288.5" y1="375.34" x2="293.3" y2="375.34" stroke="#111" stroke-width="0.9"/>
<line x1="288.5" y1="377.47" x2="293.3" y2="377.47" stroke="#111" stroke-width="0.9"/>
<line x1="303.1" y1="375.07" x2="303.1" y2="377.47" stroke="#111" stroke-width="0.9"/>
<line x1="300.7" y1="375.07" x2="305.5" y2="375.07" stroke="#111" stroke-width="0.9"/>
<line x1="300.7" y1="377.47" x2="305.5" y2="377.47" stroke="#111" stroke-width="0.9"/>
<circle cx="289.94" cy="375.91" r="1.2" fill="#1f6a78"/>
<circle cx="292.55" cy="376.36" r="1.2" fill="#1f6a78"/>
<circle cx="288.49" cy="376.08" r="1.2" fill="#1f6a78"/>
<circle cx="293.22" cy="376.02" r="1.2" fill="#1f6a78"/>
<circle cx="292.36" cy="375.4" r="1.2" fill="#1f6a78"/>
<circle cx="287.63" cy="375.07" r="1.2" fill="#1f6a78"/>
<circle cx="290.11" cy="377.48" r="1.2" fill="#1f6a78"/>
<circle cx="295.37" cy="376.65" r="1.2" fill="#1f6a78"/>
<circle cx="294.86" cy="376.23" r="1.2" fill="#1f6a78"/>
<circle cx="290.03" cy="376.29" r="1.2" fill="#1f6a78"/>
<circle cx="289.68" cy="376.11" r="1.2" fill="#1f6a78"/>
<circle cx="295" cy="375.54" r="1.2" fill="#1f6a78"/>
<circle cx="291.66" cy="376.23" r="1.2" fill="#1f6a78"/>
<circle cx="291.33" cy="375.71" r="1.2" fill="#1f6a78"/>
<circle cx="307.23" cy="377.81" r="1.2" fill="#1f6a78"/>
<circle cx="306.86" cy="373.4" r="1.2" fill="#1f6a78"/>
<circle cx="298.6" cy="375.69" r="1.2" fill="#1f6a78"/>
<circle cx="304.24" cy="378" r="1.2" fill="#1f6a78"/>
<circle cx="302.49" cy="376.24" r="1.2" fill="#1f6a78"/>
<circle cx="303.64" cy="374.42" r="1.2" fill="#1f6a78"/>
<circle cx="306.05" cy="377.71" r="1.2" fill="#1f6a78"/>
<circle cx="307.43" cy="376.66" r="1.2" fill="#1f6a78"/>
<circle cx="306.6" cy="377.43" r="1.2" fill="#1f6a78"/>
<circle cx="302.13" cy="374.57" r="1.2" fill="#1f6a78"/>
<circle cx="305.48" cy="375.31" r="1.2" fill="#1f6a78"/>
<circle cx="303.32" cy="375.33" r="1.2" fill="#1f6a78"/>
<circle cx="301.52" cy="375.56" r="1.2" fill="#1f6a78"/>
<circle cx="306.58" cy="374.64" r="1.2" fill="#1f6a78"/>
<line x1="278" y1="324.6" x2="278" y2="378.9" stroke="#111" stroke-width="1.15"/>
<line x1="274.7" y1="325.1" x2="278" y2="325.1" stroke="#111" stroke-width="1.09"/>
<text x="273.2" y="327.87" font-size="7.7" font-weight="normal" fill="#111" text-anchor="end" textLength="7.96" lengthAdjust="spacingAndGlyphs">40</text>
<line x1="274.7" y1="338.43" x2="278" y2="338.43" stroke="#111" stroke-width="1.09"/>
<text x="273.2" y="341.2" font-size="7.7" font-weight="normal" fill="#111" text-anchor="end" textLength="7.96" lengthAdjust="spacingAndGlyphs">30</text>
<line x1="274.7" y1="351.75" x2="278" y2="351.75" stroke="#111" stroke-width="1.09"/>
<text x="273.2" y="354.52" font-size="7.7" font-weight="normal" fill="#111" text-anchor="end" textLength="7.96" lengthAdjust="spacingAndGlyphs">20</text>
<line x1="274.7" y1="365.07" x2="278" y2="365.07" stroke="#111" stroke-width="1.09"/>
<text x="273.2" y="367.85" font-size="7.7" font-weight="normal" fill="#111" text-anchor="end" textLength="7.96" lengthAdjust="spacingAndGlyphs">10</text>
<line x1="274.7" y1="378.4" x2="278" y2="378.4" stroke="#111" stroke-width="1.09"/>
<text x="273.2" y="381.17" font-size="7.7" font-weight="normal" fill="#111" text-anchor="end" textLength="3.98" lengthAdjust="spacingAndGlyphs">0</text>
<line x1="277.5" y1="378.4" x2="316.9" y2="378.4" stroke="#111" stroke-width="1.1"/>
<text x="283" y="365.3" font-size="7.5" font-weight="normal" fill="#1c1c1c" textLength="32.8" lengthAdjust="spacingAndGlyphs"><tspan font-style="italic">p</tspan><tspan> = 0.7923</tspan></text>
<line x1="290" y1="368.2" x2="304" y2="368.2" stroke="#555" stroke-width="1"/>
<text x="0" y="0" font-size="9.2" font-weight="bold" fill="#000" text-anchor="middle" textLength="86.7" lengthAdjust="spacingAndGlyphs" transform="translate(337.4 320.6) rotate(-90)"><tspan>CD4</tspan><tspan font-size="6" dy="-3">+</tspan><tspan dy="3"> cells/ Field (%)</tspan></text>
<rect x="362.6" y="294.4" width="12.4" height="12.9" fill="#f0c8f6" stroke="#111" stroke-width="1"/>
<rect x="375" y="293.33" width="12.5" height="13.97" fill="#ad4fd3" stroke="#111" stroke-width="1"/>
<line x1="368.8" y1="291.74" x2="368.8" y2="297.06" stroke="#111" stroke-width="0.9"/>
<line x1="366.4" y1="291.74" x2="371.2" y2="291.74" stroke="#111" stroke-width="0.9"/>
<line x1="366.4" y1="297.06" x2="371.2" y2="297.06" stroke="#111" stroke-width="0.9"/>
<line x1="381.25" y1="291.21" x2="381.25" y2="295.46" stroke="#111" stroke-width="0.9"/>
<line x1="378.85" y1="291.21" x2="383.65" y2="291.21" stroke="#111" stroke-width="0.9"/>
<line x1="378.85" y1="295.46" x2="383.65" y2="295.46" stroke="#111" stroke-width="0.9"/>
<circle cx="364.49" cy="299.41" r="1.2" fill="#8a1fb0"/>
<circle cx="366.8" cy="293.07" r="1.2" fill="#8a1fb0"/>
<circle cx="365.38" cy="290.77" r="1.2" fill="#8a1fb0"/>
<circle cx="367.41" cy="295.29" r="1.2" fill="#8a1fb0"/>
<circle cx="364.46" cy="292.42" r="1.2" fill="#8a1fb0"/>
<circle cx="372.44" cy="296.27" r="1.2" fill="#8a1fb0"/>
<circle cx="369.9" cy="291.92" r="1.2" fill="#8a1fb0"/>
<circle cx="368.44" cy="291.76" r="1.2" fill="#8a1fb0"/>
<circle cx="369.76" cy="292.87" r="1.2" fill="#8a1fb0"/>
<circle cx="365.25" cy="294.77" r="1.2" fill="#8a1fb0"/>
<circle cx="368.92" cy="293.02" r="1.2" fill="#8a1fb0"/>
<circle cx="371.86" cy="294.7" r="1.2" fill="#8a1fb0"/>
<circle cx="372.27" cy="293.55" r="1.2" fill="#8a1fb0"/>
<circle cx="371.95" cy="295.17" r="1.2" fill="#8a1fb0"/>
<circle cx="377.36" cy="293.66" r="1.2" fill="#8a1fb0"/>
<circle cx="379.75" cy="291.02" r="1.2" fill="#8a1fb0"/>
<circle cx="379.24" cy="293.06" r="1.2" fill="#8a1fb0"/>
<circle cx="377.69" cy="293.2" r="1.2" fill="#8a1fb0"/>
<circle cx="376.93" cy="294.58" r="1.2" fill="#8a1fb0"/>
<circle cx="382.41" cy="290.24" r="1.2" fill="#8a1fb0"/>
<circle cx="383.45" cy="290.95" r="1.2" fill="#8a1fb0"/>
<circle cx="378.56" cy="290.63" r="1.2" fill="#8a1fb0"/>
<circle cx="377.3" cy="291.48" r="1.2" fill="#8a1fb0"/>
<circle cx="380.4" cy="295.96" r="1.2" fill="#8a1fb0"/>
<circle cx="378.2" cy="294.74" r="1.2" fill="#8a1fb0"/>
<circle cx="378.94" cy="297.69" r="1.2" fill="#8a1fb0"/>
<circle cx="377.47" cy="292.52" r="1.2" fill="#8a1fb0"/>
<circle cx="377.44" cy="298.45" r="1.2" fill="#8a1fb0"/>
<line x1="356.3" y1="253.6" x2="356.3" y2="307.8" stroke="#111" stroke-width="1.15"/>
<line x1="353" y1="254.1" x2="356.3" y2="254.1" stroke="#111" stroke-width="1.09"/>
<text x="351.5" y="256.87" font-size="7.7" font-weight="normal" fill="#111" text-anchor="end" textLength="7.96" lengthAdjust="spacingAndGlyphs">40</text>
<line x1="353" y1="267.4" x2="356.3" y2="267.4" stroke="#111" stroke-width="1.09"/>
<text x="351.5" y="270.17" font-size="7.7" font-weight="normal" fill="#111" text-anchor="end" textLength="7.96" lengthAdjust="spacingAndGlyphs">30</text>
<line x1="353" y1="280.7" x2="356.3" y2="280.7" stroke="#111" stroke-width="1.09"/>
<text x="351.5" y="283.47" font-size="7.7" font-weight="normal" fill="#111" text-anchor="end" textLength="7.96" lengthAdjust="spacingAndGlyphs">20</text>
<line x1="353" y1="294" x2="356.3" y2="294" stroke="#111" stroke-width="1.09"/>
<text x="351.5" y="296.77" font-size="7.7" font-weight="normal" fill="#111" text-anchor="end" textLength="7.96" lengthAdjust="spacingAndGlyphs">10</text>
<line x1="353" y1="307.3" x2="356.3" y2="307.3" stroke="#111" stroke-width="1.09"/>
<text x="351.5" y="310.07" font-size="7.7" font-weight="normal" fill="#111" text-anchor="end" textLength="3.98" lengthAdjust="spacingAndGlyphs">0</text>
<line x1="355.8" y1="307.3" x2="394.4" y2="307.3" stroke="#111" stroke-width="1.1"/>
<text x="360.7" y="281.2" font-size="7.5" font-weight="normal" fill="#1c1c1c" textLength="32.9" lengthAdjust="spacingAndGlyphs"><tspan font-style="italic">p</tspan><tspan> = 0.2561</tspan></text>
<line x1="368" y1="284.4" x2="382" y2="284.4" stroke="#555" stroke-width="1"/>
<rect x="362.6" y="371.07" width="12.4" height="7.33" fill="#c9f3e6" stroke="#111" stroke-width="1"/>
<rect x="375" y="372.4" width="12.5" height="6" fill="#2f6f73" stroke="#111" stroke-width="1"/>
<line x1="368.8" y1="368.14" x2="368.8" y2="374" stroke="#111" stroke-width="0.9"/>
<line x1="366.4" y1="368.14" x2="371.2" y2="368.14" stroke="#111" stroke-width="0.9"/>
<line x1="366.4" y1="374" x2="371.2" y2="374" stroke="#111" stroke-width="0.9"/>
<line x1="381.25" y1="369.74" x2="381.25" y2="375.07" stroke="#111" stroke-width="0.9"/>
<line x1="378.85" y1="369.74" x2="383.65" y2="369.74" stroke="#111" stroke-width="0.9"/>
<line x1="378.85" y1="375.07" x2="383.65" y2="375.07" stroke="#111" stroke-width="0.9"/>
<circle cx="365.73" cy="372.55" r="1.2" fill="#1f6a78"/>
<circle cx="372.61" cy="369.7" r="1.2" fill="#1f6a78"/>
<circle cx="369.29" cy="374.83" r="1.2" fill="#1f6a78"/>
<circle cx="367.73" cy="373.08" r="1.2" fill="#1f6a78"/>
<circle cx="371.39" cy="371.49" r="1.2" fill="#1f6a78"/>
<circle cx="370.29" cy="374.7" r="1.2" fill="#1f6a78"/>
<circle cx="365.63" cy="369.48" r="1.2" fill="#1f6a78"/>
<circle cx="365.58" cy="373.61" r="1.2" fill="#1f6a78"/>
<circle cx="370.22" cy="371.35" r="1.2" fill="#1f6a78"/>
<circle cx="369.91" cy="372.73" r="1.2" fill="#1f6a78"/>
<circle cx="364.5" cy="366.53" r="1.2" fill="#1f6a78"/>
<circle cx="372.18" cy="369.29" r="1.2" fill="#1f6a78"/>
<circle cx="370.88" cy="370.02" r="1.2" fill="#1f6a78"/>
<circle cx="370.94" cy="372.7" r="1.2" fill="#1f6a78"/>
<circle cx="382.07" cy="370.45" r="1.2" fill="#1f6a78"/>
<circle cx="384.6" cy="374.06" r="1.2" fill="#1f6a78"/>
<circle cx="382.03" cy="371.99" r="1.2" fill="#1f6a78"/>
<circle cx="385.41" cy="369.38" r="1.2" fill="#1f6a78"/>
<circle cx="379.58" cy="371.47" r="1.2" fill="#1f6a78"/>
<circle cx="384.27" cy="372.21" r="1.2" fill="#1f6a78"/>
<circle cx="385.15" cy="371.65" r="1.2" fill="#1f6a78"/>
<circle cx="381.51" cy="373.54" r="1.2" fill="#1f6a78"/>
<circle cx="377.46" cy="366.61" r="1.2" fill="#1f6a78"/>
<circle cx="385.66" cy="373.59" r="1.2" fill="#1f6a78"/>
<circle cx="380.93" cy="373.87" r="1.2" fill="#1f6a78"/>
<circle cx="377.29" cy="372.21" r="1.2" fill="#1f6a78"/>
<circle cx="377.62" cy="372.43" r="1.2" fill="#1f6a78"/>
<circle cx="378.71" cy="375.58" r="1.2" fill="#1f6a78"/>
<line x1="356.3" y1="324.6" x2="356.3" y2="378.9" stroke="#111" stroke-width="1.15"/>
<line x1="353" y1="325.1" x2="356.3" y2="325.1" stroke="#111" stroke-width="1.09"/>
<text x="351.5" y="327.87" font-size="7.7" font-weight="normal" fill="#111" text-anchor="end" textLength="7.96" lengthAdjust="spacingAndGlyphs">40</text>
<line x1="353" y1="338.43" x2="356.3" y2="338.43" stroke="#111" stroke-width="1.09"/>
<text x="351.5" y="341.2" font-size="7.7" font-weight="normal" fill="#111" text-anchor="end" textLength="7.96" lengthAdjust="spacingAndGlyphs">30</text>
<line x1="353" y1="351.75" x2="356.3" y2="351.75" stroke="#111" stroke-width="1.09"/>
<text x="351.5" y="354.52" font-size="7.7" font-weight="normal" fill="#111" text-anchor="end" textLength="7.96" lengthAdjust="spacingAndGlyphs">20</text>
<line x1="353" y1="365.07" x2="356.3" y2="365.07" stroke="#111" stroke-width="1.09"/>
<text x="351.5" y="367.85" font-size="7.7" font-weight="normal" fill="#111" text-anchor="end" textLength="7.96" lengthAdjust="spacingAndGlyphs">10</text>
<line x1="353" y1="378.4" x2="356.3" y2="378.4" stroke="#111" stroke-width="1.09"/>
<text x="351.5" y="381.17" font-size="7.7" font-weight="normal" fill="#111" text-anchor="end" textLength="3.98" lengthAdjust="spacingAndGlyphs">0</text>
<line x1="355.8" y1="378.4" x2="394.4" y2="378.4" stroke="#111" stroke-width="1.1"/>
<text x="360.7" y="359.3" font-size="7.5" font-weight="normal" fill="#1c1c1c" textLength="32.9" lengthAdjust="spacingAndGlyphs"><tspan font-style="italic">p</tspan><tspan> = 0.1675</tspan></text>
<line x1="368" y1="362.2" x2="382" y2="362.2" stroke="#555" stroke-width="1"/>
<text x="0" y="0" font-size="9.2" font-weight="bold" fill="#000" text-anchor="middle" textLength="86.7" lengthAdjust="spacingAndGlyphs" transform="translate(413 320.6) rotate(-90)"><tspan>CD8</tspan><tspan font-size="6" dy="-3">+</tspan><tspan dy="3"> cells/ Field (%)</tspan></text>
<rect x="439.5" y="300.38" width="12.5" height="6.92" fill="#f0c8f6" stroke="#111" stroke-width="1"/>
<rect x="452" y="300.38" width="12.5" height="6.92" fill="#ad4fd3" stroke="#111" stroke-width="1"/>
<line x1="445.75" y1="297.99" x2="445.75" y2="302.78" stroke="#111" stroke-width="0.9"/>
<line x1="443.35" y1="297.99" x2="448.15" y2="297.99" stroke="#111" stroke-width="0.9"/>
<line x1="443.35" y1="302.78" x2="448.15" y2="302.78" stroke="#111" stroke-width="0.9"/>
<line x1="458.25" y1="298.66" x2="458.25" y2="302.11" stroke="#111" stroke-width="0.9"/>
<line x1="455.85" y1="298.66" x2="460.65" y2="298.66" stroke="#111" stroke-width="0.9"/>
<line x1="455.85" y1="302.11" x2="460.65" y2="302.11" stroke="#111" stroke-width="0.9"/>
<circle cx="447.03" cy="302.17" r="1.2" fill="#8a1fb0"/>
<circle cx="443.36" cy="300.36" r="1.2" fill="#8a1fb0"/>
<circle cx="441.89" cy="306.33" r="1.2" fill="#8a1fb0"/>
<circle cx="444.05" cy="299.37" r="1.2" fill="#8a1fb0"/>
<circle cx="442.53" cy="300.81" r="1.2" fill="#8a1fb0"/>
<circle cx="448.78" cy="301.24" r="1.2" fill="#8a1fb0"/>
<circle cx="442.86" cy="298.41" r="1.2" fill="#8a1fb0"/>
<circle cx="450.14" cy="300.64" r="1.2" fill="#8a1fb0"/>
<circle cx="446.75" cy="301.86" r="1.2" fill="#8a1fb0"/>
<circle cx="447.01" cy="297.66" r="1.2" fill="#8a1fb0"/>
<circle cx="447.55" cy="295.36" r="1.2" fill="#8a1fb0"/>
<circle cx="448.77" cy="303.34" r="1.2" fill="#8a1fb0"/>
<circle cx="445.1" cy="299.5" r="1.2" fill="#8a1fb0"/>
<circle cx="443.21" cy="303.53" r="1.2" fill="#8a1fb0"/>
<circle cx="454.99" cy="296.99" r="1.2" fill="#8a1fb0"/>
<circle cx="460.48" cy="298.22" r="1.2" fill="#8a1fb0"/>
<circle cx="456.41" cy="298.91" r="1.2" fill="#8a1fb0"/>
<circle cx="456.87" cy="302.67" r="1.2" fill="#8a1fb0"/>
<circle cx="459.76" cy="301.13" r="1.2" fill="#8a1fb0"/>
<circle cx="458.63" cy="304.58" r="1.2" fill="#8a1fb0"/>
<circle cx="460.29" cy="301.66" r="1.2" fill="#8a1fb0"/>
<circle cx="457.59" cy="299.3" r="1.2" fill="#8a1fb0"/>
<circle cx="459.48" cy="302.65" r="1.2" fill="#8a1fb0"/>
<circle cx="453.98" cy="300.88" r="1.2" fill="#8a1fb0"/>
<circle cx="458.9" cy="300.07" r="1.2" fill="#8a1fb0"/>
<circle cx="461.39" cy="297.83" r="1.2" fill="#8a1fb0"/>
<circle cx="458.27" cy="299.26" r="1.2" fill="#8a1fb0"/>
<circle cx="460.55" cy="300" r="1.2" fill="#8a1fb0"/>
<line x1="433.3" y1="253.6" x2="433.3" y2="307.8" stroke="#111" stroke-width="1.15"/>
<line x1="430" y1="254.1" x2="433.3" y2="254.1" stroke="#111" stroke-width="1.09"/>
<text x="428.5" y="256.87" font-size="7.7" font-weight="normal" fill="#111" text-anchor="end" textLength="7.96" lengthAdjust="spacingAndGlyphs">40</text>
<line x1="430" y1="267.4" x2="433.3" y2="267.4" stroke="#111" stroke-width="1.09"/>
<text x="428.5" y="270.17" font-size="7.7" font-weight="normal" fill="#111" text-anchor="end" textLength="7.96" lengthAdjust="spacingAndGlyphs">30</text>
<line x1="430" y1="280.7" x2="433.3" y2="280.7" stroke="#111" stroke-width="1.09"/>
<text x="428.5" y="283.47" font-size="7.7" font-weight="normal" fill="#111" text-anchor="end" textLength="7.96" lengthAdjust="spacingAndGlyphs">20</text>
<line x1="430" y1="294" x2="433.3" y2="294" stroke="#111" stroke-width="1.09"/>
<text x="428.5" y="296.77" font-size="7.7" font-weight="normal" fill="#111" text-anchor="end" textLength="7.96" lengthAdjust="spacingAndGlyphs">10</text>
<line x1="430" y1="307.3" x2="433.3" y2="307.3" stroke="#111" stroke-width="1.09"/>
<text x="428.5" y="310.07" font-size="7.7" font-weight="normal" fill="#111" text-anchor="end" textLength="3.98" lengthAdjust="spacingAndGlyphs">0</text>
<line x1="432.8" y1="307.3" x2="471.6" y2="307.3" stroke="#111" stroke-width="1.1"/>
<text x="437.4" y="289.1" font-size="7.5" font-weight="normal" fill="#1c1c1c" textLength="32.9" lengthAdjust="spacingAndGlyphs"><tspan font-style="italic">p</tspan><tspan> = 0.7821</tspan></text>
<line x1="445" y1="292.5" x2="459" y2="292.5" stroke="#555" stroke-width="1"/>
<rect x="439.5" y="371.07" width="12.5" height="7.33" fill="#c9f3e6" stroke="#111" stroke-width="1"/>
<rect x="452" y="371.74" width="12.5" height="6.66" fill="#2f6f73" stroke="#111" stroke-width="1"/>
<line x1="445.75" y1="367.74" x2="445.75" y2="374.4" stroke="#111" stroke-width="0.9"/>
<line x1="443.35" y1="367.74" x2="448.15" y2="367.74" stroke="#111" stroke-width="0.9"/>
<line x1="443.35" y1="374.4" x2="448.15" y2="374.4" stroke="#111" stroke-width="0.9"/>
<line x1="458.25" y1="370.4" x2="458.25" y2="373.07" stroke="#111" stroke-width="0.9"/>
<line x1="455.85" y1="370.4" x2="460.65" y2="370.4" stroke="#111" stroke-width="0.9"/>
<line x1="455.85" y1="373.07" x2="460.65" y2="373.07" stroke="#111" stroke-width="0.9"/>
<circle cx="442.61" cy="370.92" r="1.2" fill="#1f6a78"/>
<circle cx="448.74" cy="367.34" r="1.2" fill="#1f6a78"/>
<circle cx="449.72" cy="370.6" r="1.2" fill="#1f6a78"/>
<circle cx="444.8" cy="367.09" r="1.2" fill="#1f6a78"/>
<circle cx="446.2" cy="366.04" r="1.2" fill="#1f6a78"/>
<circle cx="446.95" cy="372.1" r="1.2" fill="#1f6a78"/>
<circle cx="450.37" cy="373.64" r="1.2" fill="#1f6a78"/>
<circle cx="444.86" cy="372.61" r="1.2" fill="#1f6a78"/>
<circle cx="441.36" cy="364.91" r="1.2" fill="#1f6a78"/>
<circle cx="443.5" cy="371.7" r="1.2" fill="#1f6a78"/>
<circle cx="442.75" cy="376.82" r="1.2" fill="#1f6a78"/>
<circle cx="446.83" cy="370.26" r="1.2" fill="#1f6a78"/>
<circle cx="449.72" cy="374.8" r="1.2" fill="#1f6a78"/>
<circle cx="448.19" cy="366.96" r="1.2" fill="#1f6a78"/>
<circle cx="458.01" cy="370.15" r="1.2" fill="#1f6a78"/>
<circle cx="458.47" cy="372.08" r="1.2" fill="#1f6a78"/>
<circle cx="457.51" cy="371.32" r="1.2" fill="#1f6a78"/>
<circle cx="455.75" cy="375.5" r="1.2" fill="#1f6a78"/>
<circle cx="459.58" cy="372.07" r="1.2" fill="#1f6a78"/>
<circle cx="462.83" cy="371.4" r="1.2" fill="#1f6a78"/>
<circle cx="455.56" cy="371.17" r="1.2" fill="#1f6a78"/>
<circle cx="462.25" cy="369.68" r="1.2" fill="#1f6a78"/>
<circle cx="453.88" cy="372.91" r="1.2" fill="#1f6a78"/>
<circle cx="455.05" cy="372.17" r="1.2" fill="#1f6a78"/>
<circle cx="459.32" cy="371.07" r="1.2" fill="#1f6a78"/>
<circle cx="458.8" cy="372.21" r="1.2" fill="#1f6a78"/>
<circle cx="454.77" cy="373.62" r="1.2" fill="#1f6a78"/>
<circle cx="459.84" cy="371.05" r="1.2" fill="#1f6a78"/>
<line x1="433.3" y1="324.6" x2="433.3" y2="378.9" stroke="#111" stroke-width="1.15"/>
<line x1="430" y1="325.1" x2="433.3" y2="325.1" stroke="#111" stroke-width="1.09"/>
<text x="428.5" y="327.87" font-size="7.7" font-weight="normal" fill="#111" text-anchor="end" textLength="7.96" lengthAdjust="spacingAndGlyphs">40</text>
<line x1="430" y1="338.43" x2="433.3" y2="338.43" stroke="#111" stroke-width="1.09"/>
<text x="428.5" y="341.2" font-size="7.7" font-weight="normal" fill="#111" text-anchor="end" textLength="7.96" lengthAdjust="spacingAndGlyphs">30</text>
<line x1="430" y1="351.75" x2="433.3" y2="351.75" stroke="#111" stroke-width="1.09"/>
<text x="428.5" y="354.52" font-size="7.7" font-weight="normal" fill="#111" text-anchor="end" textLength="7.96" lengthAdjust="spacingAndGlyphs">20</text>
<line x1="430" y1="365.07" x2="433.3" y2="365.07" stroke="#111" stroke-width="1.09"/>
<text x="428.5" y="367.85" font-size="7.7" font-weight="normal" fill="#111" text-anchor="end" textLength="7.96" lengthAdjust="spacingAndGlyphs">10</text>
<line x1="430" y1="378.4" x2="433.3" y2="378.4" stroke="#111" stroke-width="1.09"/>
<text x="428.5" y="381.17" font-size="7.7" font-weight="normal" fill="#111" text-anchor="end" textLength="3.98" lengthAdjust="spacingAndGlyphs">0</text>
<line x1="432.8" y1="378.4" x2="471.6" y2="378.4" stroke="#111" stroke-width="1.1"/>
<text x="437.4" y="354.8" font-size="7.5" font-weight="normal" fill="#1c1c1c" textLength="32.9" lengthAdjust="spacingAndGlyphs"><tspan font-style="italic">p</tspan><tspan> = 0.2491</tspan></text>
<line x1="445" y1="358" x2="459" y2="358" stroke="#555" stroke-width="1"/>
<text x="0" y="0" font-size="9.2" font-weight="bold" fill="#000" text-anchor="middle" textLength="118.3" lengthAdjust="spacingAndGlyphs" transform="translate(490.4 314.6) rotate(-90)"><tspan>F4/80</tspan><tspan font-size="6" dy="-3">+</tspan><tspan dy="3">Arg1</tspan><tspan font-size="6" dy="-3">+</tspan><tspan dy="3"> cells / Field (%)</tspan></text>
<rect x="512.9" y="295.42" width="12.6" height="11.88" fill="#f0c8f6" stroke="#111" stroke-width="1"/>
<rect x="525.5" y="275.38" width="12.9" height="31.92" fill="#ad4fd3" stroke="#111" stroke-width="1"/>
<line x1="519.2" y1="287.79" x2="519.2" y2="303.04" stroke="#111" stroke-width="0.9"/>
<line x1="516.8" y1="287.79" x2="521.6" y2="287.79" stroke="#111" stroke-width="0.9"/>
<line x1="516.8" y1="303.04" x2="521.6" y2="303.04" stroke="#111" stroke-width="0.9"/>
<line x1="531.95" y1="267.4" x2="531.95" y2="283.36" stroke="#111" stroke-width="0.9"/>
<line x1="529.55" y1="267.4" x2="534.35" y2="267.4" stroke="#111" stroke-width="0.9"/>
<line x1="529.55" y1="283.36" x2="534.35" y2="283.36" stroke="#111" stroke-width="0.9"/>
<circle cx="517" cy="298.8" r="1.2" fill="#8a1fb0"/>
<circle cx="522.09" cy="286.52" r="1.2" fill="#8a1fb0"/>
<circle cx="522.93" cy="301.79" r="1.2" fill="#8a1fb0"/>
<circle cx="521.95" cy="294.09" r="1.2" fill="#8a1fb0"/>
<circle cx="516.24" cy="288.6" r="1.2" fill="#8a1fb0"/>
<circle cx="518.17" cy="303.7" r="1.2" fill="#8a1fb0"/>
<circle cx="514.59" cy="294.57" r="1.2" fill="#8a1fb0"/>
<circle cx="521.93" cy="282.59" r="1.2" fill="#8a1fb0"/>
<circle cx="520.41" cy="292.33" r="1.2" fill="#8a1fb0"/>
<circle cx="520.84" cy="290.05" r="1.2" fill="#8a1fb0"/>
<circle cx="520.04" cy="304.62" r="1.2" fill="#8a1fb0"/>
<circle cx="520.14" cy="296.14" r="1.2" fill="#8a1fb0"/>
<circle cx="514.69" cy="290.65" r="1.2" fill="#8a1fb0"/>
<circle cx="519.83" cy="291.55" r="1.2" fill="#8a1fb0"/>
<circle cx="535.29" cy="280.75" r="1.2" fill="#8a1fb0"/>
<circle cx="531.4" cy="272.19" r="1.2" fill="#8a1fb0"/>
<circle cx="530.39" cy="284.82" r="1.2" fill="#8a1fb0"/>
<circle cx="533.3" cy="277.1" r="1.2" fill="#8a1fb0"/>
<circle cx="532.54" cy="273.01" r="1.2" fill="#8a1fb0"/>
<circle cx="529.66" cy="277.1" r="1.2" fill="#8a1fb0"/>
<circle cx="527.54" cy="281.3" r="1.2" fill="#8a1fb0"/>
<circle cx="528.2" cy="284.17" r="1.2" fill="#8a1fb0"/>
<circle cx="534.84" cy="290.14" r="1.2" fill="#8a1fb0"/>
<circle cx="535.09" cy="278.04" r="1.2" fill="#8a1fb0"/>
<circle cx="532.7" cy="270.79" r="1.2" fill="#8a1fb0"/>
<circle cx="530.65" cy="270.04" r="1.2" fill="#8a1fb0"/>
<circle cx="533.26" cy="273.3" r="1.2" fill="#8a1fb0"/>
<circle cx="530.96" cy="258.38" r="1.2" fill="#8a1fb0"/>
<line x1="507.3" y1="253.6" x2="507.3" y2="307.8" stroke="#111" stroke-width="1.15"/>
<line x1="504" y1="254.1" x2="507.3" y2="254.1" stroke="#111" stroke-width="1.09"/>
<text x="502.5" y="256.87" font-size="7.7" font-weight="normal" fill="#111" text-anchor="end" textLength="7.96" lengthAdjust="spacingAndGlyphs">30</text>
<line x1="504" y1="271.83" x2="507.3" y2="271.83" stroke="#111" stroke-width="1.09"/>
<text x="502.5" y="274.61" font-size="7.7" font-weight="normal" fill="#111" text-anchor="end" textLength="7.96" lengthAdjust="spacingAndGlyphs">20</text>
<line x1="504" y1="289.57" x2="507.3" y2="289.57" stroke="#111" stroke-width="1.09"/>
<text x="502.5" y="292.34" font-size="7.7" font-weight="normal" fill="#111" text-anchor="end" textLength="7.96" lengthAdjust="spacingAndGlyphs">10</text>
<line x1="504" y1="307.3" x2="507.3" y2="307.3" stroke="#111" stroke-width="1.09"/>
<text x="502.5" y="310.07" font-size="7.7" font-weight="normal" fill="#111" text-anchor="end" textLength="3.98" lengthAdjust="spacingAndGlyphs">0</text>
<line x1="506.8" y1="307.3" x2="545.2" y2="307.3" stroke="#111" stroke-width="1.1"/>
<text x="511.4" y="255.4" font-size="7.5" font-weight="normal" fill="#1c1c1c" textLength="33" lengthAdjust="spacingAndGlyphs"><tspan font-style="italic">p</tspan><tspan> &lt; 0.0001</tspan></text>
<line x1="518.5" y1="259" x2="532.5" y2="259" stroke="#555" stroke-width="1"/>
<rect x="512.9" y="360.63" width="12.6" height="17.77" fill="#c9f3e6" stroke="#111" stroke-width="1"/>
<rect x="525.5" y="353.88" width="12.9" height="24.52" fill="#2f6f73" stroke="#111" stroke-width="1"/>
<line x1="519.2" y1="354.42" x2="519.2" y2="366.85" stroke="#111" stroke-width="0.9"/>
<line x1="516.8" y1="354.42" x2="521.6" y2="354.42" stroke="#111" stroke-width="0.9"/>
<line x1="516.8" y1="366.85" x2="521.6" y2="366.85" stroke="#111" stroke-width="0.9"/>
<line x1="531.95" y1="348.2" x2="531.95" y2="359.57" stroke="#111" stroke-width="0.9"/>
<line x1="529.55" y1="348.2" x2="534.35" y2="348.2" stroke="#111" stroke-width="0.9"/>
<line x1="529.55" y1="359.57" x2="534.35" y2="359.57" stroke="#111" stroke-width="0.9"/>
<circle cx="522.11" cy="368.16" r="1.2" fill="#1f6a78"/>
<circle cx="517.51" cy="360.37" r="1.2" fill="#1f6a78"/>
<circle cx="519.07" cy="364.55" r="1.2" fill="#1f6a78"/>
<circle cx="517.88" cy="352.44" r="1.2" fill="#1f6a78"/>
<circle cx="516.08" cy="365.01" r="1.2" fill="#1f6a78"/>
<circle cx="520.44" cy="357.68" r="1.2" fill="#1f6a78"/>
<circle cx="520.47" cy="353.54" r="1.2" fill="#1f6a78"/>
<circle cx="517.67" cy="366.22" r="1.2" fill="#1f6a78"/>
<circle cx="521.35" cy="363.65" r="1.2" fill="#1f6a78"/>
<circle cx="517.29" cy="359.3" r="1.2" fill="#1f6a78"/>
<circle cx="517.7" cy="364.94" r="1.2" fill="#1f6a78"/>
<circle cx="523.7" cy="344.6" r="1.2" fill="#1f6a78"/>
<circle cx="520.4" cy="368.01" r="1.2" fill="#1f6a78"/>
<circle cx="516.18" cy="367.38" r="1.2" fill="#1f6a78"/>
<circle cx="529.49" cy="348.68" r="1.2" fill="#1f6a78"/>
<circle cx="531.42" cy="351.4" r="1.2" fill="#1f6a78"/>
<circle cx="532.54" cy="354.29" r="1.2" fill="#1f6a78"/>
<circle cx="534.32" cy="343.15" r="1.2" fill="#1f6a78"/>
<circle cx="531.64" cy="348.23" r="1.2" fill="#1f6a78"/>
<circle cx="528.34" cy="356.69" r="1.2" fill="#1f6a78"/>
<circle cx="530.62" cy="353.44" r="1.2" fill="#1f6a78"/>
<circle cx="528.72" cy="355.88" r="1.2" fill="#1f6a78"/>
<circle cx="532" cy="354.7" r="1.2" fill="#1f6a78"/>
<circle cx="532.22" cy="359.8" r="1.2" fill="#1f6a78"/>
<circle cx="530.69" cy="345.56" r="1.2" fill="#1f6a78"/>
<circle cx="535.64" cy="366.48" r="1.2" fill="#1f6a78"/>
<circle cx="536.58" cy="355.96" r="1.2" fill="#1f6a78"/>
<circle cx="529.09" cy="361.97" r="1.2" fill="#1f6a78"/>
<line x1="507.3" y1="324.6" x2="507.3" y2="378.9" stroke="#111" stroke-width="1.15"/>
<line x1="504" y1="325.1" x2="507.3" y2="325.1" stroke="#111" stroke-width="1.09"/>
<text x="502.5" y="327.87" font-size="7.7" font-weight="normal" fill="#111" text-anchor="end" textLength="7.96" lengthAdjust="spacingAndGlyphs">30</text>
<line x1="504" y1="342.87" x2="507.3" y2="342.87" stroke="#111" stroke-width="1.09"/>
<text x="502.5" y="345.64" font-size="7.7" font-weight="normal" fill="#111" text-anchor="end" textLength="7.96" lengthAdjust="spacingAndGlyphs">20</text>
<line x1="504" y1="360.63" x2="507.3" y2="360.63" stroke="#111" stroke-width="1.09"/>
<text x="502.5" y="363.41" font-size="7.7" font-weight="normal" fill="#111" text-anchor="end" textLength="7.96" lengthAdjust="spacingAndGlyphs">10</text>
<line x1="504" y1="378.4" x2="507.3" y2="378.4" stroke="#111" stroke-width="1.09"/>
<text x="502.5" y="381.17" font-size="7.7" font-weight="normal" fill="#111" text-anchor="end" textLength="3.98" lengthAdjust="spacingAndGlyphs">0</text>
<line x1="506.8" y1="378.4" x2="545.2" y2="378.4" stroke="#111" stroke-width="1.1"/>
<text x="511.4" y="337.8" font-size="7.5" font-weight="normal" fill="#1c1c1c" textLength="33" lengthAdjust="spacingAndGlyphs"><tspan font-style="italic">p</tspan><tspan> = 0.2356</tspan></text>
<line x1="518.5" y1="341.3" x2="532.5" y2="341.3" stroke="#555" stroke-width="1"/>
<text x="0" y="0" font-size="9.2" font-weight="bold" fill="#000" text-anchor="middle" textLength="121.2" lengthAdjust="spacingAndGlyphs" transform="translate(569.7 313) rotate(-90)"><tspan>F4/80</tspan><tspan font-size="6" dy="-3">+</tspan><tspan dy="3">iNOS</tspan><tspan font-size="6" dy="-3">+</tspan><tspan dy="3"> cells / Field (%)</tspan></text>
<rect x="592.2" y="297.55" width="12.8" height="9.75" fill="#f0c8f6" stroke="#111" stroke-width="1"/>
<rect x="605" y="294.53" width="12.7" height="12.77" fill="#ad4fd3" stroke="#111" stroke-width="1"/>
<line x1="598.6" y1="294.53" x2="598.6" y2="300.56" stroke="#111" stroke-width="0.9"/>
<line x1="596.2" y1="294.53" x2="601" y2="294.53" stroke="#111" stroke-width="0.9"/>
<line x1="596.2" y1="300.56" x2="601" y2="300.56" stroke="#111" stroke-width="0.9"/>
<line x1="611.35" y1="289.92" x2="611.35" y2="299.14" stroke="#111" stroke-width="0.9"/>
<line x1="608.95" y1="289.92" x2="613.75" y2="289.92" stroke="#111" stroke-width="0.9"/>
<line x1="608.95" y1="299.14" x2="613.75" y2="299.14" stroke="#111" stroke-width="0.9"/>
<circle cx="598.21" cy="295.53" r="1.2" fill="#8a1fb0"/>
<circle cx="595.11" cy="298.83" r="1.2" fill="#8a1fb0"/>
<circle cx="600.27" cy="295.89" r="1.2" fill="#8a1fb0"/>
<circle cx="599.54" cy="297.6" r="1.2" fill="#8a1fb0"/>
<circle cx="597.45" cy="298.2" r="1.2" fill="#8a1fb0"/>
<circle cx="597.64" cy="300.42" r="1.2" fill="#8a1fb0"/>
<circle cx="596.45" cy="295.29" r="1.2" fill="#8a1fb0"/>
<circle cx="601.3" cy="296.44" r="1.2" fill="#8a1fb0"/>
<circle cx="594.1" cy="298.76" r="1.2" fill="#8a1fb0"/>
<circle cx="597.12" cy="297.12" r="1.2" fill="#8a1fb0"/>
<circle cx="598.13" cy="296.9" r="1.2" fill="#8a1fb0"/>
<circle cx="601.18" cy="297.61" r="1.2" fill="#8a1fb0"/>
<circle cx="602.29" cy="293.8" r="1.2" fill="#8a1fb0"/>
<circle cx="601.73" cy="293.99" r="1.2" fill="#8a1fb0"/>
<circle cx="607" cy="299" r="1.2" fill="#8a1fb0"/>
<circle cx="613.89" cy="293.11" r="1.2" fill="#8a1fb0"/>
<circle cx="611.09" cy="297.55" r="1.2" fill="#8a1fb0"/>
<circle cx="612.99" cy="300.32" r="1.2" fill="#8a1fb0"/>
<circle cx="609.88" cy="289.56" r="1.2" fill="#8a1fb0"/>
<circle cx="615.12" cy="299.06" r="1.2" fill="#8a1fb0"/>
<circle cx="608.99" cy="295.28" r="1.2" fill="#8a1fb0"/>
<circle cx="611.32" cy="292.86" r="1.2" fill="#8a1fb0"/>
<circle cx="612.88" cy="291.93" r="1.2" fill="#8a1fb0"/>
<circle cx="609.15" cy="297.63" r="1.2" fill="#8a1fb0"/>
<circle cx="612.04" cy="282.76" r="1.2" fill="#8a1fb0"/>
<circle cx="611" cy="292.48" r="1.2" fill="#8a1fb0"/>
<circle cx="614.93" cy="295.57" r="1.2" fill="#8a1fb0"/>
<circle cx="609.47" cy="296.61" r="1.2" fill="#8a1fb0"/>
<line x1="586.5" y1="253.6" x2="586.5" y2="307.8" stroke="#111" stroke-width="1.15"/>
<line x1="583.2" y1="254.1" x2="586.5" y2="254.1" stroke="#111" stroke-width="1.09"/>
<text x="581.7" y="256.87" font-size="7.7" font-weight="normal" fill="#111" text-anchor="end" textLength="7.96" lengthAdjust="spacingAndGlyphs">30</text>
<line x1="583.2" y1="271.83" x2="586.5" y2="271.83" stroke="#111" stroke-width="1.09"/>
<text x="581.7" y="274.61" font-size="7.7" font-weight="normal" fill="#111" text-anchor="end" textLength="7.96" lengthAdjust="spacingAndGlyphs">20</text>
<line x1="583.2" y1="289.57" x2="586.5" y2="289.57" stroke="#111" stroke-width="1.09"/>
<text x="581.7" y="292.34" font-size="7.7" font-weight="normal" fill="#111" text-anchor="end" textLength="7.96" lengthAdjust="spacingAndGlyphs">10</text>
<line x1="583.2" y1="307.3" x2="586.5" y2="307.3" stroke="#111" stroke-width="1.09"/>
<text x="581.7" y="310.07" font-size="7.7" font-weight="normal" fill="#111" text-anchor="end" textLength="3.98" lengthAdjust="spacingAndGlyphs">0</text>
<line x1="586" y1="307.3" x2="625.2" y2="307.3" stroke="#111" stroke-width="1.1"/>
<text x="590.7" y="277.9" font-size="7.5" font-weight="normal" fill="#1c1c1c" textLength="32.4" lengthAdjust="spacingAndGlyphs"><tspan font-style="italic">p</tspan><tspan> = 0.0377</tspan></text>
<line x1="598" y1="280.9" x2="612" y2="280.9" stroke="#555" stroke-width="1"/>
<rect x="592.2" y="362.05" width="12.8" height="16.35" fill="#c9f3e6" stroke="#111" stroke-width="1"/>
<rect x="605" y="362.41" width="12.7" height="15.99" fill="#2f6f73" stroke="#111" stroke-width="1"/>
<line x1="598.6" y1="356.72" x2="598.6" y2="367.38" stroke="#111" stroke-width="0.9"/>
<line x1="596.2" y1="356.72" x2="601" y2="356.72" stroke="#111" stroke-width="0.9"/>
<line x1="596.2" y1="367.38" x2="601" y2="367.38" stroke="#111" stroke-width="0.9"/>
<line x1="611.35" y1="357.44" x2="611.35" y2="367.38" stroke="#111" stroke-width="0.9"/>
<line x1="608.95" y1="357.44" x2="613.75" y2="357.44" stroke="#111" stroke-width="0.9"/>
<line x1="608.95" y1="367.38" x2="613.75" y2="367.38" stroke="#111" stroke-width="0.9"/>
<circle cx="593.88" cy="365.2" r="1.2" fill="#1f6a78"/>
<circle cx="603.24" cy="355.75" r="1.2" fill="#1f6a78"/>
<circle cx="596.33" cy="353.8" r="1.2" fill="#1f6a78"/>
<circle cx="595.72" cy="377.87" r="1.2" fill="#1f6a78"/>
<circle cx="594.03" cy="358.93" r="1.2" fill="#1f6a78"/>
<circle cx="600.44" cy="360.93" r="1.2" fill="#1f6a78"/>
<circle cx="601.1" cy="368.24" r="1.2" fill="#1f6a78"/>
<circle cx="597.15" cy="355.1" r="1.2" fill="#1f6a78"/>
<circle cx="594.09" cy="359.72" r="1.2" fill="#1f6a78"/>
<circle cx="600.02" cy="358" r="1.2" fill="#1f6a78"/>
<circle cx="602.33" cy="360.99" r="1.2" fill="#1f6a78"/>
<circle cx="598" cy="359.38" r="1.2" fill="#1f6a78"/>
<circle cx="600.17" cy="348.67" r="1.2" fill="#1f6a78"/>
<circle cx="596.2" cy="366.77" r="1.2" fill="#1f6a78"/>
<circle cx="608.5" cy="370.36" r="1.2" fill="#1f6a78"/>
<circle cx="609.42" cy="354" r="1.2" fill="#1f6a78"/>
<circle cx="609.46" cy="365.44" r="1.2" fill="#1f6a78"/>
<circle cx="614.59" cy="360.7" r="1.2" fill="#1f6a78"/>
<circle cx="614.65" cy="364.38" r="1.2" fill="#1f6a78"/>
<circle cx="608.76" cy="362.28" r="1.2" fill="#1f6a78"/>
<circle cx="612.86" cy="362" r="1.2" fill="#1f6a78"/>
<circle cx="612.21" cy="364.03" r="1.2" fill="#1f6a78"/>
<circle cx="613.66" cy="372.84" r="1.2" fill="#1f6a78"/>
<circle cx="609.75" cy="370.7" r="1.2" fill="#1f6a78"/>
<circle cx="612.58" cy="364.06" r="1.2" fill="#1f6a78"/>
<circle cx="610.42" cy="361.95" r="1.2" fill="#1f6a78"/>
<circle cx="613.86" cy="356.98" r="1.2" fill="#1f6a78"/>
<circle cx="607.43" cy="358.47" r="1.2" fill="#1f6a78"/>
<line x1="586.5" y1="324.6" x2="586.5" y2="378.9" stroke="#111" stroke-width="1.15"/>
<line x1="583.2" y1="325.1" x2="586.5" y2="325.1" stroke="#111" stroke-width="1.09"/>
<text x="581.7" y="327.87" font-size="7.7" font-weight="normal" fill="#111" text-anchor="end" textLength="7.96" lengthAdjust="spacingAndGlyphs">30</text>
<line x1="583.2" y1="342.87" x2="586.5" y2="342.87" stroke="#111" stroke-width="1.09"/>
<text x="581.7" y="345.64" font-size="7.7" font-weight="normal" fill="#111" text-anchor="end" textLength="7.96" lengthAdjust="spacingAndGlyphs">20</text>
<line x1="583.2" y1="360.63" x2="586.5" y2="360.63" stroke="#111" stroke-width="1.09"/>
<text x="581.7" y="363.41" font-size="7.7" font-weight="normal" fill="#111" text-anchor="end" textLength="7.96" lengthAdjust="spacingAndGlyphs">10</text>
<line x1="583.2" y1="378.4" x2="586.5" y2="378.4" stroke="#111" stroke-width="1.09"/>
<text x="581.7" y="381.17" font-size="7.7" font-weight="normal" fill="#111" text-anchor="end" textLength="3.98" lengthAdjust="spacingAndGlyphs">0</text>
<line x1="586" y1="378.4" x2="625.2" y2="378.4" stroke="#111" stroke-width="1.1"/>
<text x="590.7" y="342.2" font-size="7.5" font-weight="normal" fill="#1c1c1c" textLength="32.4" lengthAdjust="spacingAndGlyphs"><tspan font-style="italic">p</tspan><tspan> = 0.9266</tspan></text>
<line x1="598" y1="345.2" x2="612" y2="345.2" stroke="#555" stroke-width="1"/>
<rect x="629.5" y="277.3" width="55" height="22.2" fill="#fff" stroke="#555" stroke-width="1.1"/>
<rect x="633" y="281.2" width="5.4" height="5.4" fill="#f0c8f6" stroke="#222" stroke-width="0.9"/>
<text x="641" y="286.3" font-size="8.4" font-weight="bold" fill="#000" textLength="37.9" lengthAdjust="spacingAndGlyphs"><tspan>Veh/</tspan><tspan fill="#b85adf">HCD</tspan></text>
<rect x="633" y="290.3" width="5.4" height="5.4" fill="#ad4fd3" stroke="#222" stroke-width="0.9"/>
<text x="641" y="295.5" font-size="8.4" font-weight="bold" fill="#000" textLength="34.3" lengthAdjust="spacingAndGlyphs"><tspan>NB/</tspan><tspan fill="#b85adf">HCD</tspan></text>
<rect x="629.5" y="342.1" width="55" height="21.4" fill="#fff" stroke="#555" stroke-width="1.1"/>
<rect x="633" y="345.7" width="5.4" height="5.4" fill="#c9f3e6" stroke="#222" stroke-width="0.9"/>
<text x="641" y="351.2" font-size="8.4" font-weight="bold" fill="#000" textLength="36.5" lengthAdjust="spacingAndGlyphs"><tspan>Veh/</tspan><tspan fill="#3b8f93">HFD</tspan></text>
<rect x="633" y="355.2" width="5.4" height="5.4" fill="#2e8a5a" stroke="#222" stroke-width="0.9"/>
<text x="641" y="360.4" font-size="8.4" font-weight="bold" fill="#000" textLength="33.3" lengthAdjust="spacingAndGlyphs"><tspan>NB/</tspan><tspan fill="#3b8f93">HFD</tspan></text>
<!-- pf -->
<text x="15.2" y="415.2" font-size="15.5" font-weight="bold" fill="#000">f</text>
<text x="52" y="407.6" font-size="9" font-weight="bold" fill="#000" textLength="71" lengthAdjust="spacingAndGlyphs"><tspan fill="#c800c8">Veh</tspan><tspan> or </tspan><tspan fill="#c800c8">NB</tspan><tspan> under</tspan></text>
<text x="52" y="419.2" font-size="9" font-weight="bold" fill="#000" textLength="74.6" lengthAdjust="spacingAndGlyphs"><tspan fill="#7a4af0" font-weight="normal">G</tspan><tspan fill="#7a4af0" font-size="6" dy="-3" font-weight="normal">low</tspan><tspan dy="3">, </tspan><tspan fill="#7a4af0" font-weight="normal">G</tspan><tspan fill="#7a4af0" font-size="6" dy="-3" font-weight="normal">std</tspan><tspan dy="3">, or </tspan><tspan fill="#7a4af0" font-weight="normal">G</tspan><tspan fill="#7a4af0" font-size="6" dy="-3" font-weight="normal">high</tspan></text>
<path d="M128.4 409.5 C131.5 410.3,132.8 412.5,132.7 416.5" fill="none" stroke="#c800c8" stroke-width="1.4"/>
<path d="M132.6 420.8 L130.1 416 L135.3 415.8Z" fill="#c800c8"/>
<g transform="translate(126.1 417.9) scale(1)">
<path d="M2 6.7 L8.5 2.3 L16.1 0 L25.4 3.2 L25.4 7.9 L18.4 11.4 L7.3 14 L4.1 13.4 L4.1 9.1Z" fill="#e6e2e2" stroke="#c9c4c4" stroke-width="0.5"/>
<path d="M4.7 9.6 L15.5 4.1 L24.8 7.6 L24.8 8.5 L18.4 11.4 L7.3 14 L4.4 13.1Z" fill="#ea7e82"/>
<path d="M6.5 9.6 L15.6 5 L22.8 7.7 L16.5 10.4 L8 12.4Z" fill="#f2a4a6"/>
<rect x="-0.4" y="8" width="4.3" height="5" rx="1.1" fill="#3a8ed8"/>
</g>
<text x="137.2" y="441" font-size="9" font-weight="bold" fill="#6aa832" text-anchor="middle" textLength="25.5" lengthAdjust="spacingAndGlyphs">THP-1</text>
<path d="M149.5 419 C156 408.5,172 408,186 418.5" fill="none" stroke="#e2603a" stroke-width="1.4"/>
<path d="M189.2 421 L183.4 419.8 L186.6 415.6Z" fill="#e2603a"/>
<text x="165" y="424.4" font-size="9" font-weight="bold" fill="#e2603a" text-anchor="middle">CM</text>
<ellipse cx="194.9" cy="423.7" rx="14" ry="6" fill="#f8dcd8" stroke="#b4aaaa" stroke-width="0.9"/>
<ellipse cx="194.9" cy="422.9" rx="12.6" ry="4.5" fill="#f5c0be" stroke="#e6aeac" stroke-width="0.5"/>
<text x="194.9" y="438.5" font-size="8.6" font-weight="bold" fill="#9a6ad0" text-anchor="middle">A549</text>
<line x1="212" y1="423.8" x2="219.8" y2="423.8" stroke="#c800c8" stroke-width="1.3"/>
<path d="M223.5 423.8 L219.3 421.4 L219.3 426.2 Z" fill="#c800c8"/>
<text x="228.4" y="421.1" font-size="10.4" font-weight="bold" fill="#6a0a86" textLength="86.1" lengthAdjust="spacingAndGlyphs">Colony formation</text>
<text x="228.4" y="433.6" font-size="10.4" font-weight="bold" fill="#6a0a86" textLength="86.1" lengthAdjust="spacingAndGlyphs">Sphere formation</text>
<rect x="67.5" y="510.88" width="10.8" height="23.92" fill="#f0c8f6" stroke="#111" stroke-width="1"/>
<rect x="78.3" y="512.57" width="11" height="22.23" fill="#ad4fd3" stroke="#111" stroke-width="1"/>
<line x1="72.9" y1="507.49" x2="72.9" y2="510.88" stroke="#111" stroke-width="0.9"/>
<line x1="70.7" y1="507.49" x2="75.1" y2="507.49" stroke="#111" stroke-width="0.9"/>
<line x1="83.8" y1="508.84" x2="83.8" y2="512.57" stroke="#111" stroke-width="0.9"/>
<line x1="81.6" y1="508.84" x2="86" y2="508.84" stroke="#111" stroke-width="0.9"/>
<circle cx="70.4" cy="512.91" r="1.15" fill="#8a1fb0"/>
<circle cx="72.4" cy="510.37" r="1.15" fill="#8a1fb0"/>
<circle cx="74.4" cy="508.16" r="1.15" fill="#8a1fb0"/>
<circle cx="75.9" cy="512.06" r="1.15" fill="#8a1fb0"/>
<circle cx="83.8" cy="528" r="1.15" fill="#8a1fb0"/>
<circle cx="81.3" cy="512.91" r="1.15" fill="#8a1fb0"/>
<circle cx="86.3" cy="511.22" r="1.15" fill="#8a1fb0"/>
<circle cx="84.3" cy="508.67" r="1.15" fill="#8a1fb0"/>
<rect x="95.6" y="507.83" width="10.8" height="26.97" fill="#f0c8f6" stroke="#111" stroke-width="1"/>
<rect x="106.4" y="499.01" width="11" height="35.79" fill="#ad4fd3" stroke="#111" stroke-width="1"/>
<line x1="101" y1="504.77" x2="101" y2="507.83" stroke="#111" stroke-width="0.9"/>
<line x1="98.8" y1="504.77" x2="103.2" y2="504.77" stroke="#111" stroke-width="0.9"/>
<line x1="111.9" y1="495.28" x2="111.9" y2="499.01" stroke="#111" stroke-width="0.9"/>
<line x1="109.7" y1="495.28" x2="114.1" y2="495.28" stroke="#111" stroke-width="0.9"/>
<circle cx="98.5" cy="509.86" r="1.15" fill="#8a1fb0"/>
<circle cx="100.5" cy="508.67" r="1.15" fill="#8a1fb0"/>
<circle cx="102.5" cy="507.83" r="1.15" fill="#8a1fb0"/>
<circle cx="104" cy="504.44" r="1.15" fill="#8a1fb0"/>
<circle cx="111.9" cy="504.44" r="1.15" fill="#8a1fb0"/>
<circle cx="109.4" cy="501.05" r="1.15" fill="#8a1fb0"/>
<circle cx="114.4" cy="497.66" r="1.15" fill="#8a1fb0"/>
<circle cx="112.4" cy="495.11" r="1.15" fill="#8a1fb0"/>
<rect x="124" y="502.74" width="10.8" height="32.06" fill="#f0c8f6" stroke="#111" stroke-width="1"/>
<rect x="134.8" y="489.18" width="11.5" height="45.62" fill="#ad4fd3" stroke="#111" stroke-width="1"/>
<line x1="129.4" y1="499.35" x2="129.4" y2="502.74" stroke="#111" stroke-width="0.9"/>
<line x1="127.2" y1="499.35" x2="131.6" y2="499.35" stroke="#111" stroke-width="0.9"/>
<line x1="140.55" y1="486.13" x2="140.55" y2="489.18" stroke="#111" stroke-width="0.9"/>
<line x1="138.35" y1="486.13" x2="142.75" y2="486.13" stroke="#111" stroke-width="0.9"/>
<circle cx="126.9" cy="506.13" r="1.15" fill="#8a1fb0"/>
<circle cx="128.9" cy="504.44" r="1.15" fill="#8a1fb0"/>
<circle cx="130.9" cy="500.2" r="1.15" fill="#8a1fb0"/>
<circle cx="132.4" cy="501.38" r="1.15" fill="#8a1fb0"/>
<circle cx="140.55" cy="493.42" r="1.15" fill="#8a1fb0"/>
<circle cx="138.05" cy="490.03" r="1.15" fill="#8a1fb0"/>
<circle cx="143.05" cy="488.33" r="1.15" fill="#8a1fb0"/>
<circle cx="141.05" cy="485.45" r="1.15" fill="#8a1fb0"/>
<rect x="62" y="516.5" width="91" height="3.5" fill="#fff"/>
<line x1="61" y1="475.1" x2="61" y2="516.3" stroke="#111" stroke-width="1.1"/>
<line x1="61" y1="520" x2="61" y2="535.3" stroke="#111" stroke-width="1.1"/>
<line x1="57.7" y1="475.6" x2="61" y2="475.6" stroke="#111" stroke-width="1.1"/>
<text x="56.2" y="478.37" font-size="7.7" font-weight="normal" fill="#111" text-anchor="end" textLength="11.95" lengthAdjust="spacingAndGlyphs">320</text>
<line x1="57.7" y1="485.6" x2="61" y2="485.6" stroke="#111" stroke-width="1.1"/>
<text x="56.2" y="488.37" font-size="7.7" font-weight="normal" fill="#111" text-anchor="end" textLength="11.95" lengthAdjust="spacingAndGlyphs">260</text>
<line x1="57.7" y1="495.5" x2="61" y2="495.5" stroke="#111" stroke-width="1.1"/>
<text x="56.2" y="498.27" font-size="7.7" font-weight="normal" fill="#111" text-anchor="end" textLength="11.95" lengthAdjust="spacingAndGlyphs">200</text>
<line x1="57.7" y1="505.6" x2="61" y2="505.6" stroke="#111" stroke-width="1.1"/>
<text x="56.2" y="508.37" font-size="7.7" font-weight="normal" fill="#111" text-anchor="end" textLength="11.95" lengthAdjust="spacingAndGlyphs">140</text>
<line x1="56.6" y1="516.1" x2="66" y2="516.1" stroke="#111" stroke-width="1.1"/>
<text x="56.2" y="518.37" font-size="7.7" font-weight="normal" fill="#111" text-anchor="end" textLength="7.96" lengthAdjust="spacingAndGlyphs">80</text>
<line x1="56.6" y1="520.2" x2="66" y2="520.2" stroke="#111" stroke-width="1.1"/>
<text x="56.2" y="524.87" font-size="7.7" font-weight="normal" fill="#111" text-anchor="end" textLength="7.96" lengthAdjust="spacingAndGlyphs">70</text>
<line x1="57.7" y1="534.8" x2="61" y2="534.8" stroke="#111" stroke-width="1.1"/>
<text x="56.2" y="537.57" font-size="7.7" font-weight="normal" fill="#111" text-anchor="end" textLength="3.98" lengthAdjust="spacingAndGlyphs">0</text>
<line x1="60.5" y1="534.8" x2="153" y2="534.8" stroke="#111" stroke-width="1.1"/>
<text x="95.9" y="455.9" font-size="7.5" font-weight="normal" fill="#1c1c1c" textLength="32.8" lengthAdjust="spacingAndGlyphs"><tspan font-style="italic">p</tspan><tspan> &lt; 0.0001</tspan></text>
<line x1="83.6" y1="458.6" x2="141.9" y2="458.6" stroke="#555" stroke-width="1"/>
<text x="107.7" y="467.2" font-size="7.5" font-weight="normal" fill="#1c1c1c" textLength="34.2" lengthAdjust="spacingAndGlyphs"><tspan font-style="italic">p</tspan><tspan> = 0.0002</tspan></text>
<line x1="113" y1="470.1" x2="141.9" y2="470.1" stroke="#555" stroke-width="1"/>
<text x="124" y="478.8" font-size="7.5" font-weight="normal" fill="#1c1c1c" textLength="32.9" lengthAdjust="spacingAndGlyphs"><tspan font-style="italic">p</tspan><tspan> &lt; 0.0001</tspan></text>
<line x1="130.6" y1="481.7" x2="141.9" y2="481.7" stroke="#555" stroke-width="1"/>
<text x="90.6" y="487.5" font-size="7.5" font-weight="normal" fill="#1c1c1c" textLength="32.9" lengthAdjust="spacingAndGlyphs"><tspan font-style="italic">p</tspan><tspan> = 0.0039</tspan></text>
<line x1="100.6" y1="490.4" x2="112.5" y2="490.4" stroke="#555" stroke-width="1"/>
<text x="64.9" y="496.7" font-size="7.5" font-weight="normal" fill="#1c1c1c" textLength="32.8" lengthAdjust="spacingAndGlyphs"><tspan font-style="italic">p</tspan><tspan> = 0.9368</tspan></text>
<line x1="72.3" y1="499.8" x2="84.1" y2="499.8" stroke="#555" stroke-width="1"/>
<text x="0" y="0" font-size="9.2" font-weight="bold" fill="#000" text-anchor="middle" textLength="63" lengthAdjust="spacingAndGlyphs" transform="translate(39.8 505.9) rotate(-90)">No. of colonies</text>
<text x="78.2" y="548" font-size="9" font-weight="bold" fill="#000" text-anchor="middle"><tspan>G</tspan><tspan font-size="6" dy="-3">low</tspan></text>
<text x="106.6" y="548" font-size="9" font-weight="bold" fill="#000" text-anchor="middle"><tspan>G</tspan><tspan font-size="6" dy="-3">std</tspan></text>
<text x="135.2" y="548" font-size="9" font-weight="bold" fill="#000" text-anchor="middle"><tspan>G</tspan><tspan font-size="6" dy="-3">high</tspan></text>
<rect x="196.5" y="527.3" width="10.8" height="7.8" fill="#f0c8f6" stroke="#111" stroke-width="1"/>
<rect x="207.3" y="519.8" width="11.3" height="15.3" fill="#ad4fd3" stroke="#111" stroke-width="1"/>
<line x1="201.9" y1="522.2" x2="201.9" y2="527.3" stroke="#111" stroke-width="0.9"/>
<line x1="199.7" y1="522.2" x2="204.1" y2="522.2" stroke="#111" stroke-width="0.9"/>
<line x1="212.95" y1="515" x2="212.95" y2="519.8" stroke="#111" stroke-width="0.9"/>
<line x1="210.75" y1="515" x2="215.15" y2="515" stroke="#111" stroke-width="0.9"/>
<circle cx="201.9" cy="532.1" r="1.15" fill="#8a1fb0"/>
<circle cx="200.4" cy="529.1" r="1.15" fill="#8a1fb0"/>
<circle cx="203.4" cy="527.6" r="1.15" fill="#8a1fb0"/>
<circle cx="201.9" cy="520.7" r="1.15" fill="#8a1fb0"/>
<circle cx="213.45" cy="526.1" r="1.15" fill="#8a1fb0"/>
<circle cx="211.95" cy="520.1" r="1.15" fill="#8a1fb0"/>
<circle cx="214.45" cy="518.6" r="1.15" fill="#8a1fb0"/>
<circle cx="212.95" cy="514.7" r="1.15" fill="#8a1fb0"/>
<rect x="224.8" y="520.1" width="10.8" height="15" fill="#f0c8f6" stroke="#111" stroke-width="1"/>
<rect x="235.6" y="506.3" width="11.6" height="28.8" fill="#ad4fd3" stroke="#111" stroke-width="1"/>
<line x1="230.2" y1="513.5" x2="230.2" y2="520.1" stroke="#111" stroke-width="0.9"/>
<line x1="228" y1="513.5" x2="232.4" y2="513.5" stroke="#111" stroke-width="0.9"/>
<line x1="241.4" y1="498.5" x2="241.4" y2="506.3" stroke="#111" stroke-width="0.9"/>
<line x1="239.2" y1="498.5" x2="243.6" y2="498.5" stroke="#111" stroke-width="0.9"/>
<circle cx="230.2" cy="526.1" r="1.15" fill="#8a1fb0"/>
<circle cx="228.7" cy="526.1" r="1.15" fill="#8a1fb0"/>
<circle cx="231.7" cy="514.1" r="1.15" fill="#8a1fb0"/>
<circle cx="230.2" cy="514.1" r="1.15" fill="#8a1fb0"/>
<circle cx="241.9" cy="514.1" r="1.15" fill="#8a1fb0"/>
<circle cx="240.4" cy="509.6" r="1.15" fill="#8a1fb0"/>
<circle cx="242.9" cy="505.1" r="1.15" fill="#8a1fb0"/>
<circle cx="241.4" cy="497.6" r="1.15" fill="#8a1fb0"/>
<rect x="253.2" y="518.3" width="11.3" height="16.8" fill="#f0c8f6" stroke="#111" stroke-width="1"/>
<rect x="264.5" y="496.1" width="11.6" height="39" fill="#ad4fd3" stroke="#111" stroke-width="1"/>
<line x1="258.85" y1="510.5" x2="258.85" y2="518.3" stroke="#111" stroke-width="0.9"/>
<line x1="256.65" y1="510.5" x2="261.05" y2="510.5" stroke="#111" stroke-width="0.9"/>
<line x1="270.3" y1="487.1" x2="270.3" y2="496.1" stroke="#111" stroke-width="0.9"/>
<line x1="268.1" y1="487.1" x2="272.5" y2="487.1" stroke="#111" stroke-width="0.9"/>
<circle cx="258.85" cy="526.1" r="1.15" fill="#8a1fb0"/>
<circle cx="257.35" cy="524.6" r="1.15" fill="#8a1fb0"/>
<circle cx="260.35" cy="523.1" r="1.15" fill="#8a1fb0"/>
<circle cx="258.85" cy="508.1" r="1.15" fill="#8a1fb0"/>
<circle cx="270.8" cy="508.1" r="1.15" fill="#8a1fb0"/>
<circle cx="269.3" cy="500.6" r="1.15" fill="#8a1fb0"/>
<circle cx="271.8" cy="490.1" r="1.15" fill="#8a1fb0"/>
<circle cx="270.3" cy="487.1" r="1.15" fill="#8a1fb0"/>
<line x1="190.5" y1="474.6" x2="190.5" y2="535.6" stroke="#111" stroke-width="1.15"/>
<line x1="187.2" y1="475.1" x2="190.5" y2="475.1" stroke="#111" stroke-width="1.09"/>
<text x="185.7" y="477.87" font-size="7.7" font-weight="normal" fill="#111" text-anchor="end" textLength="7.96" lengthAdjust="spacingAndGlyphs">20</text>
<line x1="187.2" y1="490.1" x2="190.5" y2="490.1" stroke="#111" stroke-width="1.09"/>
<text x="185.7" y="492.87" font-size="7.7" font-weight="normal" fill="#111" text-anchor="end" textLength="7.96" lengthAdjust="spacingAndGlyphs">15</text>
<line x1="187.2" y1="505.1" x2="190.5" y2="505.1" stroke="#111" stroke-width="1.09"/>
<text x="185.7" y="507.87" font-size="7.7" font-weight="normal" fill="#111" text-anchor="end" textLength="7.96" lengthAdjust="spacingAndGlyphs">10</text>
<line x1="187.2" y1="520.1" x2="190.5" y2="520.1" stroke="#111" stroke-width="1.09"/>
<text x="185.7" y="522.87" font-size="7.7" font-weight="normal" fill="#111" text-anchor="end" textLength="3.98" lengthAdjust="spacingAndGlyphs">5</text>
<line x1="187.2" y1="535.1" x2="190.5" y2="535.1" stroke="#111" stroke-width="1.09"/>
<text x="185.7" y="537.87" font-size="7.7" font-weight="normal" fill="#111" text-anchor="end" textLength="3.98" lengthAdjust="spacingAndGlyphs">0</text>
<line x1="190" y1="535.1" x2="281.5" y2="535.1" stroke="#111" stroke-width="1.1"/>
<text x="226.2" y="456.2" font-size="7.5" font-weight="normal" fill="#1c1c1c" textLength="32.4" lengthAdjust="spacingAndGlyphs"><tspan font-style="italic">p</tspan><tspan> &lt; 0.0001</tspan></text>
<line x1="213.2" y1="459.7" x2="272.1" y2="459.7" stroke="#555" stroke-width="1"/>
<text x="237.8" y="468.4" font-size="7.5" font-weight="normal" fill="#1c1c1c" textLength="32.9" lengthAdjust="spacingAndGlyphs"><tspan font-style="italic">p</tspan><tspan> = 0.1821</tspan></text>
<line x1="242.4" y1="471.3" x2="272.1" y2="471.3" stroke="#555" stroke-width="1"/>
<text x="252.6" y="479.7" font-size="7.5" font-weight="normal" fill="#1c1c1c" textLength="33" lengthAdjust="spacingAndGlyphs"><tspan font-style="italic">p</tspan><tspan> = 0.0002</tspan></text>
<line x1="258.6" y1="482.7" x2="270.7" y2="482.7" stroke="#555" stroke-width="1"/>
<text x="220.8" y="490" font-size="7.5" font-weight="normal" fill="#1c1c1c" textLength="32.9" lengthAdjust="spacingAndGlyphs"><tspan font-style="italic">p</tspan><tspan> = 0.0228</tspan></text>
<line x1="230.2" y1="492.9" x2="242.4" y2="492.9" stroke="#555" stroke-width="1"/>
<text x="194.3" y="506.7" font-size="7.5" font-weight="normal" fill="#1c1c1c" textLength="33.2" lengthAdjust="spacingAndGlyphs"><tspan font-style="italic">p</tspan><tspan> = 0.5307</tspan></text>
<line x1="201.3" y1="510.2" x2="213.2" y2="510.2" stroke="#555" stroke-width="1"/>
<text x="0" y="0" font-size="9.2" font-weight="bold" fill="#000" text-anchor="middle" textLength="62" lengthAdjust="spacingAndGlyphs" transform="translate(173.2 506) rotate(-90)">No. of spheres</text>
<text x="207.6" y="548.3" font-size="9" font-weight="bold" fill="#000" text-anchor="middle"><tspan>G</tspan><tspan font-size="6" dy="-3">low</tspan></text>
<text x="236" y="548.3" font-size="9" font-weight="bold" fill="#000" text-anchor="middle"><tspan>G</tspan><tspan font-size="6" dy="-3">std</tspan></text>
<text x="264.6" y="548.3" font-size="9" font-weight="bold" fill="#000" text-anchor="middle"><tspan>G</tspan><tspan font-size="6" dy="-3">high</tspan></text>
<rect x="287.5" y="491.4" width="65.3" height="26" fill="#fff" stroke="#333" stroke-width="0.9"/>
<rect x="291.5" y="496.3" width="6" height="6" fill="#f0c8f6" stroke="#222" stroke-width="0.9"/>
<text x="299.7" y="503" font-size="8.8" font-weight="bold" fill="#000" textLength="47.6" lengthAdjust="spacingAndGlyphs"><tspan font-size="5.6" dy="-3">CM</tspan><tspan dy="3">THP-Veh</tspan></text>
<rect x="291.5" y="506.2" width="6" height="6" fill="#ad4fd3" stroke="#222" stroke-width="0.9"/>
<text x="299.7" y="512.8" font-size="8.8" font-weight="bold" fill="#000" textLength="43.5" lengthAdjust="spacingAndGlyphs"><tspan font-size="5.6" dy="-3">CM</tspan><tspan dy="3">THP-NB</tspan></text>
<!-- pg -->
<text x="377.3" y="412.8" font-size="15.5" font-weight="bold" fill="#000">g</text>
<text x="407" y="424.9" font-size="9" font-weight="bold" fill="#000" textLength="43.9" lengthAdjust="spacingAndGlyphs"><tspan fill="#c800c8">Veh</tspan><tspan> or </tspan><tspan fill="#c800c8">NB</tspan></text>
<text x="470.6" y="421.3" font-size="9" font-weight="bold" fill="#000" textLength="24" lengthAdjust="spacingAndGlyphs"><tspan font-size="7.6">±</tspan><tspan font-size="3"> </tspan><tspan fill="#4a1ff0">2DG</tspan></text>
<path d="M452.6 421.2 C457 421.6,458.6 424.5,458.7 428" fill="none" stroke="#c800c8" stroke-width="1.4"/>
<path d="M458.7 432 L456.1 427.2 L461.3 427.2Z" fill="#c800c8"/>
<path d="M469.8 421.2 C465.5 421.6,464 424.5,463.9 428" fill="none" stroke="#5a22f0" stroke-width="1.4"/>
<path d="M463.9 432 L461.3 427.2 L466.5 427.2Z" fill="#5a22f0"/>
<g transform="translate(450.6 429.3) scale(0.97)">
<path d="M2 6.7 L8.5 2.3 L16.1 0 L25.4 3.2 L25.4 7.9 L18.4 11.4 L7.3 14 L4.1 13.4 L4.1 9.1Z" fill="#e6e2e2" stroke="#c9c4c4" stroke-width="0.5"/>
<path d="M4.7 9.6 L15.5 4.1 L24.8 7.6 L24.8 8.5 L18.4 11.4 L7.3 14 L4.4 13.1Z" fill="#ea7e82"/>
<path d="M6.5 9.6 L15.6 5 L22.8 7.7 L16.5 10.4 L8 12.4Z" fill="#f2a4a6"/>
<rect x="-0.4" y="8" width="4.3" height="5" rx="1.1" fill="#3a8ed8"/>
</g>
<text x="465.8" y="453" font-size="9" font-weight="bold" fill="#6aa832" text-anchor="middle" textLength="25.5" lengthAdjust="spacingAndGlyphs">THP-1</text>
<path d="M473.6 430.6 C480 421.5,497 421.5,509.5 430.8" fill="none" stroke="#e2603a" stroke-width="1.5"/>
<path d="M513 433.6 L506.8 432 L510.2 427.6Z" fill="#e2603a"/>
<text x="489.4" y="435.6" font-size="9" font-weight="bold" fill="#e2603a" text-anchor="middle">CM</text>
<ellipse cx="519.9" cy="435.2" rx="13.8" ry="6.3" fill="#f8dcd8" stroke="#b4aaaa" stroke-width="0.9"/>
<ellipse cx="519.9" cy="434.4" rx="12.4" ry="4.8" fill="#f5c0be" stroke="#e6aeac" stroke-width="0.5"/>
<text x="520.5" y="451.9" font-size="8.6" font-weight="bold" fill="#9a6ad0" text-anchor="middle">A549</text>
<line x1="536.6" y1="433.3" x2="543.1" y2="433.3" stroke="#c800c8" stroke-width="1.3"/>
<path d="M546.8 433.3 L542.6 430.9 L542.6 435.7 Z" fill="#c800c8"/>
<text x="551.6" y="430.8" font-size="10.4" font-weight="bold" fill="#6a0a86" textLength="85.1" lengthAdjust="spacingAndGlyphs">Colony formation</text>
<text x="551.6" y="443.3" font-size="10.4" font-weight="bold" fill="#6a0a86" textLength="85.1" lengthAdjust="spacingAndGlyphs">Sphere formation</text>
<rect x="421.7" y="499.15" width="13.4" height="35.85" fill="#f0c8f6" stroke="#111" stroke-width="1"/>
<line x1="428.4" y1="493.62" x2="428.4" y2="499.15" stroke="#111" stroke-width="0.9"/>
<line x1="425.4" y1="493.62" x2="431.4" y2="493.62" stroke="#111" stroke-width="0.9"/>
<circle cx="428.4" cy="505.98" r="1.15" fill="#8a1fb0"/>
<circle cx="428.9" cy="503.7" r="1.15" fill="#8a1fb0"/>
<circle cx="426.9" cy="499.48" r="1.15" fill="#8a1fb0"/>
<circle cx="427.9" cy="491.35" r="1.15" fill="#8a1fb0"/>
<rect x="435.1" y="483.88" width="13.5" height="51.12" fill="#ad4fd3" stroke="#111" stroke-width="1"/>
<line x1="441.85" y1="478.35" x2="441.85" y2="483.88" stroke="#111" stroke-width="0.9"/>
<line x1="438.85" y1="478.35" x2="444.85" y2="478.35" stroke="#111" stroke-width="0.9"/>
<circle cx="441.85" cy="488.1" r="1.15" fill="#8a1fb0"/>
<circle cx="442.35" cy="486.48" r="1.15" fill="#8a1fb0"/>
<circle cx="440.35" cy="484.2" r="1.15" fill="#8a1fb0"/>
<circle cx="441.35" cy="476.73" r="1.15" fill="#8a1fb0"/>
<rect x="448.6" y="496.88" width="13.1" height="38.12" fill="#c5c8f8" stroke="#111" stroke-width="1"/>
<line x1="455.15" y1="490.7" x2="455.15" y2="496.88" stroke="#111" stroke-width="0.9"/>
<line x1="452.15" y1="490.7" x2="458.15" y2="490.7" stroke="#111" stroke-width="0.9"/>
<circle cx="455.15" cy="507.6" r="1.15" fill="#7a8af0"/>
<circle cx="455.65" cy="499.48" r="1.15" fill="#7a8af0"/>
<circle cx="453.65" cy="496.23" r="1.15" fill="#7a8af0"/>
<circle cx="454.65" cy="491.35" r="1.15" fill="#7a8af0"/>
<rect x="415.2" y="514.3" width="33.2" height="3.6" fill="#fff"/>
<line x1="414.4" y1="474.1" x2="414.4" y2="513.8" stroke="#111" stroke-width="1.1"/>
<line x1="414.4" y1="518.1" x2="414.4" y2="535.5" stroke="#111" stroke-width="1.1"/>
<line x1="409.7" y1="513.8" x2="419.1" y2="513.8" stroke="#111" stroke-width="1.1"/>
<line x1="409.7" y1="518.1" x2="419.1" y2="518.1" stroke="#111" stroke-width="1.1"/>
<line x1="411.1" y1="474.7" x2="414.4" y2="474.7" stroke="#111" stroke-width="1.1"/>
<text x="409.6" y="477.47" font-size="7.7" font-weight="normal" fill="#111" text-anchor="end" textLength="11.95" lengthAdjust="spacingAndGlyphs">200</text>
<line x1="411.1" y1="491.2" x2="414.4" y2="491.2" stroke="#111" stroke-width="1.1"/>
<text x="409.6" y="493.97" font-size="7.7" font-weight="normal" fill="#111" text-anchor="end" textLength="11.95" lengthAdjust="spacingAndGlyphs">150</text>
<line x1="411.1" y1="507.2" x2="414.4" y2="507.2" stroke="#111" stroke-width="1.1"/>
<text x="409.6" y="509.97" font-size="7.7" font-weight="normal" fill="#111" text-anchor="end" textLength="11.95" lengthAdjust="spacingAndGlyphs">100</text>
<line x1="411.1" y1="521" x2="414.4" y2="521" stroke="#111" stroke-width="1.1"/>
<text x="409.6" y="523.77" font-size="7.7" font-weight="normal" fill="#111" text-anchor="end" textLength="7.96" lengthAdjust="spacingAndGlyphs">50</text>
<line x1="411.1" y1="528" x2="414.4" y2="528" stroke="#111" stroke-width="1.1"/>
<text x="409.6" y="530.77" font-size="7.7" font-weight="normal" fill="#111" text-anchor="end" textLength="7.96" lengthAdjust="spacingAndGlyphs">25</text>
<line x1="411.1" y1="535" x2="414.4" y2="535" stroke="#111" stroke-width="1.1"/>
<text x="409.6" y="537.77" font-size="7.7" font-weight="normal" fill="#111" text-anchor="end" textLength="3.98" lengthAdjust="spacingAndGlyphs">0</text>
<line x1="413.9" y1="535" x2="470.8" y2="535" stroke="#111" stroke-width="1.1"/>
<text x="405.8" y="468.4" font-size="7.5" font-weight="normal" fill="#1c1c1c" textLength="32.8" lengthAdjust="spacingAndGlyphs"><tspan font-style="italic">p</tspan><tspan> = 0.0021</tspan></text>
<line x1="428.8" y1="470.8" x2="440.1" y2="470.8" stroke="#555" stroke-width="1"/>
<text x="443.8" y="468.4" font-size="7.5" font-weight="normal" fill="#1c1c1c" textLength="30.7" lengthAdjust="spacingAndGlyphs"><tspan font-style="italic">p</tspan><tspan> = 0.006</tspan></text>
<line x1="444.7" y1="470.8" x2="456.1" y2="470.8" stroke="#555" stroke-width="1"/>
<text x="0" y="0" font-size="9.2" font-weight="bold" fill="#000" text-anchor="middle" textLength="63" lengthAdjust="spacingAndGlyphs" transform="translate(395.3 505.7) rotate(-90)">No. of colonies</text>
<rect x="512.2" y="518.5" width="12.9" height="16" fill="#f0c8f6" stroke="#111" stroke-width="1"/>
<line x1="518.65" y1="510.9" x2="518.65" y2="518.5" stroke="#111" stroke-width="0.9"/>
<line x1="515.65" y1="510.9" x2="521.65" y2="510.9" stroke="#111" stroke-width="0.9"/>
<circle cx="519.15" cy="525.7" r="1.15" fill="#8a1fb0"/>
<circle cx="518.15" cy="520.5" r="1.15" fill="#8a1fb0"/>
<circle cx="517.15" cy="517.7" r="1.15" fill="#8a1fb0"/>
<circle cx="519.65" cy="511.3" r="1.15" fill="#8a1fb0"/>
<rect x="525.1" y="494.1" width="13.3" height="40.4" fill="#ad4fd3" stroke="#111" stroke-width="1"/>
<line x1="531.75" y1="481.3" x2="531.75" y2="494.1" stroke="#111" stroke-width="0.9"/>
<line x1="528.75" y1="481.3" x2="534.75" y2="481.3" stroke="#111" stroke-width="0.9"/>
<circle cx="532.25" cy="506.5" r="1.15" fill="#8a1fb0"/>
<circle cx="531.25" cy="502.5" r="1.15" fill="#8a1fb0"/>
<circle cx="530.25" cy="496.5" r="1.15" fill="#8a1fb0"/>
<circle cx="532.75" cy="475.3" r="1.15" fill="#8a1fb0"/>
<rect x="538.4" y="512.1" width="13.5" height="22.4" fill="#c5c8f8" stroke="#111" stroke-width="1"/>
<line x1="545.15" y1="504.9" x2="545.15" y2="512.1" stroke="#111" stroke-width="0.9"/>
<line x1="542.15" y1="504.9" x2="548.15" y2="504.9" stroke="#111" stroke-width="0.9"/>
<circle cx="545.65" cy="519.3" r="1.15" fill="#7a8af0"/>
<circle cx="544.65" cy="515.3" r="1.15" fill="#7a8af0"/>
<circle cx="543.65" cy="511.3" r="1.15" fill="#7a8af0"/>
<circle cx="546.15" cy="503.3" r="1.15" fill="#7a8af0"/>
<line x1="505.1" y1="473.9" x2="505.1" y2="535" stroke="#111" stroke-width="1.15"/>
<line x1="501.8" y1="474.4" x2="505.1" y2="474.4" stroke="#111" stroke-width="1.09"/>
<text x="500.3" y="477.17" font-size="7.7" font-weight="normal" fill="#111" text-anchor="end" textLength="7.96" lengthAdjust="spacingAndGlyphs">15</text>
<line x1="501.8" y1="494.43" x2="505.1" y2="494.43" stroke="#111" stroke-width="1.09"/>
<text x="500.3" y="497.2" font-size="7.7" font-weight="normal" fill="#111" text-anchor="end" textLength="7.96" lengthAdjust="spacingAndGlyphs">10</text>
<line x1="501.8" y1="514.46" x2="505.1" y2="514.46" stroke="#111" stroke-width="1.09"/>
<text x="500.3" y="517.23" font-size="7.7" font-weight="normal" fill="#111" text-anchor="end" textLength="3.98" lengthAdjust="spacingAndGlyphs">5</text>
<line x1="501.8" y1="534.49" x2="505.1" y2="534.49" stroke="#111" stroke-width="1.09"/>
<text x="500.3" y="537.26" font-size="7.7" font-weight="normal" fill="#111" text-anchor="end" textLength="3.98" lengthAdjust="spacingAndGlyphs">0</text>
<line x1="504.6" y1="534.5" x2="561.6" y2="534.5" stroke="#111" stroke-width="1.1"/>
<text x="496.5" y="466.5" font-size="7.5" font-weight="normal" fill="#1c1c1c" textLength="32.9" lengthAdjust="spacingAndGlyphs"><tspan font-style="italic">p</tspan><tspan> = 0.0025</tspan></text>
<line x1="519.4" y1="469.8" x2="530.5" y2="469.8" stroke="#555" stroke-width="1"/>
<text x="536.6" y="466.5" font-size="7.5" font-weight="normal" fill="#1c1c1c" textLength="28.6" lengthAdjust="spacingAndGlyphs"><tspan font-style="italic">p</tspan><tspan> = 0.146</tspan></text>
<line x1="536.6" y1="469.8" x2="546.6" y2="469.8" stroke="#555" stroke-width="1"/>
<text x="0" y="0" font-size="9.2" font-weight="bold" fill="#000" text-anchor="middle" textLength="62" lengthAdjust="spacingAndGlyphs" transform="translate(487.6 504) rotate(-90)">No. of spheres</text>
<rect x="562.7" y="485.9" width="83" height="36.8" fill="#fff" stroke="#333" stroke-width="0.9"/>
<rect x="567.7" y="491.5" width="5.4" height="5.4" fill="#f0c8f6" stroke="#222" stroke-width="0.9"/>
<text x="575.2" y="496.8" font-size="8.2" font-weight="bold" fill="#000" textLength="44" lengthAdjust="spacingAndGlyphs"><tspan font-size="5.4" dy="-2.8">CM</tspan><tspan dy="2.8">THP-Veh</tspan></text>
<rect x="567.7" y="501.5" width="5.4" height="5.4" fill="#ad4fd3" stroke="#222" stroke-width="0.9"/>
<text x="575.2" y="506.8" font-size="8.2" font-weight="bold" fill="#000" textLength="40" lengthAdjust="spacingAndGlyphs"><tspan font-size="5.4" dy="-2.8">CM</tspan><tspan dy="2.8">THP-NB</tspan></text>
<rect x="567.7" y="512" width="5.4" height="5.4" fill="#c5c8f8" stroke="#222" stroke-width="0.9"/>
<text x="575.2" y="517.3" font-size="8.2" font-weight="bold" fill="#000" textLength="65" lengthAdjust="spacingAndGlyphs"><tspan font-size="5.4" dy="-2.8">CM</tspan><tspan dy="2.8">THP-NB/</tspan><tspan fill="#4a1ff0">2DG</tspan></text>
<!-- ph -->
<text x="14" y="572.8" font-size="15.5" font-weight="bold" fill="#000">h</text>
<g transform="translate(251.7 574.9) scale(0.97)">
<line x1="0" y1="0.8" x2="-8.5" y2="-2.5" stroke="#111" stroke-width="0.65"/>
<line x1="0" y1="0.8" x2="-8" y2="0.7" stroke="#111" stroke-width="0.65"/>
<line x1="0" y1="0.8" x2="-7.5" y2="3.1" stroke="#111" stroke-width="0.65"/>
<line x1="0" y1="0.8" x2="8.5" y2="-2.5" stroke="#111" stroke-width="0.65"/>
<line x1="0" y1="0.8" x2="8" y2="0.7" stroke="#111" stroke-width="0.65"/>
<line x1="0" y1="0.8" x2="7.5" y2="3.1" stroke="#111" stroke-width="0.65"/>
<line x1="0" y1="0.8" x2="-6" y2="-2" stroke="#111" stroke-width="0.65"/>
<line x1="0" y1="0.8" x2="6" y2="-2" stroke="#111" stroke-width="0.65"/>
<path d="M-0.3 26 C0.5 30,3 31,4.2 33 S5 36,5.6 37" fill="none" stroke="#222" stroke-width="0.6"/>
<path d="M0 -0.5 C1.5 0.5,3.5 3,5.5 6 C8 9.5,9.8 13,9.7 17 C9.5 22.5,5 27,0 27 C-5 27,-9.5 22.5,-9.7 17 C-9.8 13,-8 9.5,-5.5 6 C-3.5 3,-1.5 0.5,0 -0.5Z" fill="#222"/>
<line x1="-1.2" y1="2.6" x2="-1.2" y2="5" stroke="#ddd" stroke-width="0.7"/>
<line x1="1.2" y1="2.6" x2="1.2" y2="5" stroke="#ddd" stroke-width="0.7"/>
<line x1="0" y1="7.5" x2="0" y2="17.5" stroke="#b06a70" stroke-width="1"/>
<path d="M-0.9 10.3 C-3.8 9.8,-6.6 13.5,-6.6 18.8 C-6.6 22.3,-4.6 23,-2.5 21.8 C-0.9 21,-0.7 18.5,-0.7 15Z" fill="#ee8a94"/>
<path d="M0.9 10.3 C3.8 9.8,6.6 13.5,6.6 18.8 C6.6 22.3,4.6 23,2.5 21.8 C0.9 21,0.7 18.5,0.7 15Z" fill="#ee8a94"/>
<circle cx="4" cy="16.6" r="2.3" fill="#b8503a"/>
</g>
<path d="M250.3 586.3 C244 583.5,234.5 585,231.6 593" fill="none" stroke="#f01010" stroke-width="1.2" stroke-dasharray="1.6 1.3"/>
<path d="M230.3 597.6 L228.6 591.8 L234 593.3 Z" fill="#f01010"/>
<text x="195.9" y="607.6" font-size="9" font-weight="bold" fill="#f01010" textLength="51.4" lengthAdjust="spacingAndGlyphs"><tspan>LLC-Luc</tspan><tspan font-size="6" dy="-3">ortho</tspan></text>
<line x1="271.6" y1="584.9" x2="271.6" y2="594.7" stroke="#444" stroke-width="1.3"/>
<line x1="337.1" y1="584.2" x2="337.1" y2="595.2" stroke="#444" stroke-width="1.3"/>
<line x1="271.6" y1="591.7" x2="344" y2="591.7" stroke="#444" stroke-width="1.4"/>
<path d="M348.3 591.7 L342.5 588.7 L342.5 594.7 Z" fill="#444"/>
<text x="271.1" y="605.9" font-size="8.6" font-weight="bold" fill="#000" text-anchor="middle">0</text>
<text x="334" y="605.9" font-size="8.6" font-weight="bold" fill="#000" textLength="20.7" lengthAdjust="spacingAndGlyphs">2 (M)</text>
<text x="278.6" y="586.1" font-size="9" font-weight="bold" fill="#000" textLength="50.9" lengthAdjust="spacingAndGlyphs"><tspan>± </tspan><tspan fill="#4a1ff0">Cld</tspan><tspan fill="#b85adf"> (HCD)</tspan></text>
<text x="282.8" y="601.7" font-size="9" font-weight="bold" fill="#777" textLength="43.2" lengthAdjust="spacingAndGlyphs">Veh or NB</text>
<text x="360.2" y="583.7" font-size="9" font-weight="bold" fill="#1a1aff" textLength="65.4" lengthAdjust="spacingAndGlyphs">Tissue analysis</text>
<line x1="360.2" y1="585" x2="425.6" y2="585" stroke="#1a1aff" stroke-width="0.8"/>
<text x="360.2" y="594.2" font-size="9" font-weight="bold" fill="#000" textLength="115.6" lengthAdjust="spacingAndGlyphs">- Bioluminescence imaging</text>
<text x="360.2" y="605.7" font-size="9" font-weight="bold" fill="#000" textLength="60.7" lengthAdjust="spacingAndGlyphs">- H&amp;E staining</text>
<!-- pi -->
<defs>
<filter id="b0" x="-15%" y="-15%" width="130%" height="130%"><feGaussianBlur stdDeviation="4.5"/></filter>
<filter id="b1" x="-15%" y="-15%" width="130%" height="130%"><feGaussianBlur stdDeviation="10"/></filter>
<filter id="b2" x="-15%" y="-15%" width="130%" height="130%"><feGaussianBlur stdDeviation="15"/></filter>
<filter id="b3" x="-10%" y="-10%" width="120%" height="120%"><feGaussianBlur stdDeviation="12"/></filter>
<radialGradient id="jet"><stop offset="0" stop-color="#f01212"/><stop offset="0.17" stop-color="#f01212"/><stop offset="0.27" stop-color="#ff8a10"/><stop offset="0.36" stop-color="#e8f020"/><stop offset="0.55" stop-color="#1fe05a"/><stop offset="0.74" stop-color="#19b8ff"/><stop offset="0.88" stop-color="#2a2cff"/><stop offset="0.95" stop-color="#4a26f4"/><stop offset="1" stop-color="#6a22ee"/></radialGradient>
<radialGradient id="jetg"><stop offset="0" stop-color="#35d818"/><stop offset="0.3" stop-color="#22e070"/><stop offset="0.55" stop-color="#19b8ff"/><stop offset="0.8" stop-color="#2a2cff"/><stop offset="1" stop-color="#6a26ee"/></radialGradient>
<radialGradient id="blu"><stop offset="0" stop-color="#2a6cff"/><stop offset="0.6" stop-color="#2436ff"/><stop offset="1" stop-color="#5a2aee"/></radialGradient>
<linearGradient id="ptc1" x1="0" x2="1" y1="0" y2="0"><stop offset="0" stop-color="#dadada"/><stop offset="0.2" stop-color="#b0b0b0"/><stop offset="0.36" stop-color="#606060"/><stop offset="0.43" stop-color="#686868"/><stop offset="0.465" stop-color="#fff"/><stop offset="0.53" stop-color="#fff"/><stop offset="0.565" stop-color="#5c5c5c"/><stop offset="0.64" stop-color="#646464"/><stop offset="0.8" stop-color="#a4a4a4"/><stop offset="1" stop-color="#c0c0c0"/></linearGradient>
<linearGradient id="ptc3" x1="0" x2="1" y1="0" y2="0"><stop offset="0" stop-color="#c8c8c8"/><stop offset="0.3" stop-color="#a0a0a0"/><stop offset="0.44" stop-color="#a8a8a8"/><stop offset="0.49" stop-color="#fff"/><stop offset="0.6" stop-color="#fff"/><stop offset="0.645" stop-color="#787878"/><stop offset="0.8" stop-color="#9a9a9a"/><stop offset="1" stop-color="#bcbcbc"/></linearGradient>
<linearGradient id="cbar" x1="0" x2="0" y1="0" y2="1"><stop offset="0" stop-color="#f40000"/><stop offset="0.1" stop-color="#fa1800"/><stop offset="0.2" stop-color="#ff8800"/><stop offset="0.3" stop-color="#f4f000"/><stop offset="0.45" stop-color="#30e000"/><stop offset="0.55" stop-color="#00e040"/><stop offset="0.75" stop-color="#00e0f8"/><stop offset="0.9" stop-color="#0840ff"/><stop offset="1" stop-color="#1010f8"/></linearGradient>
<radialGradient id="brain"><stop offset="0" stop-color="#f2f2f2"/><stop offset="0.55" stop-color="#e6e6e6"/><stop offset="0.85" stop-color="#d4d4d4"/><stop offset="1" stop-color="#c4c4c4"/></radialGradient>
</defs>
<text x="16.2" y="621.5" font-size="15.5" font-weight="bold" fill="#000">i</text>
<rect x="44.8" y="617.6" width="58.9" height="11.7" fill="#fff" stroke="#222" stroke-width="0.9"/>
<text x="74.25" y="626.6" font-size="8.8" font-weight="bold" fill="#000" text-anchor="middle">Lung</text>
<rect x="106.4" y="617.6" width="63.2" height="11.7" fill="#fff" stroke="#222" stroke-width="0.9"/>
<text x="138" y="626.6" font-size="8.8" font-weight="bold" fill="#000" text-anchor="middle">PTC</text>
<rect x="172.4" y="617.6" width="70.9" height="11.7" fill="#fff" stroke="#222" stroke-width="0.9"/>
<text x="207.85" y="626.6" font-size="8.8" font-weight="bold" fill="#000" text-anchor="middle">ATC</text>
<rect x="246.9" y="617.6" width="76.3" height="11.7" fill="#fff" stroke="#222" stroke-width="0.9"/>
<text x="285.05" y="626.6" font-size="8.8" font-weight="bold" fill="#000" text-anchor="middle">Liver</text>
<rect x="326.8" y="617.6" width="41.6" height="11.7" fill="#fff" stroke="#222" stroke-width="0.9"/>
<text x="347.6" y="626.6" font-size="8.8" font-weight="bold" fill="#000" text-anchor="middle">Spleen</text>
<rect x="372" y="618.9" width="42.8" height="11.2" fill="#fff" stroke="#222" stroke-width="0.9"/>
<text x="393.4" y="627.4" font-size="8.8" font-weight="bold" fill="#000" text-anchor="middle">Brain</text>
<rect x="31.1" y="632.5" width="11.1" height="58.8" fill="#fff" stroke="#222" stroke-width="0.9"/>
<text x="0" y="0" font-size="8.8" font-weight="bold" fill="#000" text-anchor="middle" textLength="37.6" lengthAdjust="spacingAndGlyphs" transform="translate(39.9 662.4) rotate(-90)"><tspan>Veh/</tspan><tspan fill="#b85adf">HCD</tspan></text>
<rect x="31.1" y="694.4" width="11.1" height="59" fill="#fff" stroke="#222" stroke-width="0.9"/>
<text x="0" y="0" font-size="8.8" font-weight="bold" fill="#000" text-anchor="middle" textLength="34.4" lengthAdjust="spacingAndGlyphs" transform="translate(39.9 724) rotate(-90)"><tspan>NB/</tspan><tspan fill="#b85adf">HCD</tspan></text>
<rect x="31.1" y="756.4" width="11.1" height="59.3" fill="#fff" stroke="#222" stroke-width="0.9"/>
<text x="0" y="0" font-size="8.8" font-weight="bold" fill="#000" text-anchor="middle" textLength="51" lengthAdjust="spacingAndGlyphs" transform="translate(39.9 786.5) rotate(-90)"><tspan>NB/</tspan><tspan fill="#b85adf">HCD</tspan><tspan>/</tspan><tspan fill="#4a1ff0">Cld</tspan></text>
<svg x="44.3" y="632.1" width="59.7" height="59.6" viewBox="25 22 638 638" preserveAspectRatio="none" overflow="hidden">
<rect x="25" y="22" width="638" height="638" fill="#050505"/>
<g filter="url(#b1)">
<path d="M240 130 C251.67 110,298.33 86.67,330 80 C361.67 73.33,398.33 80,430 90 C461.67 100,500 113.33,520 140 C540 166.67,565 228.33,550 250 C535 271.67,470 267.5,430 270 C390 272.5,338.33 276.67,310 265 C281.67 253.33,271.67 222.5,260 200 C248.33 177.5,228.33 150,240 130Z" fill="#3e3e3e"/>
<path d="M255 150 C260 130.83,305.83 101.67,330 95 C354.17 88.33,391.67 97.5,400 110 C408.33 122.5,396.67 153.33,380 170 C363.33 186.67,320.83 213.33,300 210 C279.17 206.67,250 169.17,255 150Z" fill="#686868"/>
<path d="M90 340 C101 317,118.33 300.67,150 292 C181.67 283.33,235 286.67,280 288 C325 289.33,373.33 298,420 300 C466.67 302,524.67 283.33,560 300 C595.33 316.67,621.67 366.67,632 400 C642.33 433.33,628.67 468.67,622 500 C615.33 531.33,609 567,592 588 C575 609,547.83 619.67,520 626 C492.17 632.33,446.33 631.67,425 626 C403.67 620.33,424.5 601,392 592 C359.5 583,273.67 583.67,230 572 C186.33 560.33,154.33 545.67,130 522 C105.67 498.33,90.67 460.33,84 430 C77.33 399.67,79 363,90 340Z" fill="#fff"/>
</g>
<clipPath id="cl1"><path d="M290 262 C313.67 250.67,361.67 234.33,400 232 C438.33 229.67,498 231.67,520 248 C542 264.33,540 298,532 330 C524 362,487 405,472 440 C457 475,457.33 515.67,442 540 C426.67 564.33,411.67 580,380 586 C348.33 592,282 590.33,252 576 C222 561.67,207.33 529.33,200 500 C192.67 470.67,198.33 433.33,208 400 C217.67 366.67,244.33 323,258 300 C271.67 277,266.33 273.33,290 262Z"/></clipPath>
<g filter="url(#b0)">
<path d="M390 92 C395.5 77,406.67 73,425 76 C443.33 79,488.17 96,500 110 C511.83 124,514 150.67,496 160 C478 169.33,409.67 177.33,392 166 C374.33 154.67,384.5 107,390 92Z" fill="#4a2cf0"/>
<path d="M520 262 C528 250.33,554.67 245.33,570 250 C585.33 254.67,610.33 276.67,612 290 C613.67 303.33,595 325,580 330 C565 335,532 331.33,522 320 C512 308.67,512 273.67,520 262Z" fill="#4a2cf0"/>
<circle cx="136" cy="190" r="124" fill="url(#jet)"/>
<g clip-path="url(#cl1)"><g filter="url(#b1)">
<rect x="100" y="150" width="540" height="540" fill="#4a2af2"/>
<ellipse cx="350" cy="425" rx="128" ry="160" fill="#2f38fc" transform="rotate(14 350 425)"/>
<ellipse cx="345" cy="450" rx="98" ry="125" fill="#199cf8" transform="rotate(12 345 450)"/>
<ellipse cx="348" cy="462" rx="70" ry="90" fill="#1fd88a" transform="rotate(10 348 462)"/>
<ellipse cx="350" cy="470" rx="42" ry="52" fill="#2fd820"/>
</g></g></g>
</svg>
<svg x="106.2" y="632.1" width="63.3" height="59.6" viewBox="22 20 638 600" preserveAspectRatio="none" overflow="hidden">
<rect x="22" y="20" width="638" height="600" fill="#050505"/>
<clipPath id="cp1"><path d="M160 105 L285 80 L300 130 L340 140 L400 95 L450 100 L480 150 L470 190 L530 290 L570 370 L630 460 L560 490 L430 540 L330 575 L230 560 L90 500 L30 420 L90 320 L150 170Z"/></clipPath>
<g filter="url(#b1)"><g clip-path="url(#cp1)">
<path d="M160 105 L285 80 L300 130 L340 140 L400 95 L450 100 L480 150 L470 190 L530 290 L570 370 L630 460 L560 490 L430 540 L330 575 L230 560 L90 500 L30 420 L90 320 L150 170Z" fill="url(#ptc1)"/>
<rect x="20" y="80" width="620" height="120" fill="#000" opacity="0.2"/>
<path d="M295 70 L365 70 L350 230 L315 230Z" fill="#3a3a3a" opacity="0.85"/>
</g></g>
<g clip-path="url(#cp1)" filter="url(#b0)">
<path d="M40 200 Q330.0 214 620 200" stroke="#000" stroke-width="10" fill="none" opacity="0.12"/>
<path d="M40 228 Q330.0 242 620 228" stroke="#000" stroke-width="10" fill="none" opacity="0.12"/>
<path d="M40 256 Q330.0 270 620 256" stroke="#000" stroke-width="10" fill="none" opacity="0.12"/>
<path d="M40 284 Q330.0 298 620 284" stroke="#000" stroke-width="10" fill="none" opacity="0.12"/>
<path d="M40 312 Q330.0 326 620 312" stroke="#000" stroke-width="10" fill="none" opacity="0.12"/>
<path d="M40 340 Q330.0 354 620 340" stroke="#000" stroke-width="10" fill="none" opacity="0.12"/>
<path d="M40 368 Q330.0 382 620 368" stroke="#000" stroke-width="10" fill="none" opacity="0.12"/>
<path d="M40 396 Q330.0 410 620 396" stroke="#000" stroke-width="10" fill="none" opacity="0.12"/>
<path d="M40 424 Q330.0 438 620 424" stroke="#000" stroke-width="10" fill="none" opacity="0.12"/>
<path d="M40 452 Q330.0 466 620 452" stroke="#000" stroke-width="10" fill="none" opacity="0.12"/>
<path d="M40 480 Q330.0 494 620 480" stroke="#000" stroke-width="10" fill="none" opacity="0.12"/>
<path d="M40 508 Q330.0 522 620 508" stroke="#000" stroke-width="10" fill="none" opacity="0.12"/>
<path d="M40 536 Q330.0 550 620 536" stroke="#000" stroke-width="10" fill="none" opacity="0.12"/>
</g>
<g clip-path="url(#cp1)" filter="url(#b1)">
<circle cx="188.5" cy="348.58" r="4.11" fill="#fff" opacity="0.85"/>
<circle cx="386.12" cy="382.8" r="3.2" fill="#fff" opacity="0.85"/>
<circle cx="67.11" cy="471.74" r="3.78" fill="#fff" opacity="0.85"/>
<circle cx="186.54" cy="538.17" r="4.41" fill="#fff" opacity="0.85"/>
<circle cx="511.69" cy="320.07" r="4.92" fill="#fff" opacity="0.85"/>
<circle cx="141.33" cy="386.64" r="5.6" fill="#fff" opacity="0.85"/>
<circle cx="342.52" cy="431.33" r="5.01" fill="#fff" opacity="0.85"/>
<circle cx="94.58" cy="438.46" r="4.77" fill="#fff" opacity="0.85"/>
<circle cx="222.68" cy="133.02" r="5.6" fill="#fff" opacity="0.85"/>
<circle cx="315.28" cy="421.91" r="5.64" fill="#fff" opacity="0.85"/>
<circle cx="445.63" cy="506.86" r="4.18" fill="#fff" opacity="0.85"/>
<circle cx="492.49" cy="306.74" r="5.81" fill="#fff" opacity="0.85"/>
<circle cx="534.59" cy="160.93" r="3.41" fill="#fff" opacity="0.85"/>
<circle cx="177.17" cy="525.5" r="4.31" fill="#fff" opacity="0.85"/>
<circle cx="398.39" cy="246.43" r="4.52" fill="#fff" opacity="0.85"/>
<circle cx="268.37" cy="267.38" r="4.76" fill="#fff" opacity="0.85"/>
<circle cx="375.5" cy="499.76" r="5.05" fill="#fff" opacity="0.85"/>
<circle cx="561.63" cy="479.69" r="5.97" fill="#fff" opacity="0.85"/>
<circle cx="422.49" cy="188.5" r="5.58" fill="#fff" opacity="0.85"/>
<circle cx="580.9" cy="499.97" r="4.71" fill="#fff" opacity="0.85"/>
<circle cx="445.46" cy="208.67" r="5.49" fill="#fff" opacity="0.85"/>
<circle cx="369.71" cy="239.68" r="3.19" fill="#fff" opacity="0.85"/>
<circle cx="521.13" cy="535.72" r="3.27" fill="#fff" opacity="0.85"/>
<circle cx="492.32" cy="292.39" r="3.45" fill="#fff" opacity="0.85"/>
<circle cx="218.7" cy="442.89" r="5.62" fill="#fff" opacity="0.85"/>
<circle cx="83.86" cy="378.1" r="3.13" fill="#fff" opacity="0.85"/>
<circle cx="447.96" cy="259" r="5.64" fill="#fff" opacity="0.85"/>
<circle cx="589.54" cy="332.28" r="6" fill="#fff" opacity="0.85"/>
<circle cx="215" cy="200" r="9" fill="#fff" opacity="0.85"/>
<circle cx="175" cy="120" r="8" fill="#fff" opacity="0.85"/>
<circle cx="440" cy="320" r="8" fill="#fff" opacity="0.85"/>
<circle cx="300" cy="130" r="7" fill="#fff" opacity="0.85"/>
</g>
</svg>
<svg x="172" y="632.1" width="71.8" height="59.6" viewBox="18 20 647 535" preserveAspectRatio="none" overflow="hidden">
<rect x="18" y="20" width="647" height="535" fill="#050505"/>
<clipPath id="cp2"><path d="M30 200 L100 180 L200 175 L270 160 L285 105 L330 90 L390 110 L400 160 L470 150 L520 130 L620 140 L645 190 L600 260 L560 330 L520 390 L450 440 L400 480 L370 515 L330 505 L280 470 L210 440 L150 410 L110 340 L60 290Z"/></clipPath>
<g filter="url(#b1)"><g clip-path="url(#cp2)">
<path d="M30 200 L100 180 L200 175 L270 160 L285 105 L330 90 L390 110 L400 160 L470 150 L520 130 L620 140 L645 190 L600 260 L560 330 L520 390 L450 440 L400 480 L370 515 L330 505 L280 470 L210 440 L150 410 L110 340 L60 290Z" fill="#636363"/>
<path d="M210 520 Q259.0 285.0 340 272.0 Q421.0 285.0 470 520" fill="none" stroke="#a2a2a2" stroke-width="15" opacity="0.85"/>
<path d="M150 520 Q205.0 255.0 340 260.0 Q475.0 255.0 530 520" fill="none" stroke="#a2a2a2" stroke-width="15" opacity="0.85"/>
<path d="M90 520 Q151.0 225.0 340 248.0 Q529.0 225.0 590 520" fill="none" stroke="#a2a2a2" stroke-width="15" opacity="0.85"/>
<path d="M30 520 Q97.0 195.0 340 236.0 Q583.0 195.0 650 520" fill="none" stroke="#a2a2a2" stroke-width="15" opacity="0.85"/>
<path d="M340 170 L345 480" stroke="#2c2c2c" stroke-width="16" opacity="0.6"/>
</g></g><g filter="url(#b1)">
<circle cx="420" cy="275" r="11" fill="#fff" opacity="0.9"/>
<circle cx="255" cy="225" r="6" fill="#fff" opacity="0.9"/>
<circle cx="300" cy="435" r="6" fill="#fff" opacity="0.9"/>
<circle cx="375" cy="485" r="7" fill="#fff" opacity="0.9"/>
<circle cx="415" cy="425" r="6" fill="#fff" opacity="0.9"/>
<circle cx="575" cy="240" r="5" fill="#fff" opacity="0.9"/>
<circle cx="580" cy="280" r="5" fill="#fff" opacity="0.9"/>
<circle cx="85" cy="210" r="5" fill="#fff" opacity="0.9"/>
<circle cx="500" cy="200" r="5" fill="#fff" opacity="0.9"/>
<circle cx="230" cy="200" r="4" fill="#fff" opacity="0.9"/>
</g><g filter="url(#b0)">
<circle cx="130" cy="275" r="60" fill="url(#blu)"/><ellipse cx="356" cy="134" rx="40" ry="38" fill="url(#blu)"/><circle cx="325" cy="463" r="13" fill="#3a2af0"/>
</g>
</svg>
<svg x="246.2" y="632.1" width="77.8" height="59.6" viewBox="18 18 650 497" preserveAspectRatio="none" overflow="hidden">
<rect x="18" y="18" width="650" height="497" fill="#050505"/>
<g filter="url(#b1)">
<path d="M30 65 C40.83 52.5,81.67 71.67,110 75 C138.33 78.33,168.33 87.5,200 85 C231.67 82.5,270 68.33,300 60 C330 51.67,351.67 38.33,380 35 C408.33 31.67,440 34.17,470 40 C500 45.83,535 55,560 70 C585 85,605.83 106.67,620 130 C634.17 153.33,645 181.67,645 210 C645 238.33,634.17 273.33,620 300 C605.83 326.67,580 350,560 370 C540 390,520 403.33,500 420 C480 436.67,461.67 458.33,440 470 C418.33 481.67,393.33 490,370 490 C346.67 490,321.67 485,300 470 C278.33 455,265 418.33,240 400 C215 381.67,170 376.67,150 360 C130 343.33,121.67 316.67,120 300 C118.33 283.33,148.33 271.67,140 260 C131.67 248.33,85.83 248.33,70 230 C54.17 211.67,51.67 177.5,45 150 C38.33 122.5,19.17 77.5,30 65Z" fill="#3b3b3b"/>
<circle cx="300" cy="205" r="18" fill="#141414"/>
<circle cx="460" cy="310" r="22" fill="#141414"/>
</g><g filter="url(#b0)">
<circle cx="320" cy="68" r="8" fill="#fff" opacity="1"/>
<circle cx="110" cy="180" r="7" fill="#fff" opacity="1"/>
<circle cx="75" cy="225" r="7" fill="#fff" opacity="1"/>
<circle cx="270" cy="185" r="5" fill="#fff" opacity="1"/>
<circle cx="300" cy="180" r="5" fill="#fff" opacity="1"/>
<circle cx="245" cy="280" r="7" fill="#fff" opacity="1"/>
<circle cx="170" cy="320" r="8" fill="#fff" opacity="1"/>
<circle cx="275" cy="415" r="13" fill="#fff" opacity="1"/>
<circle cx="300" cy="425" r="10" fill="#fff" opacity="1"/>
<circle cx="480" cy="375" r="13" fill="#fff" opacity="1"/>
<circle cx="500" cy="360" r="8" fill="#fff" opacity="1"/>
<circle cx="470" cy="395" r="7" fill="#fff" opacity="1"/>
<circle cx="570" cy="155" r="7" fill="#fff" opacity="1"/>
<circle cx="510" cy="195" r="6" fill="#fff" opacity="1"/>
<circle cx="545" cy="295" r="6" fill="#fff" opacity="1"/>
<circle cx="580" cy="315" r="5" fill="#fff" opacity="1"/>
<circle cx="190" cy="280" r="4" fill="#fff" opacity="1"/>
<circle cx="330" cy="240" r="4" fill="#fff" opacity="1"/>
<circle cx="290" cy="145" r="4" fill="#fff" opacity="1"/>
</g>
<path d="M120 300 C130 288.33,171.67 261.67,200 250 C228.33 238.33,273.33 230,290 230 C306.67 230,315 242.5,300 250 C285 257.5,226.67 263.33,200 275 C173.33 286.67,153.33 315.83,140 320 C126.67 324.17,110 311.67,120 300Z" fill="#2c2c2c" filter="url(#b1)" opacity="0.7"/>
</svg>
<svg x="326.1" y="632.1" width="43" height="59.6" viewBox="15 15 307 425" preserveAspectRatio="none" overflow="hidden">
<rect x="15" y="15" width="307" height="425" fill="#050505"/>
<g filter="url(#b1)">
<path d="M200 65 C213.33 59.17,233.33 50.83,245 55 C256.67 59.17,266.67 69.17,270 90 C273.33 110.83,270 150,265 180 C260 210,250.83 241.67,240 270 C229.17 298.33,215 329.17,200 350 C185 370.83,165 388.33,150 395 C135 401.67,119.17 399.17,110 390 C100.83 380.83,91.67 363.33,95 340 C98.33 316.67,120 280,130 250 C140 220,149.17 186.67,155 160 C160.83 133.33,157.5 105.83,165 90 C172.5 74.17,186.67 70.83,200 65Z" fill="#353535"/>
</g><g filter="url(#b0)">
<circle cx="230" cy="90" r="6.2" fill="#fff" opacity="1"/>
<circle cx="165" cy="110" r="6.2" fill="#fff" opacity="1"/>
<circle cx="185" cy="150" r="7.2" fill="#fff" opacity="1"/>
<circle cx="265" cy="155" r="5.2" fill="#fff" opacity="1"/>
<circle cx="140" cy="250" r="6.2" fill="#fff" opacity="1"/>
<circle cx="170" cy="255" r="5.2" fill="#fff" opacity="1"/>
<circle cx="155" cy="285" r="7.2" fill="#fff" opacity="1"/>
<circle cx="120" cy="335" r="7.2" fill="#fff" opacity="1"/>
<circle cx="130" cy="385" r="5.2" fill="#fff" opacity="1"/>
<circle cx="150" cy="380" r="5.2" fill="#fff" opacity="1"/>
<circle cx="262" cy="120" r="5.2" fill="#fff" opacity="1"/>
<circle cx="258" cy="195" r="5.2" fill="#fff" opacity="1"/>
<circle cx="240" cy="65" r="5.2" fill="#fff" opacity="1"/>
</g>
</svg>
<svg x="371.1" y="632.1" width="44.7" height="59.6" viewBox="336 15 319 425" preserveAspectRatio="none" overflow="hidden">
<rect x="336" y="15" width="319" height="425" fill="#050505"/>
<g filter="url(#b0)">
<path d="M395 290 C409.17 281.67,457.17 300,490 300 C522.83 300,575.33 283.33,592 290 C608.67 296.67,594.33 324.17,590 340 C585.67 355.83,574.33 373.33,566 385 C557.67 396.67,555.17 403.83,540 410 C524.83 416.17,492.17 423.67,475 422 C457.83 420.33,448.67 412,437 400 C425.33 388,412 368.33,405 350 C398 331.67,380.83 298.33,395 290Z" fill="#cfcfcf"/>
<path d="M400 75 C414.67 60.83,435 57.17,450 55 C465 52.83,476.67 62.5,490 62 C503.33 61.5,514.17 49.83,530 52 C545.83 54.17,569.17 58.67,585 75 C600.83 91.33,616.33 124.17,625 150 C633.67 175.83,639.5 206.67,637 230 C634.5 253.33,622.83 275.83,610 290 C597.17 304.17,579.17 312.5,560 315 C540.83 317.5,516.67 305,495 305 C473.33 305,450 317.5,430 315 C410 312.5,388.33 305,375 290 C361.67 275,352.17 250,350 225 C347.83 200,353.67 165,362 140 C370.33 115,385.33 89.17,400 75Z" fill="url(#brain)"/>
<path d="M490 70 L492 270" stroke="#c2c2c2" stroke-width="6" fill="none"/>
</g>
<g filter="url(#b1)">
<circle cx="540" cy="300" r="5" fill="#fff" opacity="0.9"/>
<circle cx="470" cy="318" r="5" fill="#fff" opacity="0.9"/>
<circle cx="410" cy="255" r="5" fill="#fff" opacity="0.9"/>
<circle cx="570" cy="250" r="4" fill="#fff" opacity="0.9"/>
<circle cx="420" cy="95" r="4" fill="#fff" opacity="0.9"/>
<circle cx="545" cy="70" r="4" fill="#fff" opacity="0.9"/>
<circle cx="370" cy="280" r="4" fill="#fff" opacity="0.9"/>
<circle cx="520" cy="285" r="4" fill="#fff" opacity="0.9"/>
<circle cx="580" cy="320" r="4" fill="#fff" opacity="0.9"/>
</g>
<path d="M385 305 Q490 285 600 305" stroke="#fff" stroke-width="10" fill="none" filter="url(#b1)" opacity="0.8"/>
</svg>
<svg x="44.3" y="694.2" width="59.7" height="59.5" viewBox="25 25 638 635" preserveAspectRatio="none" overflow="hidden">
<rect x="25" y="25" width="638" height="635" fill="#050505"/>
<g filter="url(#b1)">
<ellipse cx="380" cy="560" rx="200" ry="70" fill="none" stroke="#3a3a3a" stroke-width="6"/>
<ellipse cx="300" cy="90" rx="120" ry="40" fill="none" stroke="#333" stroke-width="6"/>
<circle cx="510" cy="540" r="8" fill="#999" opacity="0.8"/>
<circle cx="545" cy="535" r="7" fill="#999" opacity="0.8"/>
<circle cx="560" cy="550" r="5" fill="#999" opacity="0.8"/>
<circle cx="240" cy="600" r="5" fill="#999" opacity="0.8"/>
<circle cx="215" cy="70" r="5" fill="#999" opacity="0.8"/>
<circle cx="70" cy="265" r="4" fill="#999" opacity="0.8"/>
</g>
<clipPath id="cl2"><path d="M200 95 C233.33 85.83,283.33 75.83,330 75 C376.67 74.17,441.67 77.5,480 90 C518.33 102.5,544.17 126.67,560 150 C575.83 173.33,575.83 200,575 230 C574.17 260,562.5 296.67,555 330 C547.5 363.33,542.5 400,530 430 C517.5 460,513.33 495,480 510 C446.67 525,365 511.67,330 520 C295 528.33,286.67 560,270 560 C253.33 560,250 538.33,230 520 C210 501.67,175 473.33,150 450 C125 426.67,94.67 408.33,80 380 C65.33 351.67,61.17 313.33,62 280 C62.83 246.67,73.67 205,85 180 C96.33 155,110.83 144.17,130 130 C149.17 115.83,166.67 104.17,200 95Z"/></clipPath>
<g filter="url(#b0)"><g clip-path="url(#cl2)"><g filter="url(#b1)">
<rect x="0" y="0" width="700" height="700" fill="#6a24ee"/>
<path d="M340 110 L400 90 L450 110 L465 160 L440 240 L420 270 L340 280 L330 310 L380 350 L470 360 L500 385 L480 420 L400 430 L370 400 L300 385 L240 350 L205 345 L195 440 L160 430 L165 340 L150 300 L170 250 L260 220 L300 170Z" fill="#2a2cff" stroke="#2a2cff" stroke-width="215" stroke-linejoin="round" transform="translate(-15 25)"/>
<path d="M340 110 L400 90 L450 110 L465 160 L440 240 L420 270 L340 280 L330 310 L380 350 L470 360 L500 385 L480 420 L400 430 L370 400 L300 385 L240 350 L205 345 L195 440 L160 430 L165 340 L150 300 L170 250 L260 220 L300 170Z" fill="#19b8ff" stroke="#19b8ff" stroke-width="165" stroke-linejoin="round" transform="translate(-8 22)"/>
<path d="M340 110 L400 90 L450 110 L465 160 L440 240 L420 270 L340 280 L330 310 L380 350 L470 360 L500 385 L480 420 L400 430 L370 400 L300 385 L240 350 L205 345 L195 440 L160 430 L165 340 L150 300 L170 250 L260 220 L300 170Z" fill="#1fe05a" stroke="#1fe05a" stroke-width="118" stroke-linejoin="round" transform="translate(0 14)"/>
<path d="M340 110 L400 90 L450 110 L465 160 L440 240 L420 270 L340 280 L330 310 L380 350 L470 360 L500 385 L480 420 L400 430 L370 400 L300 385 L240 350 L205 345 L195 440 L160 430 L165 340 L150 300 L170 250 L260 220 L300 170Z" fill="#d8f020" stroke="#d8f020" stroke-width="62" stroke-linejoin="round" transform="translate(0 5)"/>
<path d="M340 110 L400 90 L450 110 L465 160 L440 240 L420 270 L340 280 L330 310 L380 350 L470 360 L500 385 L480 420 L400 430 L370 400 L300 385 L240 350 L205 345 L195 440 L160 430 L165 340 L150 300 L170 250 L260 220 L300 170Z" fill="#ff7a10" stroke="#ff7a10" stroke-width="30" stroke-linejoin="round" transform="translate(0 0)"/>
<path d="M340 110 L400 90 L450 110 L465 160 L440 240 L420 270 L340 280 L330 310 L380 350 L470 360 L500 385 L480 420 L400 430 L370 400 L300 385 L240 350 L205 345 L195 440 L160 430 L165 340 L150 300 L170 250 L260 220 L300 170Z" fill="#f80808" stroke="#f80808" stroke-width="8" stroke-linejoin="round"/>
<circle cx="213" cy="130" r="42" fill="#1fe05a"/><circle cx="213" cy="130" r="26" fill="#d8f020"/><circle cx="213" cy="130" r="13" fill="#ff8a10"/>
</g></g></g>
</svg>
<svg x="106.2" y="694.2" width="63.3" height="59.5" viewBox="22 22 638 598" preserveAspectRatio="none" overflow="hidden">
<rect x="22" y="22" width="638" height="598" fill="#050505"/>
<g filter="url(#b1)">
<path d="M470 130 C476.67 112.5,505 115,520 125 C535 135,552.5 170.83,560 190 C567.5 209.17,578.33 233.33,565 240 C551.67 246.67,495.83 248.33,480 230 C464.17 211.67,463.33 147.5,470 130Z" fill="#c8c8c8"/>
<path d="M180 470 C198.33 463.33,280 463.33,300 480 C320 496.67,311.67 556.67,300 570 C288.33 583.33,248.33 568.33,230 560 C211.67 551.67,198.33 535,190 520 C181.67 505,161.67 476.67,180 470Z" fill="#c4c4c4"/>
<path d="M420 430 C441.67 411.67,540 408.33,560 420 C580 431.67,555 480,540 500 C525 520,488.33 535,470 540 C451.67 545,438.33 548.33,430 530 C421.67 511.67,398.33 448.33,420 430Z" fill="#cdcdcd"/>
</g>
<clipPath id="cp22"><path d="M180 110 C196.67 94.17,256.67 65,280 65 C303.33 65,300 95.83,320 110 C340 124.17,381.67 149.17,400 150 C418.33 150.83,418.33 121.67,430 115 C441.67 108.33,458.33 104.17,470 110 C481.67 115.83,498.33 133.33,500 150 C501.67 166.67,470 198.33,480 210 C490 221.67,538.33 208.33,560 220 C581.67 231.67,599.17 258.33,610 280 C620.83 301.67,626.67 326.67,625 350 C623.33 373.33,620.83 405,600 420 C579.17 435,526.67 431.67,500 440 C473.33 448.33,450 450,440 470 C430 490,446.67 538.33,440 560 C433.33 581.67,418.33 591.67,400 600 C381.67 608.33,351.67 611.67,330 610 C308.33 608.33,281.67 608.33,270 590 C258.33 571.67,275 518.33,260 500 C245 481.67,206.67 488.33,180 480 C153.33 471.67,125 460,100 450 C75 440,36.67 440,30 420 C23.33 400,51.67 358.33,60 330 C68.33 301.67,68.33 271.67,80 250 C91.67 228.33,113.33 215,130 200 C146.67 185,171.67 175,180 160 C188.33 145,163.33 125.83,180 110Z"/></clipPath>
<g filter="url(#b0)"><g clip-path="url(#cp22)"><g filter="url(#b1)">
<rect x="0" y="0" width="700" height="700" fill="#2848ff"/>
<path d="M140 250 C150 238.33,178.33 228.33,200 220 C221.67 211.67,251.67 201.67,270 200 C288.33 198.33,301.67 201.67,310 210 C318.33 218.33,321.67 238.33,320 250 C318.33 261.67,315 271.67,300 280 C285 288.33,251.67 295,230 300 C208.33 305,185 311.67,170 310 C155 308.33,145 300,140 290 C135 280,130 261.67,140 250Z" fill="#19b0ff" stroke="#19b0ff" stroke-width="150" stroke-linejoin="round"/>
<path d="M290 215 L285 150 L240 115" fill="none" stroke="#19b0ff" stroke-width="93.0" stroke-linecap="round" stroke-linejoin="round"/>
<path d="M140 250 C150 238.33,178.33 228.33,200 220 C221.67 211.67,251.67 201.67,270 200 C288.33 198.33,301.67 201.67,310 210 C318.33 218.33,321.67 238.33,320 250 C318.33 261.67,315 271.67,300 280 C285 288.33,251.67 295,230 300 C208.33 305,185 311.67,170 310 C155 308.33,145 300,140 290 C135 280,130 261.67,140 250Z" fill="#1fe05a" stroke="#1fe05a" stroke-width="92" stroke-linejoin="round"/>
<path d="M290 215 L285 150 L240 115" fill="none" stroke="#1fe05a" stroke-width="57.04" stroke-linecap="round" stroke-linejoin="round"/>
<path d="M140 250 C150 238.33,178.33 228.33,200 220 C221.67 211.67,251.67 201.67,270 200 C288.33 198.33,301.67 201.67,310 210 C318.33 218.33,321.67 238.33,320 250 C318.33 261.67,315 271.67,300 280 C285 288.33,251.67 295,230 300 C208.33 305,185 311.67,170 310 C155 308.33,145 300,140 290 C135 280,130 261.67,140 250Z" fill="#d8f020" stroke="#d8f020" stroke-width="48" stroke-linejoin="round"/>
<path d="M290 215 L285 150 L240 115" fill="none" stroke="#d8f020" stroke-width="29.759999999999998" stroke-linecap="round" stroke-linejoin="round"/>
<path d="M140 250 C150 238.33,178.33 228.33,200 220 C221.67 211.67,251.67 201.67,270 200 C288.33 198.33,301.67 201.67,310 210 C318.33 218.33,321.67 238.33,320 250 C318.33 261.67,315 271.67,300 280 C285 288.33,251.67 295,230 300 C208.33 305,185 311.67,170 310 C155 308.33,145 300,140 290 C135 280,130 261.67,140 250Z" fill="#ff7a10" stroke="#ff7a10" stroke-width="22" stroke-linejoin="round"/>
<path d="M292 215 L288 165" fill="none" stroke="#ff8a10" stroke-width="16" stroke-linecap="round"/>
<path d="M280 380 C290 370.83,311.67 366.67,330 365 C348.33 363.33,376.67 364.17,390 370 C403.33 375.83,409.17 386.67,410 400 C410.83 413.33,395.83 433.33,395 450 C394.17 466.67,404.17 481.67,405 500 C405.83 518.33,405.83 546.67,400 560 C394.17 573.33,383.33 576.67,370 580 C356.67 583.33,334.17 584.17,320 580 C305.83 575.83,290 571.67,285 555 C280 538.33,292.5 502.5,290 480 C287.5 457.5,271.67 436.67,270 420 C268.33 403.33,270 389.17,280 380Z" fill="#19b0ff" stroke="#19b0ff" stroke-width="120" stroke-linejoin="round"/>
<path d="M280 380 C290 370.83,311.67 366.67,330 365 C348.33 363.33,376.67 364.17,390 370 C403.33 375.83,409.17 386.67,410 400 C410.83 413.33,395.83 433.33,395 450 C394.17 466.67,404.17 481.67,405 500 C405.83 518.33,405.83 546.67,400 560 C394.17 573.33,383.33 576.67,370 580 C356.67 583.33,334.17 584.17,320 580 C305.83 575.83,290 571.67,285 555 C280 538.33,292.5 502.5,290 480 C287.5 457.5,271.67 436.67,270 420 C268.33 403.33,270 389.17,280 380Z" fill="#1fe05a" stroke="#1fe05a" stroke-width="70" stroke-linejoin="round"/>
<path d="M280 380 C290 370.83,311.67 366.67,330 365 C348.33 363.33,376.67 364.17,390 370 C403.33 375.83,409.17 386.67,410 400 C410.83 413.33,395.83 433.33,395 450 C394.17 466.67,404.17 481.67,405 500 C405.83 518.33,405.83 546.67,400 560 C394.17 573.33,383.33 576.67,370 580 C356.67 583.33,334.17 584.17,320 580 C305.83 575.83,290 571.67,285 555 C280 538.33,292.5 502.5,290 480 C287.5 457.5,271.67 436.67,270 420 C268.33 403.33,270 389.17,280 380Z" fill="#d8f020" stroke="#d8f020" stroke-width="34" stroke-linejoin="round"/>
<path d="M280 380 C290 370.83,311.67 366.67,330 365 C348.33 363.33,376.67 364.17,390 370 C403.33 375.83,409.17 386.67,410 400 C410.83 413.33,395.83 433.33,395 450 C394.17 466.67,404.17 481.67,405 500 C405.83 518.33,405.83 546.67,400 560 C394.17 573.33,383.33 576.67,370 580 C356.67 583.33,334.17 584.17,320 580 C305.83 575.83,290 571.67,285 555 C280 538.33,292.5 502.5,290 480 C287.5 457.5,271.67 436.67,270 420 C268.33 403.33,270 389.17,280 380Z" fill="#ff7a10" stroke="#ff7a10" stroke-width="14" stroke-linejoin="round"/>
<circle cx="410" cy="230" r="42" fill="#19c8f8"/>
<circle cx="450" cy="150" r="40" fill="#2a6cff"/>
<circle cx="525" cy="295" r="70" fill="#19b0ff"/><circle cx="525" cy="295" r="52" fill="#1fe05a"/><circle cx="525" cy="295" r="28" fill="#a8e818"/>
</g></g></g><g filter="url(#b1)">
<path d="M140 250 C150 238.33,178.33 228.33,200 220 C221.67 211.67,251.67 201.67,270 200 C288.33 198.33,301.67 201.67,310 210 C318.33 218.33,321.67 238.33,320 250 C318.33 261.67,315 271.67,300 280 C285 288.33,251.67 295,230 300 C208.33 305,185 311.67,170 310 C155 308.33,145 300,140 290 C135 280,130 261.67,140 250Z" fill="#f82020"/><path d="M280 380 C290 370.83,311.67 366.67,330 365 C348.33 363.33,376.67 364.17,390 370 C403.33 375.83,409.17 386.67,410 400 C410.83 413.33,395.83 433.33,395 450 C394.17 466.67,404.17 481.67,405 500 C405.83 518.33,405.83 546.67,400 560 C394.17 573.33,383.33 576.67,370 580 C356.67 583.33,334.17 584.17,320 580 C305.83 575.83,290 571.67,285 555 C280 538.33,292.5 502.5,290 480 C287.5 457.5,271.67 436.67,270 420 C268.33 403.33,270 389.17,280 380Z" fill="#f82020"/>
</g>
</svg>
<svg x="172" y="694.2" width="71.8" height="59.5" viewBox="18 20 647 535" preserveAspectRatio="none" overflow="hidden">
<rect x="18" y="20" width="647" height="535" fill="#050505"/>
<g filter="url(#b1)"><ellipse cx="332" cy="88" rx="72" ry="52" fill="#8a8a8a"/><ellipse cx="320" cy="75" rx="45" ry="30" fill="#a5a5a5"/><circle cx="625" cy="312" r="16" fill="#777"/><circle cx="22" cy="112" r="8" fill="#666"/></g>
<clipPath id="cp23"><path d="M30 180 C46.67 158.33,83.33 155,120 150 C156.67 145,213.33 156.67,250 150 C286.67 143.33,315 110,340 110 C365 110,378.33 136.67,400 150 C421.67 163.33,443.33 175,470 190 C496.67 205,536.67 223.33,560 240 C583.33 256.67,600 271.67,610 290 C620 308.33,628.33 331.67,620 350 C611.67 368.33,580 385,560 400 C540 415,520 423.33,500 440 C480 456.67,460 485,440 500 C420 515,401.67 526.67,380 530 C358.33 533.33,333.33 526.67,310 520 C286.67 513.33,266.67 496.67,240 490 C213.33 483.33,176.67 486.67,150 480 C123.33 473.33,98.33 466.67,80 450 C61.67 433.33,50 408.33,40 380 C30 351.67,21.67 313.33,20 280 C18.33 246.67,13.33 201.67,30 180Z"/></clipPath>
<g filter="url(#b0)"><g clip-path="url(#cp23)"><g filter="url(#b1)">
<rect x="0" y="0" width="700" height="700" fill="#6a24ee"/>
<path d="M30 180 C46.67 158.33,83.33 155,120 150 C156.67 145,213.33 156.67,250 150 C286.67 143.33,315 110,340 110 C365 110,378.33 136.67,400 150 C421.67 163.33,443.33 175,470 190 C496.67 205,536.67 223.33,560 240 C583.33 256.67,600 271.67,610 290 C620 308.33,628.33 331.67,620 350 C611.67 368.33,580 385,560 400 C540 415,520 423.33,500 440 C480 456.67,460 485,440 500 C420 515,401.67 526.67,380 530 C358.33 533.33,333.33 526.67,310 520 C286.67 513.33,266.67 496.67,240 490 C213.33 483.33,176.67 486.67,150 480 C123.33 473.33,98.33 466.67,80 450 C61.67 433.33,50 408.33,40 380 C30 351.67,21.67 313.33,20 280 C18.33 246.67,13.33 201.67,30 180Z" fill="#2a2cff" transform="translate(319 325) scale(0.965 0.955) translate(-318 -325)"/>
<path d="M30 180 C46.67 158.33,83.33 155,120 150 C156.67 145,213.33 156.67,250 150 C286.67 143.33,315 110,340 110 C365 110,378.33 136.67,400 150 C421.67 163.33,443.33 175,470 190 C496.67 205,536.67 223.33,560 240 C583.33 256.67,600 271.67,610 290 C620 308.33,628.33 331.67,620 350 C611.67 368.33,580 385,560 400 C540 415,520 423.33,500 440 C480 456.67,460 485,440 500 C420 515,401.67 526.67,380 530 C358.33 533.33,333.33 526.67,310 520 C286.67 513.33,266.67 496.67,240 490 C213.33 483.33,176.67 486.67,150 480 C123.33 473.33,98.33 466.67,80 450 C61.67 433.33,50 408.33,40 380 C30 351.67,21.67 313.33,20 280 C18.33 246.67,13.33 201.67,30 180Z" fill="#19c0ff" transform="translate(318 325) scale(0.93 0.91) translate(-318 -325)"/>
<path d="M30 180 C46.67 158.33,83.33 155,120 150 C156.67 145,213.33 156.67,250 150 C286.67 143.33,315 110,340 110 C365 110,378.33 136.67,400 150 C421.67 163.33,443.33 175,470 190 C496.67 205,536.67 223.33,560 240 C583.33 256.67,600 271.67,610 290 C620 308.33,628.33 331.67,620 350 C611.67 368.33,580 385,560 400 C540 415,520 423.33,500 440 C480 456.67,460 485,440 500 C420 515,401.67 526.67,380 530 C358.33 533.33,333.33 526.67,310 520 C286.67 513.33,266.67 496.67,240 490 C213.33 483.33,176.67 486.67,150 480 C123.33 473.33,98.33 466.67,80 450 C61.67 433.33,50 408.33,40 380 C30 351.67,21.67 313.33,20 280 C18.33 246.67,13.33 201.67,30 180Z" fill="#2ce63a" transform="translate(316 325) scale(0.875 0.85) translate(-318 -325)"/>
<path d="M170 230 C178.33 215,206.67 213.33,220 220 C233.33 226.67,246.67 251.67,250 270 C253.33 288.33,238.33 313.33,240 330 C241.67 346.67,263.33 360,260 370 C256.67 380,231.67 390,220 390 C208.33 390,198.33 383.33,190 370 C181.67 356.67,173.33 333.33,170 310 C166.67 286.67,161.67 245,170 230Z" fill="#19c0ff" stroke="#19c0ff" stroke-width="42" stroke-linejoin="round"/>
<path d="M370 270 C381.67 266.67,411.67 271.67,430 280 C448.33 288.33,475 308.33,480 320 C485 331.67,473.33 346.67,460 350 C446.67 353.33,416.67 348.33,400 340 C383.33 331.67,365 311.67,360 300 C355 288.33,358.33 273.33,370 270Z" fill="#19c0ff" stroke="#19c0ff" stroke-width="42" stroke-linejoin="round"/>
<path d="M250 380 Q300 395 350 350 L330 300" fill="none" stroke="#19d0e8" stroke-width="24"/>
<path d="M95 200 C104.17 185.83,137.5 183.33,150 185 C162.5 186.67,171.67 200.83,170 210 C168.33 219.17,146.67 230,140 240 C133.33 250,137.5 265,130 270 C122.5 275,100.83 281.67,95 270 C89.17 258.33,85.83 214.17,95 200Z" fill="#e0f020" stroke="#e0f020" stroke-width="34" stroke-linejoin="round"/>
<path d="M290 165 C300 160,326.67 154.17,350 160 C373.33 165.83,405 186.67,430 200 C455 213.33,483.33 228.33,500 240 C516.67 251.67,530 262.5,530 270 C530 277.5,515 286.67,500 285 C485 283.33,461.67 267.5,440 260 C418.33 252.5,388.33 250,370 240 C351.67 230,343.33 208.33,330 200 C316.67 191.67,296.67 195.83,290 190 C283.33 184.17,280 170,290 165Z" fill="#e0f020" stroke="#e0f020" stroke-width="34" stroke-linejoin="round"/>
<path d="M285 305 C292.5 299.17,321.67 295,330 300 C338.33 305,338.33 326.67,335 335 C331.67 343.33,318.33 350,310 350 C301.67 350,289.17 342.5,285 335 C280.83 327.5,277.5 310.83,285 305Z" fill="#e0f020" stroke="#e0f020" stroke-width="34" stroke-linejoin="round"/>
<path d="M150 460 C161.67 454.17,205 448.33,230 440 C255 431.67,280 421.67,300 410 C320 398.33,337.5 374.17,350 370 C362.5 365.83,375 373.33,375 385 C375 396.67,352.5 420.83,350 440 C347.5 459.17,363.33 486.67,360 500 C356.67 513.33,340 520,330 520 C320 520,306.67 508.33,300 500 C293.33 491.67,303.33 474.17,290 470 C276.67 465.83,241.67 474.17,220 475 C198.33 475.83,171.67 477.5,160 475 C148.33 472.5,138.33 465.83,150 460Z" fill="#e0f020" stroke="#e0f020" stroke-width="34" stroke-linejoin="round"/>
<circle cx="148" cy="415" r="24" fill="#e0f020"/><circle cx="290" cy="250" r="22" fill="#e0f020"/><path d="M238 192 L272 200" stroke="#e0f020" stroke-width="30" stroke-linecap="round"/>
<path d="M170 230 C178.33 215,206.67 213.33,220 220 C233.33 226.67,246.67 251.67,250 270 C253.33 288.33,238.33 313.33,240 330 C241.67 346.67,263.33 360,260 370 C256.67 380,231.67 390,220 390 C208.33 390,198.33 383.33,190 370 C181.67 356.67,173.33 333.33,170 310 C166.67 286.67,161.67 245,170 230Z" fill="#2440ff"/>
<path d="M370 270 C381.67 266.67,411.67 271.67,430 280 C448.33 288.33,475 308.33,480 320 C485 331.67,473.33 346.67,460 350 C446.67 353.33,416.67 348.33,400 340 C383.33 331.67,365 311.67,360 300 C355 288.33,358.33 273.33,370 270Z" fill="#2440ff"/>
<path d="M95 200 C104.17 185.83,137.5 183.33,150 185 C162.5 186.67,171.67 200.83,170 210 C168.33 219.17,146.67 230,140 240 C133.33 250,137.5 265,130 270 C122.5 275,100.83 281.67,95 270 C89.17 258.33,85.83 214.17,95 200Z" fill="#ff7a10" stroke="#ff7a10" stroke-width="12" stroke-linejoin="round"/>
<path d="M95 200 C104.17 185.83,137.5 183.33,150 185 C162.5 186.67,171.67 200.83,170 210 C168.33 219.17,146.67 230,140 240 C133.33 250,137.5 265,130 270 C122.5 275,100.83 281.67,95 270 C89.17 258.33,85.83 214.17,95 200Z" fill="#f80808"/>
<path d="M290 165 C300 160,326.67 154.17,350 160 C373.33 165.83,405 186.67,430 200 C455 213.33,483.33 228.33,500 240 C516.67 251.67,530 262.5,530 270 C530 277.5,515 286.67,500 285 C485 283.33,461.67 267.5,440 260 C418.33 252.5,388.33 250,370 240 C351.67 230,343.33 208.33,330 200 C316.67 191.67,296.67 195.83,290 190 C283.33 184.17,280 170,290 165Z" fill="#ff7a10" stroke="#ff7a10" stroke-width="12" stroke-linejoin="round"/>
<path d="M290 165 C300 160,326.67 154.17,350 160 C373.33 165.83,405 186.67,430 200 C455 213.33,483.33 228.33,500 240 C516.67 251.67,530 262.5,530 270 C530 277.5,515 286.67,500 285 C485 283.33,461.67 267.5,440 260 C418.33 252.5,388.33 250,370 240 C351.67 230,343.33 208.33,330 200 C316.67 191.67,296.67 195.83,290 190 C283.33 184.17,280 170,290 165Z" fill="#f80808"/>
<path d="M285 305 C292.5 299.17,321.67 295,330 300 C338.33 305,338.33 326.67,335 335 C331.67 343.33,318.33 350,310 350 C301.67 350,289.17 342.5,285 335 C280.83 327.5,277.5 310.83,285 305Z" fill="#ff7a10" stroke="#ff7a10" stroke-width="12" stroke-linejoin="round"/>
<path d="M285 305 C292.5 299.17,321.67 295,330 300 C338.33 305,338.33 326.67,335 335 C331.67 343.33,318.33 350,310 350 C301.67 350,289.17 342.5,285 335 C280.83 327.5,277.5 310.83,285 305Z" fill="#f80808"/>
<path d="M150 460 C161.67 454.17,205 448.33,230 440 C255 431.67,280 421.67,300 410 C320 398.33,337.5 374.17,350 370 C362.5 365.83,375 373.33,375 385 C375 396.67,352.5 420.83,350 440 C347.5 459.17,363.33 486.67,360 500 C356.67 513.33,340 520,330 520 C320 520,306.67 508.33,300 500 C293.33 491.67,303.33 474.17,290 470 C276.67 465.83,241.67 474.17,220 475 C198.33 475.83,171.67 477.5,160 475 C148.33 472.5,138.33 465.83,150 460Z" fill="#ff7a10" stroke="#ff7a10" stroke-width="12" stroke-linejoin="round"/>
<path d="M150 460 C161.67 454.17,205 448.33,230 440 C255 431.67,280 421.67,300 410 C320 398.33,337.5 374.17,350 370 C362.5 365.83,375 373.33,375 385 C375 396.67,352.5 420.83,350 440 C347.5 459.17,363.33 486.67,360 500 C356.67 513.33,340 520,330 520 C320 520,306.67 508.33,300 500 C293.33 491.67,303.33 474.17,290 470 C276.67 465.83,241.67 474.17,220 475 C198.33 475.83,171.67 477.5,160 475 C148.33 472.5,138.33 465.83,150 460Z" fill="#f80808"/>
<circle cx="148" cy="415" r="12" fill="#f80808"/><circle cx="290" cy="250" r="11" fill="#f80808"/><path d="M240 192 L270 199" stroke="#f80808" stroke-width="12" stroke-linecap="round"/>
</g></g></g>
</svg>
<svg x="246.2" y="694.2" width="77.8" height="59.5" viewBox="18 18 650 497" preserveAspectRatio="none" overflow="hidden">
<rect x="18" y="18" width="650" height="497" fill="#050505"/>
<g filter="url(#b1)">
<path d="M130 90 C150 66.67,176.67 59.17,200 50 C223.33 40.83,248.33 35,270 35 C291.67 35,305 48.33,330 50 C355 51.67,391.67 41.67,420 45 C448.33 48.33,473.33 57.5,500 70 C526.67 82.5,556.67 98.33,580 120 C603.33 141.67,630 171.67,640 200 C650 228.33,648.33 263.33,640 290 C631.67 316.67,610 338.33,590 360 C570 381.67,543.33 401.67,520 420 C496.67 438.33,473.33 461.67,450 470 C426.67 478.33,405 475,380 470 C355 465,325 443.33,300 440 C275 436.67,251.67 451.67,230 450 C208.33 448.33,183.33 443.33,170 430 C156.67 416.67,150 390,150 370 C150 350,180 321.67,170 310 C160 298.33,113.33 296.67,90 300 C66.67 303.33,38.33 336.67,30 330 C21.67 323.33,31.67 283.33,40 260 C48.33 236.67,65 218.33,80 190 C95 161.67,110 113.33,130 90Z" fill="#3e3e3e"/>
</g><g filter="url(#b0)">
<circle cx="170" cy="70" r="7" fill="#fff" opacity="1"/>
<circle cx="195" cy="130" r="6" fill="#fff" opacity="1"/>
<circle cx="180" cy="140" r="6" fill="#fff" opacity="1"/>
<circle cx="165" cy="160" r="6" fill="#fff" opacity="1"/>
<circle cx="150" cy="180" r="6" fill="#fff" opacity="1"/>
<circle cx="100" cy="200" r="6" fill="#fff" opacity="1"/>
<circle cx="125" cy="210" r="6" fill="#fff" opacity="1"/>
<circle cx="330" cy="150" r="5" fill="#fff" opacity="1"/>
<circle cx="350" cy="180" r="5" fill="#fff" opacity="1"/>
<circle cx="225" cy="375" r="8" fill="#fff" opacity="1"/>
<circle cx="185" cy="425" r="8" fill="#fff" opacity="1"/>
<circle cx="410" cy="405" r="6" fill="#fff" opacity="1"/>
<circle cx="380" cy="440" r="5" fill="#fff" opacity="1"/>
<circle cx="515" cy="345" r="8" fill="#fff" opacity="1"/>
<circle cx="500" cy="165" r="6" fill="#fff" opacity="1"/>
<circle cx="490" cy="255" r="6" fill="#fff" opacity="1"/>
<circle cx="270" cy="230" r="5" fill="#fff" opacity="1"/>
<circle cx="370" cy="245" r="5" fill="#fff" opacity="1"/>
<circle cx="230" cy="200" r="4" fill="#fff" opacity="1"/>
<circle cx="320" cy="120" r="4" fill="#fff" opacity="1"/>
<circle cx="80" cy="180" r="4" fill="#fff" opacity="1"/>
<circle cx="360" cy="385" r="4" fill="#fff" opacity="1"/>
<circle cx="270" cy="80" r="4" fill="#fff" opacity="1"/>
</g>
<g filter="url(#b1)" opacity="0.6"><path d="M40 290 Q150 210 270 250" stroke="#222" stroke-width="16" fill="none"/><path d="M280 60 Q300 150 380 220" stroke="#2a2a2a" stroke-width="14" fill="none"/></g>
<g filter="url(#b0)"><circle cx="315" cy="240" r="44" fill="#5620ea"/><circle cx="215" cy="318" r="46" fill="#4818f2"/>
<path d="M530 115 C531.67 108.33,556.67 120.83,570 130 C583.33 139.17,597.5 156.67,610 170 C622.5 183.33,640.83 188.33,645 210 C649.17 231.67,642.5 278.33,635 300 C627.5 321.67,615.83 326.67,600 340 C584.17 353.33,551.67 380,540 380 C528.33 380,526.67 355,530 340 C533.33 325,552.5 308.33,560 290 C567.5 271.67,575 250,575 230 C575 210,567.5 189.17,560 170 C552.5 150.83,528.33 121.67,530 115Z" fill="#7828e6"/>
</g>
</svg>
<svg x="326.1" y="694.2" width="43" height="59.5" viewBox="15 15 307 425" preserveAspectRatio="none" overflow="hidden">
<rect x="15" y="15" width="307" height="425" fill="#050505"/>
<rect x="15" y="15" width="307" height="425" fill="#111"/>
<g filter="url(#b1)">
<path d="M200 85 C213.33 77.5,235 75,250 75 C265 75,284.17 72.5,290 85 C295.83 97.5,291.67 125.83,285 150 C278.33 174.17,262.5 205,250 230 C237.5 255,219.17 275.83,210 300 C200.83 324.17,205 361.67,195 375 C185 388.33,165 385,150 380 C135 375,113.33 365,105 345 C96.67 325,95.83 285.83,100 260 C104.17 234.17,118.33 213.33,130 190 C141.67 166.67,158.33 137.5,170 120 C181.67 102.5,186.67 92.5,200 85Z" fill="#1c1c1c" stroke="#444" stroke-width="4"/>
</g><g filter="url(#b0)">
<path d="M200 80 C203.33 73.33,213.33 59.17,225 55 C236.67 50.83,259.17 51.67,270 55 C280.83 58.33,288.33 68.33,290 75 C291.67 81.67,288.33 90.83,280 95 C271.67 99.17,249.17 98.33,240 100 C230.83 101.67,230.83 105.83,225 105 C219.17 104.17,209.17 99.17,205 95 C200.83 90.83,196.67 86.67,200 80Z" fill="#d21cf0"/>
<circle cx="265" cy="145" r="6" fill="#fff" opacity="0.95"/>
<circle cx="270" cy="180" r="5" fill="#fff" opacity="0.95"/>
<circle cx="235" cy="190" r="6" fill="#fff" opacity="0.95"/>
<circle cx="240" cy="215" r="5" fill="#fff" opacity="0.95"/>
<circle cx="205" cy="235" r="5" fill="#fff" opacity="0.95"/>
<circle cx="150" cy="325" r="5" fill="#fff" opacity="0.95"/>
<circle cx="190" cy="340" r="4" fill="#fff" opacity="0.95"/>
<circle cx="105" cy="345" r="5" fill="#fff" opacity="0.95"/>
<circle cx="195" cy="100" r="4" fill="#fff" opacity="0.95"/>
<circle cx="250" cy="160" r="4" fill="#fff" opacity="0.95"/>
</g>
</svg>
<svg x="371.1" y="694.2" width="44.7" height="59.5" viewBox="336 15 319 425" preserveAspectRatio="none" overflow="hidden">
<rect x="336" y="15" width="319" height="425" fill="#050505"/>
<g filter="url(#b0)"><ellipse cx="462" cy="62" rx="48" ry="42" fill="#bdbdbd"/>
<path d="M400 335 C417.83 331.33,456.67 348,490 348 C523.33 348,578.67 331,600 335 C621.33 339,618.33 360.33,618 372 C617.67 383.67,611 396.17,598 405 C585 413.83,564.67 421.67,540 425 C515.33 428.33,473.33 428.83,450 425 C426.67 421.17,411.17 411.17,400 402 C388.83 392.83,383 381.17,383 370 C383 358.83,382.17 338.67,400 335Z" fill="#dcdcdc"/>
<path d="M420 110 C438.83 97.5,466.67 95,490 95 C513.33 95,539.17 95.83,560 110 C580.83 124.17,601.67 153.33,615 180 C628.33 206.67,638.83 244.17,640 270 C641.17 295.83,635.33 320,622 335 C608.67 350,582 357.17,560 360 C538 362.83,513.33 352,490 352 C466.67 352,440.67 363.33,420 360 C399.33 356.67,377 348.67,366 332 C355 315.33,352.17 287,354 260 C355.83 233,366 195,377 170 C388 145,401.17 122.5,420 110Z" fill="#f0f0f0"/>
<path d="M390 350 Q490 330 600 352" stroke="#fff" stroke-width="12" fill="none"/><path d="M492 250 L492 340" stroke="#d8d8d8" stroke-width="5"/>
</g><g filter="url(#b0)">
<path d="M415 80 L440 55 L480 60 L505 90 L510 130 L480 150 L440 160 L415 130Z" fill="#3040f2"/>
<path d="M380 195 L420 170 L440 185 L420 230 L400 280 L385 285 L368 240Z" fill="#3a4cf2"/>
</g>
</svg>
<svg x="44.3" y="756.7" width="59.7" height="59" viewBox="25 28 638 632" preserveAspectRatio="none" overflow="hidden">
<rect x="25" y="28" width="638" height="632" fill="#050505"/>
<g filter="url(#b2)">
<path d="M60 190 C65 161.67,76.67 131.67,100 110 C123.33 88.33,158.33 71.67,200 60 C241.67 48.33,300 40,350 40 C400 40,460 46.67,500 60 C540 73.33,568.33 96.67,590 120 C611.67 143.33,626.67 173.33,630 200 C633.33 226.67,621.67 263.33,610 280 C598.33 296.67,611.67 296.67,560 300 C508.33 303.33,381.67 303.33,300 300 C218.33 296.67,110 298.33,70 280 C30 261.67,55 218.33,60 190Z" fill="#7e7e7e"/>
<path d="M60 330 C65 300,65 271.67,80 250 C95 228.33,113.33 210,150 200 C186.67 190,258.33 200,300 190 C341.67 180,366.67 146.67,400 140 C433.33 133.33,473.33 131.67,500 150 C526.67 168.33,546.67 208.33,560 250 C573.33 291.67,583.33 355,580 400 C576.67 445,561.67 486.67,540 520 C518.33 553.33,490 581.67,450 600 C410 618.33,345 628.33,300 630 C255 631.67,215 625,180 610 C145 595,111.67 570,90 540 C68.33 510,55 465,50 430 C45 395,55 360,60 330Z" fill="#d2d2d2"/>
<path d="M400 140 C416.67 123.33,473.33 131.67,500 150 C526.67 168.33,546.67 208.33,560 250 C573.33 291.67,583.33 355,580 400 C576.67 445,561.67 486.67,540 520 C518.33 553.33,483.33 586.67,450 600 C416.67 613.33,360 616.67,340 600 C320 583.33,331.67 533.33,330 500 C328.33 466.67,318.33 441.67,330 400 C341.67 358.33,388.33 293.33,400 250 C411.67 206.67,383.33 156.67,400 140Z" fill="#f6f6f6"/>
<path d="M230 260 C235 235,273.33 226.67,285 250 C296.67 273.33,295 358.33,300 400 C305 441.67,317.5 480,315 500 C312.5 520,295 536.67,285 520 C275 503.33,264.17 443.33,255 400 C245.83 356.67,225 285,230 260Z" fill="#a2a2a2"/>
<path d="M90 480 C91.67 460,131.67 456.67,160 470 C188.33 483.33,246.67 536.67,260 560 C273.33 583.33,258.33 605,240 610 C221.67 615,175 611.67,150 590 C125 568.33,88.33 500,90 480Z" fill="#dcdcdc"/>
<path d="M210 200 C223.33 192.5,280 190,300 195 C320 200,336.67 219.17,330 230 C323.33 240.83,278.33 258.33,260 260 C241.67 261.67,228.33 250,220 240 C211.67 230,196.67 207.5,210 200Z" fill="#dadada"/>
</g><g filter="url(#b1)">
<circle cx="130" cy="130" r="6" fill="#fff" opacity="0.85"/>
<circle cx="180" cy="185" r="5" fill="#fff" opacity="0.85"/>
<circle cx="250" cy="210" r="6" fill="#fff" opacity="0.85"/>
<circle cx="175" cy="385" r="6" fill="#fff" opacity="0.85"/>
<circle cx="120" cy="500" r="7" fill="#fff" opacity="0.85"/>
<circle cx="555" cy="95" r="5" fill="#fff" opacity="0.85"/>
<circle cx="160" cy="410" r="4" fill="#fff" opacity="0.85"/>
<clipPath id="cl3"><path d="M282 400 C283.67 380,287 347,300 330 C313 313,336.67 303,360 298 C383.33 293,416.67 293.83,440 300 C463.33 306.17,484.67 318.33,500 335 C515.33 351.67,528.67 377.5,532 400 C535.33 422.5,530.33 451.67,520 470 C509.67 488.33,490 501,470 510 C450 519,423.33 527.33,400 524 C376.67 520.67,348.33 502.33,330 490 C311.67 477.67,298 465,290 450 C282 435,280.33 420,282 400Z"/></clipPath>
</g><g filter="url(#b0)"><g clip-path="url(#cl3)"><g filter="url(#b1)">
<rect x="200" y="200" width="450" height="450" fill="#6a22ee"/>
<ellipse cx="407" cy="412" rx="112" ry="100" fill="#2a2cff"/><ellipse cx="410" cy="418" rx="96" ry="84" fill="#19b8ff"/><ellipse cx="412" cy="426" rx="80" ry="68" fill="#1fe05a"/><ellipse cx="422" cy="440" rx="55" ry="44" fill="#9ae81c"/><ellipse cx="430" cy="450" rx="40" ry="30" fill="#f0e818"/><ellipse cx="432" cy="455" rx="30" ry="22" fill="#ff8a10"/><ellipse cx="432" cy="460" rx="22" ry="14" fill="#f40c0c"/>
</g></g></g>
</svg>
<svg x="106.2" y="756.7" width="63.3" height="59" viewBox="22 28 638 597" preserveAspectRatio="none" overflow="hidden">
<rect x="22" y="28" width="638" height="597" fill="#050505"/>
<clipPath id="cp3"><path d="M160 130 L250 120 L290 150 L310 190 L360 180 L400 140 L460 130 L520 180 L590 270 L620 340 L600 430 L560 490 L480 550 L400 575 L330 560 L230 520 L140 480 L90 400 L60 330 L100 270 L130 180Z"/></clipPath>
<g filter="url(#b1)"><g clip-path="url(#cp3)">
<path d="M160 130 L250 120 L290 150 L310 190 L360 180 L400 140 L460 130 L520 180 L590 270 L620 340 L600 430 L560 490 L480 550 L400 575 L330 560 L230 520 L140 480 L90 400 L60 330 L100 270 L130 180Z" fill="url(#ptc3)"/>
</g></g><g clip-path="url(#cp3)" filter="url(#b0)">
<path d="M40 180 Q200 160 335 190" stroke="#555" stroke-width="9" fill="none" opacity="0.4"/>
<path d="M415 180 Q520 145 640 160" stroke="#505050" stroke-width="9" fill="none" opacity="0.4"/>
<path d="M40 210 Q200 190 335 220" stroke="#555" stroke-width="9" fill="none" opacity="0.4"/>
<path d="M415 210 Q520 175 640 190" stroke="#505050" stroke-width="9" fill="none" opacity="0.4"/>
<path d="M40 240 Q200 220 335 250" stroke="#555" stroke-width="9" fill="none" opacity="0.4"/>
<path d="M415 240 Q520 205 640 220" stroke="#505050" stroke-width="9" fill="none" opacity="0.4"/>
<path d="M40 270 Q200 250 335 280" stroke="#555" stroke-width="9" fill="none" opacity="0.4"/>
<path d="M415 270 Q520 235 640 250" stroke="#505050" stroke-width="9" fill="none" opacity="0.4"/>
<path d="M40 300 Q200 280 335 310" stroke="#555" stroke-width="9" fill="none" opacity="0.4"/>
<path d="M415 300 Q520 265 640 280" stroke="#505050" stroke-width="9" fill="none" opacity="0.4"/>
<path d="M40 330 Q200 310 335 340" stroke="#555" stroke-width="9" fill="none" opacity="0.4"/>
<path d="M415 330 Q520 295 640 310" stroke="#505050" stroke-width="9" fill="none" opacity="0.4"/>
<path d="M40 360 Q200 340 335 370" stroke="#555" stroke-width="9" fill="none" opacity="0.4"/>
<path d="M415 360 Q520 325 640 340" stroke="#505050" stroke-width="9" fill="none" opacity="0.4"/>
<path d="M40 390 Q200 370 335 400" stroke="#555" stroke-width="9" fill="none" opacity="0.4"/>
<path d="M415 390 Q520 355 640 370" stroke="#505050" stroke-width="9" fill="none" opacity="0.4"/>
<path d="M40 420 Q200 400 335 430" stroke="#555" stroke-width="9" fill="none" opacity="0.4"/>
<path d="M415 420 Q520 385 640 400" stroke="#505050" stroke-width="9" fill="none" opacity="0.4"/>
<path d="M40 450 Q200 430 335 460" stroke="#555" stroke-width="9" fill="none" opacity="0.4"/>
<path d="M415 450 Q520 415 640 430" stroke="#505050" stroke-width="9" fill="none" opacity="0.4"/>
<path d="M40 480 Q200 460 335 490" stroke="#555" stroke-width="9" fill="none" opacity="0.4"/>
<path d="M415 480 Q520 445 640 460" stroke="#505050" stroke-width="9" fill="none" opacity="0.4"/>
<path d="M40 510 Q200 490 335 520" stroke="#555" stroke-width="9" fill="none" opacity="0.4"/>
<path d="M415 510 Q520 475 640 490" stroke="#505050" stroke-width="9" fill="none" opacity="0.4"/>
<path d="M40 540 Q200 520 335 550" stroke="#555" stroke-width="9" fill="none" opacity="0.4"/>
<path d="M415 540 Q520 505 640 520" stroke="#505050" stroke-width="9" fill="none" opacity="0.4"/>
<path d="M40 570 Q200 550 335 580" stroke="#555" stroke-width="9" fill="none" opacity="0.4"/>
<path d="M415 570 Q520 535 640 550" stroke="#505050" stroke-width="9" fill="none" opacity="0.4"/>
</g><g filter="url(#b0)">
<path d="M165 190 C169.17 185,187.5 182.5,195 185 C202.5 187.5,199.17 203.33,210 205 C220.83 206.67,245 193.33,260 195 C275 196.67,290 204.17,300 215 C310 225.83,317.5 242.5,320 260 C322.5 277.5,321.67 305,315 320 C308.33 335,292.5 345.83,280 350 C267.5 354.17,250.83 353.33,240 345 C229.17 336.67,222.5 315.83,215 300 C207.5 284.17,202.5 264.17,195 250 C187.5 235.83,175 225,170 215 C165 205,160.83 195,165 190Z" fill="#5620d2"/>
</g>
</svg>
<svg x="172" y="756.7" width="71.8" height="59" viewBox="18 25 647 530" preserveAspectRatio="none" overflow="hidden">
<rect x="18" y="25" width="647" height="530" fill="#050505"/>
<clipPath id="cp33"><path d="M40 210 L80 170 L180 160 L250 140 L250 70 L300 40 L370 45 L410 90 L400 140 L480 150 L560 150 L640 155 L600 200 L570 300 L540 390 L470 450 L400 500 L340 535 L290 520 L240 480 L170 400 L110 320 L60 270Z"/></clipPath>
<g filter="url(#b1)"><g clip-path="url(#cp33)">
<path d="M40 210 L80 170 L180 160 L250 140 L250 70 L300 40 L370 45 L410 90 L400 140 L480 150 L560 150 L640 155 L600 200 L570 300 L540 390 L470 450 L400 500 L340 535 L290 520 L240 480 L170 400 L110 320 L60 270Z" fill="#828282"/>
<path d="M195 540 Q255 298.0 325 315.5 Q395 298.0 455 540" fill="none" stroke="#b4b4b4" stroke-width="16" opacity="0.8"/>
<path d="M135 540 Q195 262.0 325 294.5 Q455 262.0 515 540" fill="none" stroke="#b4b4b4" stroke-width="16" opacity="0.8"/>
<path d="M75 540 Q135 226.0 325 273.5 Q515 226.0 575 540" fill="none" stroke="#b4b4b4" stroke-width="16" opacity="0.8"/>
<path d="M15 540 Q75 190.0 325 252.5 Q575 190.0 635 540" fill="none" stroke="#b4b4b4" stroke-width="16" opacity="0.8"/>
<path d="M290 120 L300 430" stroke="#3a3a3a" stroke-width="10" opacity="0.8"/><path d="M350 120 L345 330" stroke="#3a3a3a" stroke-width="10" opacity="0.8"/>
<path d="M420 160 L630 160 L560 330" stroke="#555" stroke-width="9" fill="none" opacity="0.4"/>
</g></g><g filter="url(#b1)">
<circle cx="285" cy="120" r="7" fill="#ddd" opacity="0.85"/>
<circle cx="330" cy="125" r="6" fill="#ddd" opacity="0.85"/>
<circle cx="425" cy="205" r="6" fill="#ddd" opacity="0.85"/>
<circle cx="155" cy="375" r="6" fill="#ddd" opacity="0.85"/>
<circle cx="300" cy="465" r="6" fill="#ddd" opacity="0.85"/>
<circle cx="395" cy="450" r="6" fill="#ddd" opacity="0.85"/>
<circle cx="420" cy="445" r="5" fill="#ddd" opacity="0.85"/>
<circle cx="320" cy="490" r="5" fill="#ddd" opacity="0.85"/>
<circle cx="250" cy="490" r="4" fill="#ddd" opacity="0.85"/>
<circle cx="265" cy="70" r="4" fill="#ddd" opacity="0.85"/>
</g>
</svg>
<svg x="246.2" y="756.7" width="77.8" height="59" viewBox="18 22 650 493" preserveAspectRatio="none" overflow="hidden">
<rect x="18" y="22" width="650" height="493" fill="#050505"/>
<g filter="url(#b1)">
<path d="M40 90 C51.67 75.83,100 80.83,130 75 C160 69.17,186.67 60.83,220 55 C253.33 49.17,291.67 43.33,330 40 C368.33 36.67,415 31.67,450 35 C485 38.33,513.33 44.17,540 60 C566.67 75.83,593.33 103.33,610 130 C626.67 156.67,638.33 191.67,640 220 C641.67 248.33,633.33 278.33,620 300 C606.67 321.67,573.33 333.33,560 350 C546.67 366.67,555 386.67,540 400 C525 413.33,490 418.33,470 430 C450 441.67,441.67 458.33,420 470 C398.33 481.67,366.67 496.67,340 500 C313.33 503.33,281.67 500,260 490 C238.33 480,221.67 460,210 440 C198.33 420,200 393.33,190 370 C180 346.67,165 321.67,150 300 C135 278.33,115 263.33,100 240 C85 216.67,70 185,60 160 C50 135,28.33 104.17,40 90Z" fill="#404040"/>
<circle cx="330" cy="235" r="17" fill="#141414"/>
<circle cx="450" cy="375" r="20" fill="#141414"/>
<circle cx="215" cy="270" r="12" fill="#141414"/>
</g><g filter="url(#b0)">
<circle cx="345" cy="110" r="7" fill="#fff" opacity="1"/>
<circle cx="320" cy="125" r="6" fill="#fff" opacity="1"/>
<circle cx="540" cy="140" r="6" fill="#fff" opacity="1"/>
<circle cx="590" cy="95" r="4" fill="#fff" opacity="1"/>
<circle cx="590" cy="245" r="6" fill="#fff" opacity="1"/>
<circle cx="560" cy="265" r="7" fill="#fff" opacity="1"/>
<circle cx="530" cy="285" r="6" fill="#fff" opacity="1"/>
<circle cx="495" cy="355" r="5" fill="#fff" opacity="1"/>
<circle cx="470" cy="395" r="5" fill="#fff" opacity="1"/>
<circle cx="270" cy="365" r="5" fill="#fff" opacity="1"/>
<circle cx="280" cy="395" r="6" fill="#fff" opacity="1"/>
<circle cx="275" cy="425" r="6" fill="#fff" opacity="1"/>
<circle cx="260" cy="460" r="5" fill="#fff" opacity="1"/>
<circle cx="200" cy="215" r="6" fill="#fff" opacity="1"/>
<circle cx="130" cy="265" r="5" fill="#fff" opacity="1"/>
<circle cx="75" cy="130" r="5" fill="#fff" opacity="1"/>
<circle cx="300" cy="215" r="4" fill="#fff" opacity="1"/>
<circle cx="350" cy="260" r="4" fill="#fff" opacity="1"/>
<circle cx="250" cy="240" r="4" fill="#fff" opacity="1"/>
<circle cx="180" cy="250" r="5" fill="#fff" opacity="1"/>
</g>
<g filter="url(#b1)" opacity="0.55"><path d="M60 110 Q200 200 320 240" stroke="#2a2a2a" stroke-width="14" fill="none"/></g>
</svg>
<svg x="326.1" y="756.7" width="43" height="59" viewBox="15 20 307 420" preserveAspectRatio="none" overflow="hidden">
<rect x="15" y="20" width="307" height="420" fill="#050505"/>
<rect x="15" y="20" width="307" height="420" fill="#0d0d0d"/>
<g filter="url(#b1)">
<path d="M170 50 C180 39.67,199.67 37.67,215 38 C230.33 38.33,254.83 40,262 52 C269.17 64,264.17 87,258 110 C251.83 133,235.5 163.33,225 190 C214.5 216.67,203.33 245,195 270 C186.67 295,179.5 320,175 340 C170.5 360,176.33 382.5,168 390 C159.67 397.5,136.33 395,125 385 C113.67 375,103.33 352.5,100 330 C96.67 307.5,100 276.67,105 250 C110 223.33,121.67 195,130 170 C138.33 145,148.33 120,155 100 C161.67 80,160 60.33,170 50Z" fill="#272727"/>
</g><g filter="url(#b0)">
<circle cx="205" cy="72" r="8.2" fill="#fff" opacity="1"/>
<circle cx="250" cy="62" r="6.2" fill="#fff" opacity="1"/>
<circle cx="220" cy="150" r="7.2" fill="#fff" opacity="1"/>
<circle cx="213" cy="170" r="5.2" fill="#fff" opacity="1"/>
<circle cx="165" cy="290" r="6.2" fill="#fff" opacity="1"/>
<circle cx="105" cy="345" r="7.2" fill="#fff" opacity="1"/>
<circle cx="155" cy="335" r="5.2" fill="#fff" opacity="1"/>
<circle cx="155" cy="375" r="6.2" fill="#fff" opacity="1"/>
<circle cx="170" cy="58" r="5.2" fill="#fff" opacity="1"/>
</g>
</svg>
<svg x="371.1" y="756.7" width="44.7" height="59" viewBox="336 20 319 420" preserveAspectRatio="none" overflow="hidden">
<rect x="336" y="20" width="319" height="420" fill="#050505"/>
<g filter="url(#b0)">
<path d="M398 295 C412 287,457.67 302,490 302 C522.33 302,575.33 287.83,592 295 C608.67 302.17,594 329.17,590 345 C586 360.83,576 378.83,568 390 C560 401.17,557.17 406.33,542 412 C526.83 417.67,494.5 425.67,477 424 C459.5 422.33,448.83 414.33,437 402 C425.17 389.67,412.5 367.83,406 350 C399.5 332.17,384 303,398 295Z" fill="#cfcfcf"/>
<path d="M400 80 C414.17 64.17,435 58,450 55 C465 52,475.83 62.83,490 62 C504.17 61.17,518.33 47,535 50 C551.67 53,575 61.67,590 80 C605 98.33,617.5 133.33,625 160 C632.5 186.67,637.5 217.5,635 240 C632.5 262.5,622.5 282.5,610 295 C597.5 307.5,579.17 313.33,560 315 C540.83 316.67,516.67 305,495 305 C473.33 305,449.5 316.67,430 315 C410.5 313.33,390.5 308.33,378 295 C365.5 281.67,357.17 259.17,355 235 C352.83 210.83,357.5 175.83,365 150 C372.5 124.17,385.83 95.83,400 80Z" fill="url(#brain)"/>
<path d="M492 75 L494 270" stroke="#c2c2c2" stroke-width="6" fill="none"/>
</g>
<g filter="url(#b1)"><path d="M400 310 Q490 290 590 308" stroke="#fff" stroke-width="10" fill="none" opacity="0.85"/>
<circle cx="440" cy="95" r="7" fill="#fff" opacity="0.9"/>
<circle cx="545" cy="160" r="8" fill="#fff" opacity="0.9"/>
<circle cx="420" cy="140" r="6" fill="#fff" opacity="0.9"/>
<circle cx="410" cy="260" r="5" fill="#fff" opacity="0.9"/>
<circle cx="425" cy="340" r="6" fill="#fff" opacity="0.9"/>
<circle cx="540" cy="100" r="5" fill="#fff" opacity="0.9"/>
</g>
</svg>
<rect x="420.9" y="687.2" width="6.2" height="85.8" fill="url(#cbar)" stroke="#9a9a9a" stroke-width="0.5"/>
<text x="0" y="0" font-size="8.6" font-weight="bold" fill="#f01010" text-anchor="middle" textLength="18.2" lengthAdjust="spacingAndGlyphs" transform="translate(427.6 675.5) rotate(-90)">High</text>
<text x="0" y="0" font-size="8.6" font-weight="bold" fill="#2a2af0" text-anchor="middle" textLength="15.9" lengthAdjust="spacingAndGlyphs" transform="translate(427.4 783.5) rotate(-90)">Low</text>
<!-- pj -->
<text x="16" y="834" font-size="15.5" font-weight="bold" fill="#000">j</text>
<rect x="85.6" y="897.3" width="13.45" height="1.7" fill="#f0c8f6" stroke="#8a18a8" stroke-width="0.8"/>
<line x1="92.32" y1="895" x2="92.32" y2="897.3" stroke="#111" stroke-width="0.9"/>
<line x1="89.32" y1="895" x2="95.32" y2="895" stroke="#111" stroke-width="0.9"/>
<circle cx="92.32" cy="890.5" r="1.1" fill="#8a1fb0"/>
<circle cx="91.32" cy="896.5" r="1.1" fill="#8a1fb0"/>
<circle cx="93.82" cy="897.5" r="1.1" fill="#8a1fb0"/>
<rect x="99.05" y="873.8" width="13.45" height="25.2" fill="#ad4fd3" stroke="#111" stroke-width="0.9"/>
<line x1="105.78" y1="847" x2="105.78" y2="873.8" stroke="#111" stroke-width="0.9"/>
<line x1="102.78" y1="847" x2="108.78" y2="847" stroke="#111" stroke-width="0.9"/>
<circle cx="103.78" cy="842.5" r="1.1" fill="#8a1fb0"/>
<circle cx="107.78" cy="842" r="1.1" fill="#8a1fb0"/>
<circle cx="106.28" cy="848" r="1.1" fill="#8a1fb0"/>
<circle cx="106.28" cy="870" r="1.1" fill="#8a1fb0"/>
<circle cx="105.78" cy="889" r="1.1" fill="#8a1fb0"/>
<circle cx="105.78" cy="893" r="1.1" fill="#8a1fb0"/>
<circle cx="105.78" cy="897" r="1.1" fill="#8a1fb0"/>
<rect x="112.5" y="898.3" width="13.45" height="0.7" fill="#c5c8f8" stroke="#4a5ee0" stroke-width="0.8"/>
<circle cx="116.22" cy="897.5" r="1.1" fill="#6a7af0"/>
<circle cx="119.22" cy="898" r="1.1" fill="#6a7af0"/>
<circle cx="122.22" cy="896.8" r="1.1" fill="#6a7af0"/>
<circle cx="124.22" cy="898" r="1.1" fill="#6a7af0"/>
<line x1="79.1" y1="838.8" x2="79.1" y2="855.3" stroke="#111" stroke-width="1.1"/>
<line x1="79.1" y1="860.3" x2="79.1" y2="899.5" stroke="#111" stroke-width="1.1"/>
<line x1="75.8" y1="839.5" x2="79.1" y2="839.5" stroke="#111" stroke-width="1.1"/>
<text x="74.3" y="842.27" font-size="7.7" font-weight="normal" fill="#111" text-anchor="end" textLength="11.95" lengthAdjust="spacingAndGlyphs">100</text>
<line x1="75.8" y1="850.9" x2="79.1" y2="850.9" stroke="#111" stroke-width="1.1"/>
<text x="74.3" y="853.67" font-size="7.7" font-weight="normal" fill="#111" text-anchor="end" textLength="7.96" lengthAdjust="spacingAndGlyphs">75</text>
<line x1="75.8" y1="863" x2="79.1" y2="863" stroke="#111" stroke-width="1.1"/>
<text x="74.3" y="865.77" font-size="7.7" font-weight="normal" fill="#111" text-anchor="end" textLength="7.96" lengthAdjust="spacingAndGlyphs">60</text>
<line x1="75.8" y1="872.1" x2="79.1" y2="872.1" stroke="#111" stroke-width="1.1"/>
<text x="74.3" y="874.87" font-size="7.7" font-weight="normal" fill="#111" text-anchor="end" textLength="7.96" lengthAdjust="spacingAndGlyphs">45</text>
<line x1="75.8" y1="881.2" x2="79.1" y2="881.2" stroke="#111" stroke-width="1.1"/>
<text x="74.3" y="883.97" font-size="7.7" font-weight="normal" fill="#111" text-anchor="end" textLength="7.96" lengthAdjust="spacingAndGlyphs">30</text>
<line x1="75.8" y1="889.9" x2="79.1" y2="889.9" stroke="#111" stroke-width="1.1"/>
<text x="74.3" y="892.67" font-size="7.7" font-weight="normal" fill="#111" text-anchor="end" textLength="7.96" lengthAdjust="spacingAndGlyphs">15</text>
<line x1="75.8" y1="899" x2="79.1" y2="899" stroke="#111" stroke-width="1.1"/>
<text x="74.3" y="901.77" font-size="7.7" font-weight="normal" fill="#111" text-anchor="end" textLength="3.98" lengthAdjust="spacingAndGlyphs">0</text>
<line x1="74.4" y1="855.3" x2="83.8" y2="855.3" stroke="#111" stroke-width="1.1"/>
<line x1="74.4" y1="860.3" x2="83.8" y2="860.3" stroke="#111" stroke-width="1.1"/>
<line x1="78.6" y1="899" x2="134.3" y2="899" stroke="#111" stroke-width="1.1"/>
<text x="69.5" y="832.8" font-size="7.5" font-weight="normal" fill="#1c1c1c" textLength="33.6" lengthAdjust="spacingAndGlyphs"><tspan font-style="italic">p</tspan><tspan> = 0.0064</tspan></text>
<text x="106.8" y="832.8" font-size="7.5" font-weight="normal" fill="#1c1c1c" textLength="33.6" lengthAdjust="spacingAndGlyphs"><tspan font-style="italic">p</tspan><tspan> = 0.0008</tspan></text>
<line x1="92.55" y1="835.9" x2="105.05" y2="835.9" stroke="#555" stroke-width="1"/>
<line x1="107.5" y1="835.9" x2="120" y2="835.9" stroke="#555" stroke-width="1"/>
<text x="0" y="0" font-size="9.2" font-weight="bold" fill="#000" text-anchor="middle" transform="translate(47.6 866.85) rotate(-90)">Lung BLI</text>
<text x="0" y="0" font-size="9.2" font-weight="bold" fill="#000" text-anchor="middle" textLength="70.5" lengthAdjust="spacingAndGlyphs" transform="translate(58.3 868.15) rotate(-90)"><tspan>(×10</tspan><tspan font-size="6.2" dy="-2.8">6</tspan><tspan dy="2.8"> p/s/cm</tspan><tspan font-size="6.2" dy="-2.8">2</tspan><tspan dy="2.8">/sr)</tspan></text>
<rect x="188.2" y="898.6" width="13.45" height="0.4" fill="#f0c8f6" stroke="#8a18a8" stroke-width="0.8"/>
<circle cx="194.92" cy="898.4" r="1.1" fill="#8a1fb0"/>
<rect x="201.65" y="869.4" width="13.45" height="29.6" fill="#ad4fd3" stroke="#111" stroke-width="0.9"/>
<line x1="208.38" y1="850" x2="208.38" y2="869.4" stroke="#111" stroke-width="0.9"/>
<line x1="205.38" y1="850" x2="211.38" y2="850" stroke="#111" stroke-width="0.9"/>
<circle cx="208.38" cy="841" r="1.1" fill="#8a1fb0"/>
<circle cx="208.88" cy="849" r="1.1" fill="#8a1fb0"/>
<circle cx="208.38" cy="856" r="1.1" fill="#8a1fb0"/>
<circle cx="208.38" cy="861" r="1.1" fill="#8a1fb0"/>
<circle cx="208.38" cy="897.5" r="1.1" fill="#8a1fb0"/>
<rect x="215.1" y="898.6" width="13.45" height="0.4" fill="#c5c8f8" stroke="#4a5ee0" stroke-width="0.8"/>
<circle cx="221.82" cy="898.2" r="1.1" fill="#6a7af0"/>
<circle cx="224.82" cy="898.4" r="1.1" fill="#6a7af0"/>
<line x1="181.3" y1="839" x2="181.3" y2="862" stroke="#111" stroke-width="1.1"/>
<line x1="181.3" y1="866" x2="181.3" y2="899.5" stroke="#111" stroke-width="1.1"/>
<line x1="178" y1="839.5" x2="181.3" y2="839.5" stroke="#111" stroke-width="1.1"/>
<text x="176.5" y="842.27" font-size="7.7" font-weight="normal" fill="#111" text-anchor="end" textLength="9.95" lengthAdjust="spacingAndGlyphs">4.5</text>
<line x1="178" y1="850.3" x2="181.3" y2="850.3" stroke="#111" stroke-width="1.1"/>
<text x="176.5" y="853.07" font-size="7.7" font-weight="normal" fill="#111" text-anchor="end" textLength="9.95" lengthAdjust="spacingAndGlyphs">3.0</text>
<line x1="178" y1="862" x2="181.3" y2="862" stroke="#111" stroke-width="1.1"/>
<text x="176.5" y="864.77" font-size="7.7" font-weight="normal" fill="#111" text-anchor="end" textLength="9.95" lengthAdjust="spacingAndGlyphs">1.5</text>
<line x1="178" y1="874.4" x2="181.3" y2="874.4" stroke="#111" stroke-width="1.1"/>
<text x="176.5" y="877.17" font-size="7.7" font-weight="normal" fill="#111" text-anchor="end" textLength="9.95" lengthAdjust="spacingAndGlyphs">1.0</text>
<line x1="178" y1="886.5" x2="181.3" y2="886.5" stroke="#111" stroke-width="1.1"/>
<text x="176.5" y="889.27" font-size="7.7" font-weight="normal" fill="#111" text-anchor="end" textLength="9.95" lengthAdjust="spacingAndGlyphs">0.5</text>
<line x1="178" y1="899" x2="181.3" y2="899" stroke="#111" stroke-width="1.1"/>
<text x="176.5" y="901.77" font-size="7.7" font-weight="normal" fill="#111" text-anchor="end" textLength="9.95" lengthAdjust="spacingAndGlyphs">0.0</text>
<line x1="176.6" y1="862" x2="186" y2="862" stroke="#111" stroke-width="1.1"/>
<line x1="176.6" y1="866" x2="186" y2="866" stroke="#111" stroke-width="1.1"/>
<line x1="180.8" y1="899" x2="236.5" y2="899" stroke="#111" stroke-width="1.1"/>
<text x="172.4" y="832.8" font-size="7.5" font-weight="normal" fill="#1c1c1c" textLength="33.6" lengthAdjust="spacingAndGlyphs"><tspan font-style="italic">p</tspan><tspan> = 0.0108</tspan></text>
<text x="210" y="832.8" font-size="7.5" font-weight="normal" fill="#1c1c1c" textLength="33.7" lengthAdjust="spacingAndGlyphs"><tspan font-style="italic">p</tspan><tspan> = 0.0405</tspan></text>
<line x1="195.15" y1="835.9" x2="207.65" y2="835.9" stroke="#555" stroke-width="1"/>
<line x1="210.1" y1="835.9" x2="222.6" y2="835.9" stroke="#555" stroke-width="1"/>
<text x="0" y="0" font-size="9.2" font-weight="bold" fill="#000" text-anchor="middle" transform="translate(150.2 866.95) rotate(-90)">Liver BLI</text>
<text x="0" y="0" font-size="9.2" font-weight="bold" fill="#000" text-anchor="middle" textLength="70.5" lengthAdjust="spacingAndGlyphs" transform="translate(161 868.25) rotate(-90)"><tspan>(×10</tspan><tspan font-size="6.2" dy="-2.8">6</tspan><tspan dy="2.8"> p/s/cm</tspan><tspan font-size="6.2" dy="-2.8">2</tspan><tspan dy="2.8">/sr)</tspan></text>
<rect x="290" y="898.2" width="13.3" height="0.8" fill="#f0c8f6" stroke="#8a18a8" stroke-width="0.8"/>
<line x1="296.65" y1="894" x2="296.65" y2="898.2" stroke="#111" stroke-width="0.9"/>
<line x1="293.65" y1="894" x2="299.65" y2="894" stroke="#111" stroke-width="0.9"/>
<circle cx="299.65" cy="886.5" r="1.1" fill="#8a1fb0"/>
<circle cx="296.65" cy="898" r="1.1" fill="#8a1fb0"/>
<rect x="303.3" y="865.4" width="13.3" height="33.6" fill="#ad4fd3" stroke="#111" stroke-width="0.9"/>
<line x1="309.95" y1="856" x2="309.95" y2="865.4" stroke="#111" stroke-width="0.9"/>
<line x1="306.95" y1="856" x2="312.95" y2="856" stroke="#111" stroke-width="0.9"/>
<circle cx="309.95" cy="848.5" r="1.1" fill="#8a1fb0"/>
<circle cx="309.95" cy="864" r="1.1" fill="#8a1fb0"/>
<circle cx="309.95" cy="896" r="1.1" fill="#8a1fb0"/>
<circle cx="310.95" cy="897.5" r="1.1" fill="#8a1fb0"/>
<rect x="316.6" y="898.4" width="13.3" height="0.6" fill="#c5c8f8" stroke="#4a5ee0" stroke-width="0.8"/>
<line x1="323.25" y1="895.5" x2="323.25" y2="898.4" stroke="#111" stroke-width="0.9"/>
<line x1="320.25" y1="895.5" x2="326.25" y2="895.5" stroke="#111" stroke-width="0.9"/>
<circle cx="326.25" cy="888.8" r="1.1" fill="#6a7af0"/>
<circle cx="323.25" cy="898.2" r="1.1" fill="#6a7af0"/>
<line x1="282.9" y1="839" x2="282.9" y2="868" stroke="#111" stroke-width="1.1"/>
<line x1="282.9" y1="872" x2="282.9" y2="899.5" stroke="#111" stroke-width="1.1"/>
<line x1="279.6" y1="839.5" x2="282.9" y2="839.5" stroke="#111" stroke-width="1.1"/>
<text x="278.1" y="842.27" font-size="7.7" font-weight="normal" fill="#111" text-anchor="end" textLength="11.95" lengthAdjust="spacingAndGlyphs">100</text>
<line x1="279.6" y1="847.6" x2="282.9" y2="847.6" stroke="#111" stroke-width="1.1"/>
<text x="278.1" y="850.37" font-size="7.7" font-weight="normal" fill="#111" text-anchor="end" textLength="7.96" lengthAdjust="spacingAndGlyphs">75</text>
<line x1="279.6" y1="854.6" x2="282.9" y2="854.6" stroke="#111" stroke-width="1.1"/>
<text x="278.1" y="857.37" font-size="7.7" font-weight="normal" fill="#111" text-anchor="end" textLength="7.96" lengthAdjust="spacingAndGlyphs">50</text>
<line x1="279.6" y1="862.7" x2="282.9" y2="862.7" stroke="#111" stroke-width="1.1"/>
<text x="278.1" y="865.47" font-size="7.7" font-weight="normal" fill="#111" text-anchor="end" textLength="7.96" lengthAdjust="spacingAndGlyphs">25</text>
<line x1="279.6" y1="876.1" x2="282.9" y2="876.1" stroke="#111" stroke-width="1.1"/>
<text x="278.1" y="878.87" font-size="7.7" font-weight="normal" fill="#111" text-anchor="end" textLength="3.98" lengthAdjust="spacingAndGlyphs">6</text>
<line x1="279.6" y1="887.9" x2="282.9" y2="887.9" stroke="#111" stroke-width="1.1"/>
<text x="278.1" y="890.67" font-size="7.7" font-weight="normal" fill="#111" text-anchor="end" textLength="3.98" lengthAdjust="spacingAndGlyphs">3</text>
<line x1="279.6" y1="899" x2="282.9" y2="899" stroke="#111" stroke-width="1.1"/>
<text x="278.1" y="901.77" font-size="7.7" font-weight="normal" fill="#111" text-anchor="end" textLength="3.98" lengthAdjust="spacingAndGlyphs">0</text>
<line x1="278.2" y1="868" x2="287.6" y2="868" stroke="#111" stroke-width="1.1"/>
<line x1="278.2" y1="872" x2="287.6" y2="872" stroke="#111" stroke-width="1.1"/>
<line x1="282.4" y1="899" x2="338.3" y2="899" stroke="#111" stroke-width="1.1"/>
<text x="273.9" y="833.5" font-size="7.5" font-weight="normal" fill="#1c1c1c" textLength="33.6" lengthAdjust="spacingAndGlyphs"><tspan font-style="italic">p</tspan><tspan> = 0.0235</tspan></text>
<text x="311.5" y="833.5" font-size="7.5" font-weight="normal" fill="#1c1c1c" textLength="33.5" lengthAdjust="spacingAndGlyphs"><tspan font-style="italic">p</tspan><tspan> = 0.0182</tspan></text>
<line x1="296.8" y1="836.6" x2="309.3" y2="836.6" stroke="#555" stroke-width="1"/>
<line x1="311.6" y1="836.6" x2="324.1" y2="836.6" stroke="#555" stroke-width="1"/>
<text x="0" y="0" font-size="9.2" font-weight="bold" fill="#000" text-anchor="middle" transform="translate(253.3 866.95) rotate(-90)">PTC BLI</text>
<text x="0" y="0" font-size="9.2" font-weight="bold" fill="#000" text-anchor="middle" textLength="70.5" lengthAdjust="spacingAndGlyphs" transform="translate(264 868.25) rotate(-90)"><tspan>(×10</tspan><tspan font-size="6.2" dy="-2.8">6</tspan><tspan dy="2.8"> p/s/cm</tspan><tspan font-size="6.2" dy="-2.8">2</tspan><tspan dy="2.8">/sr)</tspan></text>
<rect x="85.6" y="978" width="13.45" height="1.5" fill="#f0c8f6" stroke="#8a18a8" stroke-width="0.8"/>
<line x1="92.32" y1="976.5" x2="92.32" y2="978" stroke="#111" stroke-width="0.9"/>
<line x1="89.32" y1="976.5" x2="95.32" y2="976.5" stroke="#111" stroke-width="0.9"/>
<circle cx="93.32" cy="973" r="1.1" fill="#8a1fb0"/>
<circle cx="91.32" cy="978.5" r="1.1" fill="#8a1fb0"/>
<circle cx="94.32" cy="978" r="1.1" fill="#8a1fb0"/>
<rect x="99.05" y="942.6" width="13.45" height="36.9" fill="#ad4fd3" stroke="#111" stroke-width="0.9"/>
<line x1="105.78" y1="929.5" x2="105.78" y2="942.6" stroke="#111" stroke-width="0.9"/>
<line x1="102.78" y1="929.5" x2="108.78" y2="929.5" stroke="#111" stroke-width="0.9"/>
<circle cx="103.78" cy="921" r="1.1" fill="#8a1fb0"/>
<circle cx="107.78" cy="922.5" r="1.1" fill="#8a1fb0"/>
<circle cx="106.28" cy="944" r="1.1" fill="#8a1fb0"/>
<circle cx="106.28" cy="961" r="1.1" fill="#8a1fb0"/>
<circle cx="105.78" cy="970" r="1.1" fill="#8a1fb0"/>
<circle cx="105.78" cy="975" r="1.1" fill="#8a1fb0"/>
<circle cx="105.78" cy="978" r="1.1" fill="#8a1fb0"/>
<rect x="112.5" y="978.5" width="13.45" height="1" fill="#c5c8f8" stroke="#4a5ee0" stroke-width="0.8"/>
<line x1="119.22" y1="977.3" x2="119.22" y2="978.5" stroke="#111" stroke-width="0.9"/>
<line x1="116.22" y1="977.3" x2="122.22" y2="977.3" stroke="#111" stroke-width="0.9"/>
<circle cx="116.22" cy="978.5" r="1.1" fill="#6a7af0"/>
<circle cx="120.22" cy="977.8" r="1.1" fill="#6a7af0"/>
<circle cx="123.22" cy="978.3" r="1.1" fill="#6a7af0"/>
<rect x="80.1" y="948.3" width="53.2" height="3.7" fill="#fff"/>
<line x1="79.1" y1="918.6" x2="79.1" y2="947" stroke="#111" stroke-width="1.1"/>
<line x1="79.1" y1="952" x2="79.1" y2="980" stroke="#111" stroke-width="1.1"/>
<line x1="75.8" y1="919.1" x2="79.1" y2="919.1" stroke="#111" stroke-width="1.1"/>
<text x="74.3" y="921.87" font-size="7.7" font-weight="normal" fill="#111" text-anchor="end" textLength="11.42" lengthAdjust="spacingAndGlyphs">110</text>
<line x1="75.8" y1="928.2" x2="79.1" y2="928.2" stroke="#111" stroke-width="1.1"/>
<text x="74.3" y="930.97" font-size="7.7" font-weight="normal" fill="#111" text-anchor="end" textLength="7.96" lengthAdjust="spacingAndGlyphs">80</text>
<line x1="75.8" y1="936.9" x2="79.1" y2="936.9" stroke="#111" stroke-width="1.1"/>
<text x="74.3" y="939.67" font-size="7.7" font-weight="normal" fill="#111" text-anchor="end" textLength="7.96" lengthAdjust="spacingAndGlyphs">50</text>
<line x1="75.8" y1="945.3" x2="79.1" y2="945.3" stroke="#111" stroke-width="1.1"/>
<text x="74.3" y="948.07" font-size="7.7" font-weight="normal" fill="#111" text-anchor="end" textLength="7.96" lengthAdjust="spacingAndGlyphs">20</text>
<line x1="75.8" y1="955" x2="79.1" y2="955" stroke="#111" stroke-width="1.1"/>
<text x="74.3" y="957.77" font-size="7.7" font-weight="normal" fill="#111" text-anchor="end" textLength="3.98" lengthAdjust="spacingAndGlyphs">8</text>
<line x1="75.8" y1="967.1" x2="79.1" y2="967.1" stroke="#111" stroke-width="1.1"/>
<text x="74.3" y="969.87" font-size="7.7" font-weight="normal" fill="#111" text-anchor="end" textLength="3.98" lengthAdjust="spacingAndGlyphs">4</text>
<line x1="75.8" y1="979.5" x2="79.1" y2="979.5" stroke="#111" stroke-width="1.1"/>
<text x="74.3" y="982.27" font-size="7.7" font-weight="normal" fill="#111" text-anchor="end" textLength="3.98" lengthAdjust="spacingAndGlyphs">0</text>
<line x1="74.4" y1="947" x2="83.8" y2="947" stroke="#111" stroke-width="1.1"/>
<line x1="74.4" y1="952" x2="83.8" y2="952" stroke="#111" stroke-width="1.1"/>
<line x1="78.6" y1="979.5" x2="134.3" y2="979.5" stroke="#111" stroke-width="1.1"/>
<text x="69.5" y="915.1" font-size="7.5" font-weight="normal" fill="#1c1c1c" textLength="33.6" lengthAdjust="spacingAndGlyphs"><tspan font-style="italic">p</tspan><tspan> = 0.0041</tspan></text>
<text x="106.8" y="915.1" font-size="7.5" font-weight="normal" fill="#1c1c1c" textLength="33.6" lengthAdjust="spacingAndGlyphs"><tspan font-style="italic">p</tspan><tspan> = 0.0011</tspan></text>
<line x1="92.55" y1="918.2" x2="105.05" y2="918.2" stroke="#555" stroke-width="1"/>
<line x1="107.5" y1="918.2" x2="120" y2="918.2" stroke="#555" stroke-width="1"/>
<text x="0" y="0" font-size="9.2" font-weight="bold" fill="#000" text-anchor="middle" transform="translate(47.6 947) rotate(-90)">ATC BLI</text>
<text x="0" y="0" font-size="9.2" font-weight="bold" fill="#000" text-anchor="middle" textLength="70.5" lengthAdjust="spacingAndGlyphs" transform="translate(58.3 948.3) rotate(-90)"><tspan>(×10</tspan><tspan font-size="6.2" dy="-2.8">6</tspan><tspan dy="2.8"> p/s/cm</tspan><tspan font-size="6.2" dy="-2.8">2</tspan><tspan dy="2.8">/sr)</tspan></text>
<rect x="188.2" y="979" width="13.45" height="0.5" fill="#f0c8f6" stroke="#8a18a8" stroke-width="0.8"/>
<circle cx="194.92" cy="978.9" r="1.1" fill="#8a1fb0"/>
<rect x="201.65" y="963.8" width="13.45" height="15.7" fill="#ad4fd3" stroke="#111" stroke-width="0.9"/>
<line x1="208.38" y1="933.5" x2="208.38" y2="963.8" stroke="#111" stroke-width="0.9"/>
<line x1="205.38" y1="933.5" x2="211.38" y2="933.5" stroke="#111" stroke-width="0.9"/>
<circle cx="208.38" cy="924.5" r="1.1" fill="#8a1fb0"/>
<circle cx="208.38" cy="941" r="1.1" fill="#8a1fb0"/>
<circle cx="208.38" cy="978.2" r="1.1" fill="#8a1fb0"/>
<rect x="215.1" y="979" width="13.45" height="0.5" fill="#c5c8f8" stroke="#4a5ee0" stroke-width="0.8"/>
<circle cx="221.82" cy="978.9" r="1.1" fill="#6a7af0"/>
<circle cx="224.82" cy="978.7" r="1.1" fill="#6a7af0"/>
<line x1="181.3" y1="919.6" x2="181.3" y2="936.6" stroke="#111" stroke-width="1.1"/>
<line x1="181.3" y1="940.9" x2="181.3" y2="980" stroke="#111" stroke-width="1.1"/>
<line x1="178" y1="920.1" x2="181.3" y2="920.1" stroke="#111" stroke-width="1.1"/>
<text x="176.5" y="922.87" font-size="7.7" font-weight="normal" fill="#111" text-anchor="end" textLength="9.95" lengthAdjust="spacingAndGlyphs">0.6</text>
<line x1="178" y1="931.5" x2="181.3" y2="931.5" stroke="#111" stroke-width="1.1"/>
<text x="176.5" y="934.27" font-size="7.7" font-weight="normal" fill="#111" text-anchor="end" textLength="9.95" lengthAdjust="spacingAndGlyphs">0.3</text>
<line x1="178" y1="952" x2="181.3" y2="952" stroke="#111" stroke-width="1.1"/>
<text x="176.5" y="954.77" font-size="7.7" font-weight="normal" fill="#111" text-anchor="end" textLength="13.94" lengthAdjust="spacingAndGlyphs">0.10</text>
<line x1="178" y1="966.1" x2="181.3" y2="966.1" stroke="#111" stroke-width="1.1"/>
<text x="176.5" y="968.87" font-size="7.7" font-weight="normal" fill="#111" text-anchor="end" textLength="13.94" lengthAdjust="spacingAndGlyphs">0.05</text>
<line x1="178" y1="979.5" x2="181.3" y2="979.5" stroke="#111" stroke-width="1.1"/>
<text x="176.5" y="982.27" font-size="7.7" font-weight="normal" fill="#111" text-anchor="end" textLength="13.94" lengthAdjust="spacingAndGlyphs">0.00</text>
<line x1="176.6" y1="936.6" x2="186" y2="936.6" stroke="#111" stroke-width="1.1"/>
<line x1="176.6" y1="940.9" x2="186" y2="940.9" stroke="#111" stroke-width="1.1"/>
<line x1="180.8" y1="979.5" x2="236.5" y2="979.5" stroke="#111" stroke-width="1.1"/>
<text x="172.4" y="915.1" font-size="7.5" font-weight="normal" fill="#1c1c1c" textLength="33.6" lengthAdjust="spacingAndGlyphs"><tspan font-style="italic">p</tspan><tspan> = 0.3264</tspan></text>
<text x="210" y="915.1" font-size="7.5" font-weight="normal" fill="#1c1c1c" textLength="33.7" lengthAdjust="spacingAndGlyphs"><tspan font-style="italic">p</tspan><tspan> = 0.3264</tspan></text>
<line x1="195.15" y1="918.2" x2="207.65" y2="918.2" stroke="#555" stroke-width="1"/>
<line x1="210.1" y1="918.2" x2="222.6" y2="918.2" stroke="#555" stroke-width="1"/>
<text x="0" y="0" font-size="9.2" font-weight="bold" fill="#000" text-anchor="middle" transform="translate(150.2 947.5) rotate(-90)">Spleen BLI</text>
<text x="0" y="0" font-size="9.2" font-weight="bold" fill="#000" text-anchor="middle" textLength="70.5" lengthAdjust="spacingAndGlyphs" transform="translate(161 948.8) rotate(-90)"><tspan>(×10</tspan><tspan font-size="6.2" dy="-2.8">6</tspan><tspan dy="2.8"> p/s/cm</tspan><tspan font-size="6.2" dy="-2.8">2</tspan><tspan dy="2.8">/sr)</tspan></text>
<rect x="290" y="979.1" width="13.3" height="0.4" fill="#f0c8f6" stroke="#8a18a8" stroke-width="0.8"/>
<circle cx="296.65" cy="979" r="1.1" fill="#8a1fb0"/>
<rect x="303.3" y="971.1" width="13.3" height="8.4" fill="#ad4fd3" stroke="#111" stroke-width="0.9"/>
<line x1="309.95" y1="954.5" x2="309.95" y2="971.1" stroke="#111" stroke-width="0.9"/>
<line x1="306.95" y1="954.5" x2="312.95" y2="954.5" stroke="#111" stroke-width="0.9"/>
<circle cx="309.95" cy="934.3" r="1.1" fill="#8a1fb0"/>
<circle cx="309.95" cy="958.5" r="1.1" fill="#8a1fb0"/>
<circle cx="309.95" cy="978.5" r="1.1" fill="#8a1fb0"/>
<rect x="316.6" y="979.1" width="13.3" height="0.4" fill="#c5c8f8" stroke="#4a5ee0" stroke-width="0.8"/>
<circle cx="323.25" cy="979" r="1.1" fill="#6a7af0"/>
<line x1="282.9" y1="919.6" x2="282.9" y2="980" stroke="#111" stroke-width="1.1"/>
<line x1="279.6" y1="920.1" x2="282.9" y2="920.1" stroke="#111" stroke-width="1.1"/>
<text x="278.1" y="922.87" font-size="7.7" font-weight="normal" fill="#111" text-anchor="end" textLength="3.98" lengthAdjust="spacingAndGlyphs">4</text>
<line x1="279.6" y1="934.9" x2="282.9" y2="934.9" stroke="#111" stroke-width="1.1"/>
<text x="278.1" y="937.67" font-size="7.7" font-weight="normal" fill="#111" text-anchor="end" textLength="3.98" lengthAdjust="spacingAndGlyphs">3</text>
<line x1="279.6" y1="950" x2="282.9" y2="950" stroke="#111" stroke-width="1.1"/>
<text x="278.1" y="952.77" font-size="7.7" font-weight="normal" fill="#111" text-anchor="end" textLength="3.98" lengthAdjust="spacingAndGlyphs">2</text>
<line x1="279.6" y1="964.8" x2="282.9" y2="964.8" stroke="#111" stroke-width="1.1"/>
<text x="278.1" y="967.57" font-size="7.7" font-weight="normal" fill="#111" text-anchor="end" textLength="3.98" lengthAdjust="spacingAndGlyphs">1</text>
<line x1="279.6" y1="979.5" x2="282.9" y2="979.5" stroke="#111" stroke-width="1.1"/>
<text x="278.1" y="982.27" font-size="7.7" font-weight="normal" fill="#111" text-anchor="end" textLength="3.98" lengthAdjust="spacingAndGlyphs">0</text>
<line x1="282.4" y1="979.5" x2="338.3" y2="979.5" stroke="#111" stroke-width="1.1"/>
<text x="273.9" y="915.1" font-size="7.5" font-weight="normal" fill="#1c1c1c" textLength="33.6" lengthAdjust="spacingAndGlyphs"><tspan font-style="italic">p</tspan><tspan> = 0.0245</tspan></text>
<text x="311.5" y="915.1" font-size="7.5" font-weight="normal" fill="#1c1c1c" textLength="33.5" lengthAdjust="spacingAndGlyphs"><tspan font-style="italic">p</tspan><tspan> = 0.0245</tspan></text>
<line x1="296.8" y1="918.2" x2="309.3" y2="918.2" stroke="#555" stroke-width="1"/>
<line x1="311.6" y1="918.2" x2="324.1" y2="918.2" stroke="#555" stroke-width="1"/>
<text x="0" y="0" font-size="9.2" font-weight="bold" fill="#000" text-anchor="middle" transform="translate(253.3 947.5) rotate(-90)">Brain BLI</text>
<text x="0" y="0" font-size="9.2" font-weight="bold" fill="#000" text-anchor="middle" textLength="70.5" lengthAdjust="spacingAndGlyphs" transform="translate(264 948.8) rotate(-90)"><tspan>(×10</tspan><tspan font-size="6.2" dy="-2.8">6</tspan><tspan dy="2.8"> p/s/cm</tspan><tspan font-size="6.2" dy="-2.8">2</tspan><tspan dy="2.8">/sr)</tspan></text>
<rect x="340.3" y="853.5" width="72.2" height="34.8" fill="#fff" stroke="#444" stroke-width="1"/>
<rect x="345.5" y="858.2" width="5.8" height="5.8" fill="#f0c8f6" stroke="#222" stroke-width="0.9"/>
<text x="354" y="864.4" font-size="8.6" font-weight="bold" fill="#000" textLength="38.1" lengthAdjust="spacingAndGlyphs"><tspan>Veh/</tspan><tspan fill="#b85adf">HCD</tspan></text>
<rect x="345.5" y="868.35" width="5.8" height="5.8" fill="#ad4fd3" stroke="#222" stroke-width="0.9"/>
<text x="354" y="874.55" font-size="8.6" font-weight="bold" fill="#000" textLength="34.9" lengthAdjust="spacingAndGlyphs"><tspan>NB/</tspan><tspan fill="#b85adf">HCD</tspan></text>
<rect x="345.5" y="878.5" width="5.8" height="5.8" fill="#c5c8f8" stroke="#555" stroke-width="0.9"/>
<text x="354" y="884.7" font-size="8.6" font-weight="bold" fill="#000" textLength="51.9" lengthAdjust="spacingAndGlyphs"><tspan>NB/</tspan><tspan fill="#b85adf">HCD</tspan><tspan>/</tspan><tspan fill="#4a1ff0">Cld</tspan></text>
<rect x="340.3" y="931.9" width="72.2" height="34.8" fill="#fff" stroke="#444" stroke-width="1"/>
<rect x="345.5" y="936.6" width="5.8" height="5.8" fill="#f0c8f6" stroke="#222" stroke-width="0.9"/>
<text x="354" y="942.8" font-size="8.6" font-weight="bold" fill="#000" textLength="38.1" lengthAdjust="spacingAndGlyphs"><tspan>Veh/</tspan><tspan fill="#b85adf">HCD</tspan></text>
<rect x="345.5" y="946.75" width="5.8" height="5.8" fill="#ad4fd3" stroke="#222" stroke-width="0.9"/>
<text x="354" y="952.95" font-size="8.6" font-weight="bold" fill="#000" textLength="34.9" lengthAdjust="spacingAndGlyphs"><tspan>NB/</tspan><tspan fill="#b85adf">HCD</tspan></text>
<rect x="345.5" y="956.9" width="5.8" height="5.8" fill="#c5c8f8" stroke="#555" stroke-width="0.9"/>
<text x="354" y="963.1" font-size="8.6" font-weight="bold" fill="#000" textLength="51.9" lengthAdjust="spacingAndGlyphs"><tspan>NB/</tspan><tspan fill="#b85adf">HCD</tspan><tspan>/</tspan><tspan fill="#4a1ff0">Cld</tspan></text>
<!-- pk -->
<text x="455" y="633.2" font-size="15.5" font-weight="bold" fill="#000">k</text>
<rect x="487.6" y="622.5" width="167" height="13.3" fill="#fff" stroke="#333" stroke-width="0.9"/>
<rect x="491.9" y="626.3" width="5.3" height="5.3" fill="#f0c8f6" stroke="#222" stroke-width="0.9"/>
<text x="499" y="632.2" font-size="8.2" font-weight="bold" fill="#000" textLength="38.3" lengthAdjust="spacingAndGlyphs"><tspan>Veh/</tspan><tspan fill="#b85adf">HCD</tspan></text>
<rect x="543" y="626.3" width="5.3" height="5.3" fill="#ad4fd3" stroke="#222" stroke-width="0.9"/>
<text x="549.8" y="632.2" font-size="8.2" font-weight="bold" fill="#000" textLength="35" lengthAdjust="spacingAndGlyphs"><tspan>NB/</tspan><tspan fill="#b85adf">HCD</tspan></text>
<rect x="589.5" y="626.3" width="5.3" height="5.3" fill="#c5c8f8" stroke="#444" stroke-width="0.9"/>
<text x="597.4" y="632.2" font-size="8.2" font-weight="bold" fill="#000" textLength="52.6" lengthAdjust="spacingAndGlyphs"><tspan>NB/</tspan><tspan fill="#b85adf">HCD</tspan><tspan>/</tspan><tspan fill="#4a1ff0">Cld</tspan></text>
<rect x="455.3" y="662.2" width="10.1" height="58.8" fill="#a6d3ee"/>
<text x="0" y="0" font-size="9.2" font-weight="bold" fill="#000" text-anchor="middle" transform="translate(463.4 691.6) rotate(-90)">Lung</text>
<rect x="455.3" y="753.4" width="10.1" height="57.8" fill="#c9c2f7"/>
<text x="0" y="0" font-size="9.2" font-weight="bold" fill="#000" text-anchor="middle" transform="translate(463.4 782.3) rotate(-90)">Liver</text>
<text x="0" y="0" font-size="9.2" font-weight="bold" fill="#000" text-anchor="middle" transform="translate(479.5 691.5) rotate(-90)">Tumor</text>
<text x="0" y="0" font-size="9.2" font-weight="bold" fill="#000" text-anchor="middle" textLength="47" lengthAdjust="spacingAndGlyphs" transform="translate(489.6 691.5) rotate(-90)">multiplicity</text>
<text x="0" y="0" font-size="9.2" font-weight="bold" fill="#000" text-anchor="middle" textLength="57.5" lengthAdjust="spacingAndGlyphs" transform="translate(577.5 691.5) rotate(-90)">Tumor burden</text>
<text x="0" y="0" font-size="9.2" font-weight="bold" fill="#000" text-anchor="middle" transform="translate(587.4 691.5) rotate(-90)"><tspan>(mm</tspan><tspan font-size="5.6" dy="-2.8">3</tspan><tspan dy="2.8">)</tspan></text>
<text x="0" y="0" font-size="9.2" font-weight="bold" fill="#000" text-anchor="middle" transform="translate(479.5 782.5) rotate(-90)">Tumor</text>
<text x="0" y="0" font-size="9.2" font-weight="bold" fill="#000" text-anchor="middle" textLength="47" lengthAdjust="spacingAndGlyphs" transform="translate(489.6 782.5) rotate(-90)">multiplicity</text>
<text x="0" y="0" font-size="9.2" font-weight="bold" fill="#000" text-anchor="middle" textLength="57.5" lengthAdjust="spacingAndGlyphs" transform="translate(577.5 782.5) rotate(-90)">Tumor burden</text>
<text x="0" y="0" font-size="9.2" font-weight="bold" fill="#000" text-anchor="middle" transform="translate(587.4 782.5) rotate(-90)"><tspan>(mm</tspan><tspan font-size="5.6" dy="-2.8">3</tspan><tspan dy="2.8">)</tspan></text>
<rect x="510.8" y="706" width="13" height="15" fill="#f0c8f6" stroke="#111" stroke-width="0.9"/>
<line x1="517.3" y1="687.4" x2="517.3" y2="706" stroke="#111" stroke-width="0.9"/>
<line x1="514.1" y1="687.4" x2="520.5" y2="687.4" stroke="#111" stroke-width="0.9"/>
<circle cx="515.3" cy="679" r="1" fill="#8a1fb0"/>
<circle cx="519.3" cy="679" r="1" fill="#8a1fb0"/>
<circle cx="515.3" cy="715" r="1" fill="#8a1fb0"/>
<circle cx="519.3" cy="715" r="1" fill="#8a1fb0"/>
<circle cx="517.3" cy="720.4" r="1" fill="#8a1fb0"/>
<circle cx="520.3" cy="720.4" r="1" fill="#8a1fb0"/>
<rect x="523.8" y="681.4" width="14.2" height="39.6" fill="#ad4fd3" stroke="#111" stroke-width="0.9"/>
<line x1="530.9" y1="665.8" x2="530.9" y2="681.4" stroke="#111" stroke-width="0.9"/>
<line x1="527.7" y1="665.8" x2="534.1" y2="665.8" stroke="#111" stroke-width="0.9"/>
<circle cx="527.9" cy="667" r="1" fill="#8a1fb0"/>
<circle cx="530.9" cy="667" r="1" fill="#8a1fb0"/>
<circle cx="533.9" cy="667" r="1" fill="#8a1fb0"/>
<circle cx="531.9" cy="679" r="1" fill="#8a1fb0"/>
<circle cx="532.9" cy="685" r="1" fill="#8a1fb0"/>
<circle cx="529.9" cy="685" r="1" fill="#8a1fb0"/>
<circle cx="530.9" cy="697" r="1" fill="#8a1fb0"/>
<circle cx="530.9" cy="709" r="1" fill="#8a1fb0"/>
<rect x="538" y="714.4" width="13" height="6.6" fill="#c5c8f8" stroke="#111" stroke-width="0.9"/>
<line x1="544.5" y1="705.4" x2="544.5" y2="714.4" stroke="#111" stroke-width="0.9"/>
<line x1="541.3" y1="705.4" x2="547.7" y2="705.4" stroke="#111" stroke-width="0.9"/>
<circle cx="544.5" cy="697" r="1" fill="#6a7af0"/>
<circle cx="544.5" cy="703" r="1" fill="#6a7af0"/>
<circle cx="542.5" cy="715" r="1" fill="#6a7af0"/>
<circle cx="546.5" cy="715" r="1" fill="#6a7af0"/>
<circle cx="544.5" cy="720.4" r="1" fill="#6a7af0"/>
<circle cx="547.5" cy="720.4" r="1" fill="#6a7af0"/>
<line x1="503.3" y1="660.6" x2="503.3" y2="721.5" stroke="#111" stroke-width="1.1"/>
<line x1="500" y1="661.1" x2="503.3" y2="661.1" stroke="#111" stroke-width="1.1"/>
<text x="498.5" y="663.87" font-size="7.7" font-weight="normal" fill="#111" text-anchor="end" textLength="7.96" lengthAdjust="spacingAndGlyphs">10</text>
<line x1="500" y1="673.08" x2="503.3" y2="673.08" stroke="#111" stroke-width="1.1"/>
<text x="498.5" y="675.85" font-size="7.7" font-weight="normal" fill="#111" text-anchor="end" textLength="3.98" lengthAdjust="spacingAndGlyphs">8</text>
<line x1="500" y1="685.06" x2="503.3" y2="685.06" stroke="#111" stroke-width="1.1"/>
<text x="498.5" y="687.83" font-size="7.7" font-weight="normal" fill="#111" text-anchor="end" textLength="3.98" lengthAdjust="spacingAndGlyphs">6</text>
<line x1="500" y1="697.04" x2="503.3" y2="697.04" stroke="#111" stroke-width="1.1"/>
<text x="498.5" y="699.81" font-size="7.7" font-weight="normal" fill="#111" text-anchor="end" textLength="3.98" lengthAdjust="spacingAndGlyphs">4</text>
<line x1="500" y1="709.02" x2="503.3" y2="709.02" stroke="#111" stroke-width="1.1"/>
<text x="498.5" y="711.79" font-size="7.7" font-weight="normal" fill="#111" text-anchor="end" textLength="3.98" lengthAdjust="spacingAndGlyphs">2</text>
<line x1="500" y1="721" x2="503.3" y2="721" stroke="#111" stroke-width="1.1"/>
<text x="498.5" y="723.77" font-size="7.7" font-weight="normal" fill="#111" text-anchor="end" textLength="3.98" lengthAdjust="spacingAndGlyphs">0</text>
<line x1="502.8" y1="721" x2="559.6" y2="721" stroke="#111" stroke-width="1.1"/>
<text x="494" y="654.8" font-size="7.5" font-weight="normal" fill="#1c1c1c" textLength="33.5" lengthAdjust="spacingAndGlyphs"><tspan font-style="italic">p</tspan><tspan> = 0.0242</tspan></text>
<text x="531.6" y="654.8" font-size="7.5" font-weight="normal" fill="#1c1c1c" textLength="33.2" lengthAdjust="spacingAndGlyphs"><tspan font-style="italic">p</tspan><tspan> = 0.0019</tspan></text>
<line x1="516.8" y1="657.8" x2="528.8" y2="657.8" stroke="#555" stroke-width="1"/>
<line x1="532.4" y1="657.8" x2="544.3" y2="657.8" stroke="#555" stroke-width="1"/>
<rect x="612.4" y="711.7" width="13.8" height="9.3" fill="#f0c8f6" stroke="#111" stroke-width="0.9"/>
<line x1="619.3" y1="698" x2="619.3" y2="711.7" stroke="#111" stroke-width="0.9"/>
<line x1="616.1" y1="698" x2="622.5" y2="698" stroke="#111" stroke-width="0.9"/>
<circle cx="619.3" cy="685.5" r="1" fill="#8a1fb0"/>
<circle cx="619.3" cy="697" r="1" fill="#8a1fb0"/>
<circle cx="617.3" cy="715" r="1" fill="#8a1fb0"/>
<circle cx="621.3" cy="715" r="1" fill="#8a1fb0"/>
<circle cx="619.3" cy="720.5" r="1" fill="#8a1fb0"/>
<rect x="626.2" y="675.3" width="14.2" height="45.7" fill="#ad4fd3" stroke="#111" stroke-width="0.9"/>
<line x1="633.3" y1="668.3" x2="633.3" y2="675.3" stroke="#111" stroke-width="0.9"/>
<line x1="630.1" y1="668.3" x2="636.5" y2="668.3" stroke="#111" stroke-width="0.9"/>
<circle cx="633.3" cy="664.5" r="1" fill="#8a1fb0"/>
<circle cx="631.3" cy="669" r="1" fill="#8a1fb0"/>
<circle cx="635.3" cy="669.5" r="1" fill="#8a1fb0"/>
<circle cx="633.3" cy="675" r="1" fill="#8a1fb0"/>
<circle cx="631.3" cy="705" r="1" fill="#8a1fb0"/>
<circle cx="635.3" cy="705" r="1" fill="#8a1fb0"/>
<circle cx="633.3" cy="718" r="1" fill="#8a1fb0"/>
<rect x="640.4" y="716.2" width="13" height="4.8" fill="#c5c8f8" stroke="#111" stroke-width="0.9"/>
<line x1="646.9" y1="703.5" x2="646.9" y2="716.2" stroke="#111" stroke-width="0.9"/>
<line x1="643.7" y1="703.5" x2="650.1" y2="703.5" stroke="#111" stroke-width="0.9"/>
<circle cx="646.9" cy="689" r="1" fill="#6a7af0"/>
<circle cx="646.9" cy="696.5" r="1" fill="#6a7af0"/>
<circle cx="646.9" cy="720" r="1" fill="#6a7af0"/>
<circle cx="649.9" cy="720.5" r="1" fill="#6a7af0"/>
<rect x="607.4" y="678.3" width="51.2" height="3.2" fill="#fff"/>
<line x1="606.4" y1="660.6" x2="606.4" y2="677.9" stroke="#111" stroke-width="1.1"/>
<line x1="606.4" y1="681.6" x2="606.4" y2="721.5" stroke="#111" stroke-width="1.1"/>
<line x1="603.1" y1="661.1" x2="606.4" y2="661.1" stroke="#111" stroke-width="1.1"/>
<text x="601.6" y="663.87" font-size="7.7" font-weight="normal" fill="#111" text-anchor="end" textLength="15.93" lengthAdjust="spacingAndGlyphs">1000</text>
<line x1="603.1" y1="673.4" x2="606.4" y2="673.4" stroke="#111" stroke-width="1.1"/>
<text x="601.6" y="676.17" font-size="7.7" font-weight="normal" fill="#111" text-anchor="end" textLength="11.95" lengthAdjust="spacingAndGlyphs">500</text>
<line x1="603.1" y1="683.5" x2="606.4" y2="683.5" stroke="#111" stroke-width="1.1"/>
<text x="601.6" y="686.27" font-size="7.7" font-weight="normal" fill="#111" text-anchor="end" textLength="11.95" lengthAdjust="spacingAndGlyphs">300</text>
<line x1="603.1" y1="696.1" x2="606.4" y2="696.1" stroke="#111" stroke-width="1.1"/>
<text x="601.6" y="698.87" font-size="7.7" font-weight="normal" fill="#111" text-anchor="end" textLength="11.95" lengthAdjust="spacingAndGlyphs">200</text>
<line x1="603.1" y1="708.8" x2="606.4" y2="708.8" stroke="#111" stroke-width="1.1"/>
<text x="601.6" y="711.57" font-size="7.7" font-weight="normal" fill="#111" text-anchor="end" textLength="11.95" lengthAdjust="spacingAndGlyphs">100</text>
<line x1="603.1" y1="721" x2="606.4" y2="721" stroke="#111" stroke-width="1.1"/>
<text x="601.6" y="723.77" font-size="7.7" font-weight="normal" fill="#111" text-anchor="end" textLength="3.98" lengthAdjust="spacingAndGlyphs">0</text>
<line x1="601.7" y1="677.9" x2="611.1" y2="677.9" stroke="#111" stroke-width="1.1"/>
<line x1="601.7" y1="681.6" x2="611.1" y2="681.6" stroke="#111" stroke-width="1.1"/>
<line x1="605.9" y1="721" x2="661.6" y2="721" stroke="#111" stroke-width="1.1"/>
<text x="596.8" y="654.8" font-size="7.5" font-weight="normal" fill="#1c1c1c" textLength="33.5" lengthAdjust="spacingAndGlyphs"><tspan font-style="italic">p</tspan><tspan> = 0.0382</tspan></text>
<text x="634.8" y="654.8" font-size="7.5" font-weight="normal" fill="#1c1c1c" textLength="33.5" lengthAdjust="spacingAndGlyphs"><tspan font-style="italic">p</tspan><tspan> = 0.0029</tspan></text>
<line x1="619.2" y1="657.8" x2="631.2" y2="657.8" stroke="#555" stroke-width="1"/>
<line x1="634.8" y1="657.8" x2="646.7" y2="657.8" stroke="#555" stroke-width="1"/>
<rect x="510.8" y="805.6" width="13" height="6.7" fill="#f0c8f6" stroke="#111" stroke-width="0.9"/>
<line x1="517.3" y1="789.5" x2="517.3" y2="805.6" stroke="#111" stroke-width="0.9"/>
<line x1="514.1" y1="789.5" x2="520.5" y2="789.5" stroke="#111" stroke-width="0.9"/>
<circle cx="517.3" cy="784" r="1" fill="#8a1fb0"/>
<circle cx="517.3" cy="798" r="1" fill="#8a1fb0"/>
<circle cx="515.3" cy="811.8" r="1" fill="#8a1fb0"/>
<circle cx="519.3" cy="811.8" r="1" fill="#8a1fb0"/>
<rect x="523.8" y="777.6" width="14.2" height="34.7" fill="#ad4fd3" stroke="#111" stroke-width="0.9"/>
<line x1="530.9" y1="762" x2="530.9" y2="777.6" stroke="#111" stroke-width="0.9"/>
<line x1="527.7" y1="762" x2="534.1" y2="762" stroke="#111" stroke-width="0.9"/>
<circle cx="530.9" cy="753.2" r="1" fill="#8a1fb0"/>
<circle cx="531.9" cy="766" r="1" fill="#8a1fb0"/>
<circle cx="529.9" cy="772" r="1" fill="#8a1fb0"/>
<circle cx="530.9" cy="779" r="1" fill="#8a1fb0"/>
<circle cx="531.9" cy="786" r="1" fill="#8a1fb0"/>
<circle cx="530.9" cy="811" r="1" fill="#8a1fb0"/>
<rect x="538" y="811.2" width="13" height="1.1" fill="#c5c8f8" stroke="#111" stroke-width="0.9"/>
<line x1="544.5" y1="806.5" x2="544.5" y2="811.2" stroke="#111" stroke-width="0.9"/>
<line x1="541.3" y1="806.5" x2="547.7" y2="806.5" stroke="#111" stroke-width="0.9"/>
<circle cx="544.5" cy="798.5" r="1" fill="#6a7af0"/>
<circle cx="544.5" cy="811.8" r="1" fill="#6a7af0"/>
<circle cx="547.5" cy="811.8" r="1" fill="#6a7af0"/>
<rect x="504.3" y="792" width="52.3" height="3.3" fill="#fff"/>
<line x1="503.3" y1="752.2" x2="503.3" y2="791.4" stroke="#111" stroke-width="1.1"/>
<line x1="503.3" y1="795.5" x2="503.3" y2="812.8" stroke="#111" stroke-width="1.1"/>
<line x1="500" y1="752.7" x2="503.3" y2="752.7" stroke="#111" stroke-width="1.1"/>
<text x="498.5" y="755.47" font-size="7.7" font-weight="normal" fill="#111" text-anchor="end" textLength="7.43" lengthAdjust="spacingAndGlyphs">11</text>
<line x1="500" y1="764.6" x2="503.3" y2="764.6" stroke="#111" stroke-width="1.1"/>
<text x="498.5" y="767.37" font-size="7.7" font-weight="normal" fill="#111" text-anchor="end" textLength="3.98" lengthAdjust="spacingAndGlyphs">8</text>
<line x1="500" y1="776.5" x2="503.3" y2="776.5" stroke="#111" stroke-width="1.1"/>
<text x="498.5" y="779.27" font-size="7.7" font-weight="normal" fill="#111" text-anchor="end" textLength="3.98" lengthAdjust="spacingAndGlyphs">5</text>
<line x1="500" y1="788.1" x2="503.3" y2="788.1" stroke="#111" stroke-width="1.1"/>
<text x="498.5" y="790.87" font-size="7.7" font-weight="normal" fill="#111" text-anchor="end" textLength="3.98" lengthAdjust="spacingAndGlyphs">2</text>
<line x1="500" y1="798.1" x2="503.3" y2="798.1" stroke="#111" stroke-width="1.1"/>
<text x="498.5" y="800.87" font-size="7.7" font-weight="normal" fill="#111" text-anchor="end" textLength="3.98" lengthAdjust="spacingAndGlyphs">1</text>
<line x1="500" y1="812.3" x2="503.3" y2="812.3" stroke="#111" stroke-width="1.1"/>
<text x="498.5" y="815.07" font-size="7.7" font-weight="normal" fill="#111" text-anchor="end" textLength="3.98" lengthAdjust="spacingAndGlyphs">0</text>
<line x1="498.6" y1="791.4" x2="508" y2="791.4" stroke="#111" stroke-width="1.1"/>
<line x1="498.6" y1="795.5" x2="508" y2="795.5" stroke="#111" stroke-width="1.1"/>
<line x1="502.8" y1="812.3" x2="559.6" y2="812.3" stroke="#111" stroke-width="1.1"/>
<text x="494" y="745.3" font-size="7.5" font-weight="normal" fill="#1c1c1c" textLength="33.5" lengthAdjust="spacingAndGlyphs"><tspan font-style="italic">p</tspan><tspan> = 0.0233</tspan></text>
<text x="531.6" y="745.3" font-size="7.5" font-weight="normal" fill="#1c1c1c" textLength="33.2" lengthAdjust="spacingAndGlyphs"><tspan font-style="italic">p</tspan><tspan> = 0.0027</tspan></text>
<line x1="516.8" y1="748.3" x2="528.8" y2="748.3" stroke="#555" stroke-width="1"/>
<line x1="532.4" y1="748.3" x2="544.3" y2="748.3" stroke="#555" stroke-width="1"/>
<rect x="612.4" y="810" width="13.8" height="2.3" fill="#f0c8f6" stroke="#111" stroke-width="0.9"/>
<line x1="619.3" y1="809" x2="619.3" y2="810" stroke="#111" stroke-width="0.9"/>
<line x1="616.1" y1="809" x2="622.5" y2="809" stroke="#111" stroke-width="0.9"/>
<circle cx="619.3" cy="806.5" r="1" fill="#8a1fb0"/>
<circle cx="617.3" cy="811.8" r="1" fill="#8a1fb0"/>
<circle cx="621.3" cy="811.8" r="1" fill="#8a1fb0"/>
<rect x="626.2" y="775.8" width="14.2" height="36.5" fill="#ad4fd3" stroke="#111" stroke-width="0.9"/>
<line x1="633.3" y1="763" x2="633.3" y2="775.8" stroke="#111" stroke-width="0.9"/>
<line x1="630.1" y1="763" x2="636.5" y2="763" stroke="#111" stroke-width="0.9"/>
<circle cx="633.3" cy="754" r="1" fill="#8a1fb0"/>
<circle cx="633.3" cy="759" r="1" fill="#8a1fb0"/>
<circle cx="633.3" cy="776" r="1" fill="#8a1fb0"/>
<circle cx="633.3" cy="790" r="1" fill="#8a1fb0"/>
<circle cx="633.3" cy="797" r="1" fill="#8a1fb0"/>
<circle cx="633.3" cy="811" r="1" fill="#8a1fb0"/>
<rect x="640.4" y="811.7" width="13" height="0.6" fill="#c5c8f8" stroke="#111" stroke-width="0.9"/>
<circle cx="645.9" cy="811.3" r="1" fill="#6a7af0"/>
<circle cx="649.9" cy="811.5" r="1" fill="#6a7af0"/>
<circle cx="646.9" cy="810" r="1" fill="#6a7af0"/>
<rect x="607.4" y="781" width="51.2" height="3.2" fill="#fff"/>
<line x1="606.4" y1="752.2" x2="606.4" y2="780.6" stroke="#111" stroke-width="1.1"/>
<line x1="606.4" y1="784.3" x2="606.4" y2="812.8" stroke="#111" stroke-width="1.1"/>
<line x1="603.1" y1="752.7" x2="606.4" y2="752.7" stroke="#111" stroke-width="1.1"/>
<text x="601.6" y="755.47" font-size="7.7" font-weight="normal" fill="#111" text-anchor="end" textLength="3.98" lengthAdjust="spacingAndGlyphs">5</text>
<line x1="603.1" y1="766.5" x2="606.4" y2="766.5" stroke="#111" stroke-width="1.1"/>
<text x="601.6" y="769.27" font-size="7.7" font-weight="normal" fill="#111" text-anchor="end" textLength="3.98" lengthAdjust="spacingAndGlyphs">3</text>
<line x1="603.1" y1="779.5" x2="606.4" y2="779.5" stroke="#111" stroke-width="1.1"/>
<text x="601.6" y="782.27" font-size="7.7" font-weight="normal" fill="#111" text-anchor="end" textLength="3.98" lengthAdjust="spacingAndGlyphs">1</text>
<line x1="603.1" y1="785.8" x2="606.4" y2="785.8" stroke="#111" stroke-width="1.1"/>
<text x="601.6" y="788.57" font-size="7.7" font-weight="normal" fill="#111" text-anchor="end" textLength="9.95" lengthAdjust="spacingAndGlyphs">0.9</text>
<line x1="603.1" y1="795.1" x2="606.4" y2="795.1" stroke="#111" stroke-width="1.1"/>
<text x="601.6" y="797.87" font-size="7.7" font-weight="normal" fill="#111" text-anchor="end" textLength="9.95" lengthAdjust="spacingAndGlyphs">0.6</text>
<line x1="603.1" y1="803.7" x2="606.4" y2="803.7" stroke="#111" stroke-width="1.1"/>
<text x="601.6" y="806.47" font-size="7.7" font-weight="normal" fill="#111" text-anchor="end" textLength="9.95" lengthAdjust="spacingAndGlyphs">0.3</text>
<line x1="603.1" y1="812.3" x2="606.4" y2="812.3" stroke="#111" stroke-width="1.1"/>
<text x="601.6" y="815.07" font-size="7.7" font-weight="normal" fill="#111" text-anchor="end" textLength="9.95" lengthAdjust="spacingAndGlyphs">0.0</text>
<line x1="601.7" y1="780.6" x2="611.1" y2="780.6" stroke="#111" stroke-width="1.1"/>
<line x1="601.7" y1="784.3" x2="611.1" y2="784.3" stroke="#111" stroke-width="1.1"/>
<line x1="605.9" y1="812.3" x2="661.6" y2="812.3" stroke="#111" stroke-width="1.1"/>
<text x="596.8" y="745.3" font-size="7.5" font-weight="normal" fill="#1c1c1c" textLength="33.5" lengthAdjust="spacingAndGlyphs"><tspan font-style="italic">p</tspan><tspan> = 0.0198</tspan></text>
<text x="634.8" y="745.3" font-size="7.5" font-weight="normal" fill="#1c1c1c" textLength="33.5" lengthAdjust="spacingAndGlyphs"><tspan font-style="italic">p</tspan><tspan> = 0.0027</tspan></text>
<line x1="619.2" y1="748.3" x2="631.2" y2="748.3" stroke="#555" stroke-width="1"/>
<line x1="634.8" y1="748.3" x2="646.7" y2="748.3" stroke="#555" stroke-width="1"/>
<!-- pl -->
<text x="458" y="855.5" font-size="15.5" font-weight="bold" fill="#000">l</text>
<rect x="526.1" y="849.9" width="77.8" height="35.4" fill="#fff" stroke="#333" stroke-width="0.9"/>
<line x1="533.1" y1="857.5" x2="541.7" y2="857.5" stroke="#e07ae8" stroke-width="1.3"/>
<text x="544.3" y="860.4" font-size="8.6" font-weight="normal" fill="#e07ae8">Veh/HCD</text>
<line x1="533.1" y1="866.8" x2="541.7" y2="866.8" stroke="#a808a8" stroke-width="1.5"/>
<text x="544.3" y="869.7" font-size="8.6" font-weight="bold" fill="#a808a8">NB/HCD</text>
<line x1="533.1" y1="877.2" x2="541.7" y2="877.2" stroke="#8a8cf0" stroke-width="1.3"/>
<text x="544.3" y="880.1" font-size="8.6" font-weight="normal" fill="#8a8cf0" textLength="52" lengthAdjust="spacingAndGlyphs">NB/HCD/Cld</text>
<line x1="506.3" y1="888" x2="506.3" y2="958.4" stroke="#111" stroke-width="1.1"/>
<line x1="505.8" y1="957.9" x2="640.4" y2="957.9" stroke="#111" stroke-width="1.1"/>
<line x1="503" y1="896.1" x2="506.3" y2="896.1" stroke="#111" stroke-width="1.1"/>
<text x="501.5" y="898.87" font-size="7.7" font-weight="normal" fill="#111" text-anchor="end" textLength="11.95" lengthAdjust="spacingAndGlyphs">100</text>
<line x1="503" y1="927.4" x2="506.3" y2="927.4" stroke="#111" stroke-width="1.1"/>
<text x="501.5" y="930.17" font-size="7.7" font-weight="normal" fill="#111" text-anchor="end" textLength="7.96" lengthAdjust="spacingAndGlyphs">50</text>
<line x1="503" y1="957.9" x2="506.3" y2="957.9" stroke="#111" stroke-width="1.1"/>
<text x="501.5" y="960.67" font-size="7.7" font-weight="normal" fill="#111" text-anchor="end" textLength="3.98" lengthAdjust="spacingAndGlyphs">0</text>
<line x1="506.3" y1="957.9" x2="506.3" y2="960.4" stroke="#111" stroke-width="1"/>
<text x="506.3" y="970.2" font-size="7.6" font-weight="normal" fill="#111" text-anchor="middle">0</text>
<line x1="539.82" y1="957.9" x2="539.82" y2="960.4" stroke="#111" stroke-width="1"/>
<text x="539.82" y="970.2" font-size="7.6" font-weight="normal" fill="#111" text-anchor="middle">20</text>
<line x1="573.34" y1="957.9" x2="573.34" y2="960.4" stroke="#111" stroke-width="1"/>
<text x="573.34" y="970.2" font-size="7.6" font-weight="normal" fill="#111" text-anchor="middle">40</text>
<line x1="606.86" y1="957.9" x2="606.86" y2="960.4" stroke="#111" stroke-width="1"/>
<text x="606.86" y="970.2" font-size="7.6" font-weight="normal" fill="#111" text-anchor="middle">60</text>
<line x1="640.38" y1="957.9" x2="640.38" y2="960.4" stroke="#111" stroke-width="1"/>
<text x="640.38" y="970.2" font-size="7.6" font-weight="normal" fill="#111" text-anchor="middle">80</text>
<text x="573.3" y="979.6" font-size="8.6" font-weight="bold" fill="#000" text-anchor="middle">Day</text>
<text x="0" y="0" font-size="9.2" font-weight="bold" fill="#000" text-anchor="middle" textLength="57" lengthAdjust="spacingAndGlyphs" transform="translate(477.6 928.5) rotate(-90)">Probability of</text>
<text x="0" y="0" font-size="9.2" font-weight="bold" fill="#000" text-anchor="middle" transform="translate(488.6 928.5) rotate(-90)">survival</text>
<path d="M506.3 896.1 L619.9 896.1" fill="none" stroke="#8a8cf0" stroke-width="1.5"/>
<path d="M615 896.1 L625.5 896.1" fill="none" stroke="#8a8cf0" stroke-width="1.5"/>
<path d="M506.3 896.1 L615 896.1 L615 900.6 L625.5 900.6" fill="none" stroke="#e07ae8" stroke-width="1.6"/>
<path d="M566.6 896.1 L566.6 900.2 L574.5 900.2 L574.5 908.8 L581.5 908.8 L581.5 912.9 L601.6 912.9 L601.6 916.6 L619.9 916.6 L619.9 921 L625.5 921" fill="none" stroke="#a808a8" stroke-width="1.7"/>
<path d="M566.6 898.6 l1.6 1.6 l-1.6 1.6 l-1.6 -1.6Z" fill="#a808a8"/>
<path d="M574.5 907.2 l1.6 1.6 l-1.6 1.6 l-1.6 -1.6Z" fill="#a808a8"/>
<path d="M581.5 911.3 l1.6 1.6 l-1.6 1.6 l-1.6 -1.6Z" fill="#a808a8"/>
<path d="M601.6 915 l1.6 1.6 l-1.6 1.6 l-1.6 -1.6Z" fill="#a808a8"/>
<path d="M619.9 919.4 l1.6 1.6 l-1.6 1.6 l-1.6 -1.6Z" fill="#a808a8"/>
<path d="M625.5 919.4 l1.6 1.6 l-1.6 1.6 l-1.6 -1.6Z" fill="#a808a8"/>
<path d="M615 899 l1.6 1.6 l-1.6 1.6 l-1.6 -1.6Z" fill="#e07ae8"/>
<path d="M625.5 899 l1.6 1.6 l-1.6 1.6 l-1.6 -1.6Z" fill="#e07ae8"/>
<path d="M615 894.5 l1.6 1.6 l-1.6 1.6 l-1.6 -1.6Z" fill="#8a8cf0"/>
<path d="M625.5 894.5 l1.6 1.6 l-1.6 1.6 l-1.6 -1.6Z" fill="#8a8cf0"/>
<text x="513.8" y="950.5" font-size="8.6" font-weight="bold" fill="#000" textLength="42.8" lengthAdjust="spacingAndGlyphs"><tspan font-style="italic">p</tspan><tspan> = 0.0044</tspan></text>
</svg>
</body></html>
